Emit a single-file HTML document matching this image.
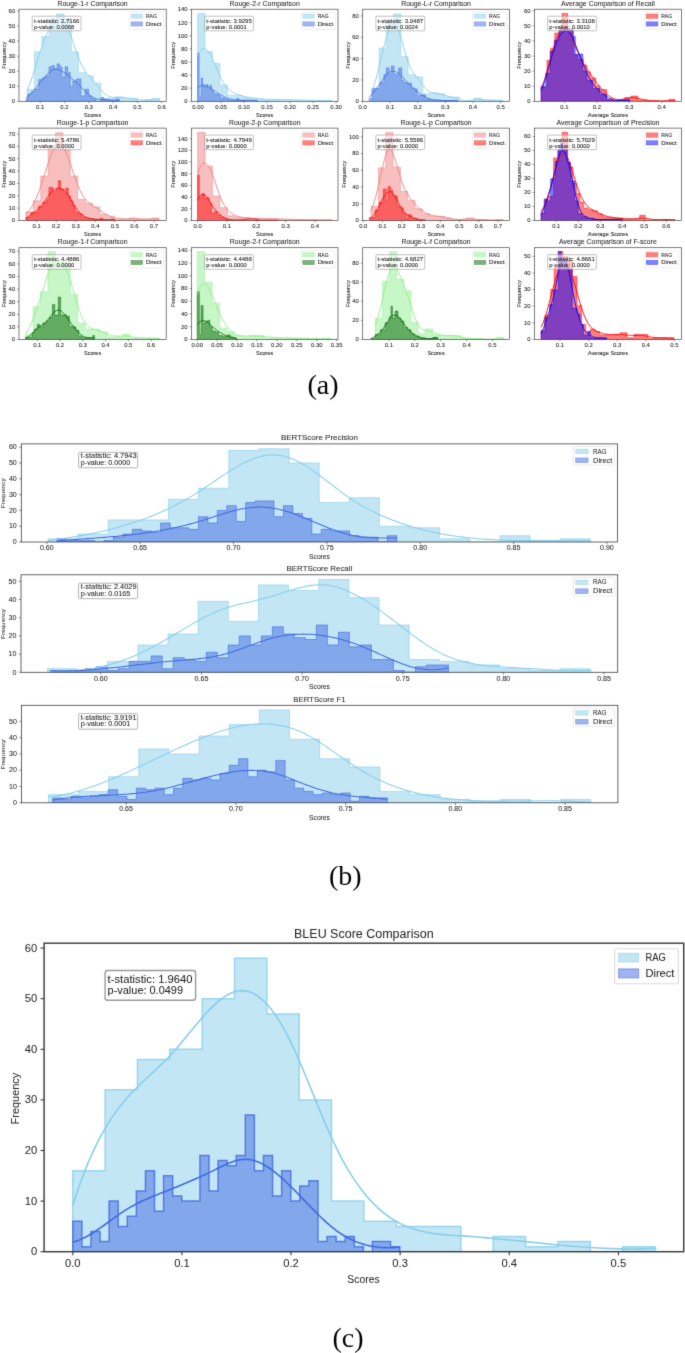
<!DOCTYPE html><html><head><meta charset="utf-8"><style>html,body{margin:0;padding:0;background:#fff}svg{display:block;will-change:transform}</style></head><body><svg width="685" height="1353" viewBox="0 0 685 1353"><defs><filter id="soft" x="0" y="0" width="685" height="1353" filterUnits="userSpaceOnUse" color-interpolation-filters="sRGB"><feConvolveMatrix order="3" kernelMatrix="0.01134 0.08382 0.01134 0.08382 0.61935 0.08382 0.01134 0.08382 0.01134" edgeMode="duplicate"/></filter></defs><rect width="685" height="1353" fill="#fff"/><g filter="url(#soft)"><rect width="685" height="1353" fill="#fff"/><g clip-path="url(#cc)">
<path d="M72.8,1251.7 L72.8,1170.74 L105.14,1170.74 L105.14,1089.78 L137.48,1089.78 L137.48,1059.42 L169.82,1059.42 L169.82,1049.3 L202.16,1049.3 L202.16,998.7 L234.5,998.7 L234.5,958.22 L266.84,958.22 L266.84,1013.88 L299.18,1013.88 L299.18,1099.9 L331.52,1099.9 L331.52,1201.1 L363.86,1201.1 L363.86,1221.34 L396.2,1221.34 L396.2,1226.4 L428.54,1226.4 L428.54,1226.4 L460.88,1226.4 L460.88,1251.7 L493.22,1251.7 L493.22,1236.52 L525.56,1236.52 L525.56,1246.64 L557.9,1246.64 L557.9,1241.58 L590.24,1241.58 L590.24,1251.7 L622.58,1251.7 L622.58,1246.64 L654.92,1246.64 L654.92,1251.7 Z" fill="rgba(135,206,235,0.5)" stroke="none"/>
<path d="M72.8,1251.7 L72.8,1170.74 L105.14,1170.74 L105.14,1089.78 L137.48,1089.78 L137.48,1059.42 L169.82,1059.42 L169.82,1049.3 L202.16,1049.3 L202.16,998.7 L234.5,998.7 L234.5,958.22 L266.84,958.22 L266.84,1013.88 L299.18,1013.88 L299.18,1099.9 L331.52,1099.9 L331.52,1201.1 L363.86,1201.1 L363.86,1221.34 L396.2,1221.34 L396.2,1226.4 L428.54,1226.4 L428.54,1226.4 L460.88,1226.4 L460.88,1251.7 L493.22,1251.7 L493.22,1236.52 L525.56,1236.52 L525.56,1246.64 L557.9,1246.64 L557.9,1241.58 L590.24,1241.58 L590.24,1251.7 L622.58,1251.7 L622.58,1246.64 L654.92,1246.64 L654.92,1251.7 Z" fill="none" stroke="rgba(135,206,235,0.8)" stroke-width="1.5" stroke-linejoin="miter"/>
<path d="M72.8,1251.7 L72.8,1221.34 L81.88,1221.34 L81.88,1246.64 L90.96,1246.64 L90.96,1231.46 L100.04,1231.46 L100.04,1241.58 L109.12,1241.58 L109.12,1201.1 L118.2,1201.1 L118.2,1226.4 L127.28,1226.4 L127.28,1216.28 L136.36,1216.28 L136.36,1190.98 L145.44,1190.98 L145.44,1170.74 L154.52,1170.74 L154.52,1211.22 L163.6,1211.22 L163.6,1175.8 L172.68,1175.8 L172.68,1196.04 L181.76,1196.04 L181.76,1201.1 L190.84,1201.1 L190.84,1201.1 L199.92,1201.1 L199.92,1155.56 L209,1155.56 L209,1190.98 L218.08,1190.98 L218.08,1160.62 L227.16,1160.62 L227.16,1165.68 L236.24,1165.68 L236.24,1155.56 L245.32,1155.56 L245.32,1115.08 L254.4,1115.08 L254.4,1170.74 L263.48,1170.74 L263.48,1155.56 L272.56,1155.56 L272.56,1196.04 L281.64,1196.04 L281.64,1170.74 L290.72,1170.74 L290.72,1201.1 L299.8,1201.1 L299.8,1185.92 L308.88,1185.92 L308.88,1180.86 L317.96,1180.86 L317.96,1241.58 L327.04,1241.58 L327.04,1236.52 L336.12,1236.52 L336.12,1241.58 L345.2,1241.58 L345.2,1236.52 L354.28,1236.52 L354.28,1246.64 L363.36,1246.64 L363.36,1251.7 L372.44,1251.7 L372.44,1241.58 L381.52,1241.58 L381.52,1241.58 L390.6,1241.58 L390.6,1246.64 L399.68,1246.64 L399.68,1251.7 Z" fill="rgba(65,105,225,0.5)" stroke="none"/>
<path d="M72.8,1251.7 L72.8,1221.34 L81.88,1221.34 L81.88,1246.64 L90.96,1246.64 L90.96,1231.46 L100.04,1231.46 L100.04,1241.58 L109.12,1241.58 L109.12,1201.1 L118.2,1201.1 L118.2,1226.4 L127.28,1226.4 L127.28,1216.28 L136.36,1216.28 L136.36,1190.98 L145.44,1190.98 L145.44,1170.74 L154.52,1170.74 L154.52,1211.22 L163.6,1211.22 L163.6,1175.8 L172.68,1175.8 L172.68,1196.04 L181.76,1196.04 L181.76,1201.1 L190.84,1201.1 L190.84,1201.1 L199.92,1201.1 L199.92,1155.56 L209,1155.56 L209,1190.98 L218.08,1190.98 L218.08,1160.62 L227.16,1160.62 L227.16,1165.68 L236.24,1165.68 L236.24,1155.56 L245.32,1155.56 L245.32,1115.08 L254.4,1115.08 L254.4,1170.74 L263.48,1170.74 L263.48,1155.56 L272.56,1155.56 L272.56,1196.04 L281.64,1196.04 L281.64,1170.74 L290.72,1170.74 L290.72,1201.1 L299.8,1201.1 L299.8,1185.92 L308.88,1185.92 L308.88,1180.86 L317.96,1180.86 L317.96,1241.58 L327.04,1241.58 L327.04,1236.52 L336.12,1236.52 L336.12,1241.58 L345.2,1241.58 L345.2,1236.52 L354.28,1236.52 L354.28,1246.64 L363.36,1246.64 L363.36,1251.7 L372.44,1251.7 L372.44,1241.58 L381.52,1241.58 L381.52,1241.58 L390.6,1241.58 L390.6,1246.64 L399.68,1246.64 L399.68,1251.7 Z" fill="none" stroke="rgba(65,105,225,0.8)" stroke-width="1.5" stroke-linejoin="miter"/>
<path d="M72.8,1205.43 L76.47,1194.07 L80.14,1183.46 L83.81,1173.57 L87.49,1164.36 L91.16,1155.78 L94.83,1147.81 L98.5,1140.4 L102.17,1133.51 L105.84,1127.12 L109.52,1121.18 L113.19,1115.66 L116.86,1110.52 L120.53,1105.72 L124.2,1101.22 L127.87,1096.99 L131.55,1092.99 L135.22,1089.18 L138.89,1085.53 L142.56,1082 L146.23,1078.54 L149.9,1075.14 L153.58,1071.73 L157.25,1068.3 L160.92,1064.8 L164.59,1061.2 L168.26,1057.46 L171.93,1053.53 L175.61,1049.42 L179.28,1045.15 L182.95,1040.77 L186.62,1036.32 L190.29,1031.85 L193.96,1027.4 L197.64,1023.01 L201.31,1018.72 L204.98,1014.57 L208.65,1010.62 L212.32,1006.9 L215.99,1003.45 L219.67,1000.32 L223.34,997.55 L227.01,995.18 L230.68,993.26 L234.35,991.83 L238.02,990.93 L241.7,990.6 L245.37,990.86 L249.04,991.72 L252.71,993.16 L256.38,995.19 L260.05,997.8 L263.73,1001 L267.4,1004.77 L271.07,1009.12 L274.74,1014.04 L278.41,1019.54 L282.08,1025.61 L285.76,1032.24 L289.43,1039.43 L293.1,1047.1 L296.77,1055.18 L300.44,1063.6 L304.11,1072.28 L307.79,1081.14 L311.46,1090.11 L315.13,1099.11 L318.8,1108.07 L322.47,1116.92 L326.14,1125.57 L329.82,1133.94 L333.49,1141.98 L337.16,1149.6 L340.83,1156.78 L344.5,1163.54 L348.17,1169.89 L351.85,1175.84 L355.52,1181.41 L359.19,1186.61 L362.86,1191.45 L366.53,1195.95 L370.2,1200.12 L373.88,1203.98 L377.55,1207.53 L381.22,1210.78 L384.89,1213.77 L388.56,1216.48 L392.23,1218.95 L395.91,1221.18 L399.58,1223.19 L403.25,1224.99 L406.92,1226.59 L410.59,1228 L414.26,1229.24 L417.93,1230.33 L421.61,1231.27 L425.28,1232.08 L428.95,1232.78 L432.62,1233.37 L436.29,1233.86 L439.96,1234.28 L443.64,1234.64 L447.31,1234.94 L450.98,1235.21 L454.65,1235.45 L458.32,1235.68 L461.99,1235.91 L465.67,1236.16 L469.34,1236.42 L473.01,1236.69 L476.68,1236.98 L480.35,1237.28 L484.02,1237.59 L487.7,1237.91 L491.37,1238.25 L495.04,1238.59 L498.71,1238.94 L502.38,1239.3 L506.05,1239.66 L509.73,1240.03 L513.4,1240.4 L517.07,1240.78 L520.74,1241.16 L524.41,1241.54 L528.08,1241.92 L531.76,1242.3 L535.43,1242.67 L539.1,1243.05 L542.77,1243.42 L546.44,1243.79 L550.11,1244.15 L553.79,1244.51 L557.46,1244.86 L561.13,1245.2 L564.8,1245.54 L568.47,1245.86 L572.14,1246.18 L575.82,1246.48 L579.49,1246.76 L583.16,1247.04 L586.83,1247.3 L590.5,1247.55 L594.17,1247.77 L597.85,1247.99 L601.52,1248.18 L605.19,1248.35 L608.86,1248.51 L612.53,1248.64 L616.2,1248.75 L619.88,1248.84 L623.55,1248.9 L627.22,1248.94 L630.89,1248.95 L634.56,1248.94 L638.23,1248.9 L641.91,1248.83 L645.58,1248.73 L649.25,1248.6 L652.92,1248.44 L656.59,1248.24" fill="none" stroke="rgb(135,206,235)" stroke-width="1.6" stroke-linejoin="round" stroke-linecap="butt"/>
<path d="M72.8,1242.17 L74.86,1241.59 L76.92,1240.91 L78.98,1240.13 L81.04,1239.27 L83.09,1238.31 L85.15,1237.28 L87.21,1236.18 L89.27,1235.01 L91.33,1233.78 L93.39,1232.5 L95.45,1231.16 L97.51,1229.79 L99.57,1228.38 L101.62,1226.94 L103.68,1225.48 L105.74,1224 L107.8,1222.51 L109.86,1221.02 L111.92,1219.53 L113.98,1218.04 L116.04,1216.57 L118.1,1215.12 L120.15,1213.69 L122.21,1212.3 L124.27,1210.94 L126.33,1209.63 L128.39,1208.36 L130.45,1207.15 L132.51,1205.99 L134.57,1204.88 L136.62,1203.8 L138.68,1202.77 L140.74,1201.77 L142.8,1200.8 L144.86,1199.87 L146.92,1198.96 L148.98,1198.07 L151.04,1197.2 L153.1,1196.35 L155.15,1195.51 L157.21,1194.68 L159.27,1193.85 L161.33,1193.03 L163.39,1192.22 L165.45,1191.39 L167.51,1190.57 L169.57,1189.75 L171.63,1188.92 L173.68,1188.09 L175.74,1187.25 L177.8,1186.41 L179.86,1185.56 L181.92,1184.71 L183.98,1183.85 L186.04,1182.99 L188.1,1182.11 L190.16,1181.23 L192.21,1180.34 L194.27,1179.45 L196.33,1178.54 L198.39,1177.62 L200.45,1176.69 L202.51,1175.76 L204.57,1174.81 L206.63,1173.84 L208.69,1172.87 L210.74,1171.88 L212.8,1170.88 L214.86,1169.87 L216.92,1168.84 L218.98,1167.81 L221.04,1166.79 L223.1,1165.79 L225.16,1164.82 L227.22,1163.9 L229.27,1163.02 L231.33,1162.21 L233.39,1161.48 L235.45,1160.83 L237.51,1160.29 L239.57,1159.85 L241.63,1159.53 L243.69,1159.34 L245.74,1159.29 L247.8,1159.39 L249.86,1159.64 L251.92,1160.03 L253.98,1160.54 L256.04,1161.19 L258.1,1161.96 L260.16,1162.85 L262.22,1163.85 L264.27,1164.96 L266.33,1166.17 L268.39,1167.47 L270.45,1168.87 L272.51,1170.36 L274.57,1171.92 L276.63,1173.56 L278.69,1175.27 L280.75,1177.05 L282.8,1178.89 L284.86,1180.78 L286.92,1182.72 L288.98,1184.71 L291.04,1186.73 L293.1,1188.79 L295.16,1190.88 L297.22,1192.99 L299.28,1195.12 L301.33,1197.26 L303.39,1199.41 L305.45,1201.56 L307.51,1203.71 L309.57,1205.85 L311.63,1207.98 L313.69,1210.09 L315.75,1212.17 L317.81,1214.23 L319.86,1216.25 L321.92,1218.23 L323.98,1220.17 L326.04,1222.05 L328.1,1223.88 L330.16,1225.66 L332.22,1227.36 L334.28,1228.99 L336.34,1230.55 L338.39,1232.03 L340.45,1233.43 L342.51,1234.75 L344.57,1236 L346.63,1237.18 L348.69,1238.28 L350.75,1239.31 L352.81,1240.28 L354.86,1241.17 L356.92,1242.01 L358.98,1242.78 L361.04,1243.48 L363.1,1244.13 L365.16,1244.71 L367.22,1245.24 L369.28,1245.71 L371.34,1246.13 L373.39,1246.5 L375.45,1246.81 L377.51,1247.08 L379.57,1247.29 L381.63,1247.47 L383.69,1247.59 L385.75,1247.67 L387.81,1247.72 L389.87,1247.72 L391.92,1247.68 L393.98,1247.61 L396.04,1247.5 L398.1,1247.35 L400.16,1247.18" fill="none" stroke="rgb(65,105,225)" stroke-width="1.6" stroke-linejoin="round" stroke-linecap="butt"/>
</g>
<clipPath id="cc"><rect x="44.1" y="943.2" width="639.6" height="308.5"/></clipPath>
<rect x="105.1" y="970.5" width="90.5" height="29.8" rx="2.5" fill="rgba(255,255,255,0.55)" stroke="#999" stroke-width="1.38"/>
<text x="107.6" y="982.6" font-family="Liberation Sans" font-size="10.18" text-anchor="start" textLength="84.89" lengthAdjust="spacingAndGlyphs" fill="#202020" stroke="#202020" stroke-width="0.03">t-statistic: 1.9640</text>
<text x="107.6" y="993.6" font-family="Liberation Sans" font-size="10.18" text-anchor="start" textLength="75.4" lengthAdjust="spacingAndGlyphs" fill="#202020" stroke="#202020" stroke-width="0.03">p-value: 0.0499</text>
<rect x="614.7" y="948.8" width="63.7" height="35" rx="2" fill="rgba(255,255,255,0.8)" stroke="#dcdcdc" stroke-width="1.1"/>
<rect x="618.6" y="953.3" width="20" height="8.7" fill="rgba(135,206,235,0.5)" stroke="rgba(135,206,235,0.5)" stroke-width="1.1"/>
<text x="645.4" y="961.4" font-family="Liberation Sans" font-size="10.28" text-anchor="start" textLength="20.33" lengthAdjust="spacingAndGlyphs" fill="#202020" stroke="#202020" stroke-width="0.03">RAG</text>
<rect x="618.6" y="968.9" width="20" height="9" fill="rgba(65,105,225,0.5)" stroke="rgba(65,105,225,0.5)" stroke-width="1.1"/>
<text x="645.4" y="977.2" font-family="Liberation Sans" font-size="10.28" text-anchor="start" textLength="29.04" lengthAdjust="spacingAndGlyphs" fill="#202020" stroke="#202020" stroke-width="0.03">Direct</text>
<rect x="44.1" y="943.2" width="639.6" height="308.5" fill="none" stroke="#3a3a3a" stroke-width="1.43"/>
<line x1="72.8" y1="1251.7" x2="72.8" y2="1255.3" stroke="#3a3a3a" stroke-width="1.1"/>
<text x="72.8" y="1267.4" font-family="Liberation Sans" font-size="10.39" text-anchor="middle" textLength="15.59" lengthAdjust="spacingAndGlyphs" fill="#262626" stroke="#262626" stroke-width="0.03">0.0</text>
<line x1="181.92" y1="1251.7" x2="181.92" y2="1255.3" stroke="#3a3a3a" stroke-width="1.1"/>
<text x="181.92" y="1267.4" font-family="Liberation Sans" font-size="10.39" text-anchor="middle" textLength="15.59" lengthAdjust="spacingAndGlyphs" fill="#262626" stroke="#262626" stroke-width="0.03">0.1</text>
<line x1="291.04" y1="1251.7" x2="291.04" y2="1255.3" stroke="#3a3a3a" stroke-width="1.1"/>
<text x="291.04" y="1267.4" font-family="Liberation Sans" font-size="10.39" text-anchor="middle" textLength="15.59" lengthAdjust="spacingAndGlyphs" fill="#262626" stroke="#262626" stroke-width="0.03">0.2</text>
<line x1="400.16" y1="1251.7" x2="400.16" y2="1255.3" stroke="#3a3a3a" stroke-width="1.1"/>
<text x="400.16" y="1267.4" font-family="Liberation Sans" font-size="10.39" text-anchor="middle" textLength="15.59" lengthAdjust="spacingAndGlyphs" fill="#262626" stroke="#262626" stroke-width="0.03">0.3</text>
<line x1="509.28" y1="1251.7" x2="509.28" y2="1255.3" stroke="#3a3a3a" stroke-width="1.1"/>
<text x="509.28" y="1267.4" font-family="Liberation Sans" font-size="10.39" text-anchor="middle" textLength="15.59" lengthAdjust="spacingAndGlyphs" fill="#262626" stroke="#262626" stroke-width="0.03">0.4</text>
<line x1="618.4" y1="1251.7" x2="618.4" y2="1255.3" stroke="#3a3a3a" stroke-width="1.1"/>
<text x="618.4" y="1267.4" font-family="Liberation Sans" font-size="10.39" text-anchor="middle" textLength="15.59" lengthAdjust="spacingAndGlyphs" fill="#262626" stroke="#262626" stroke-width="0.03">0.5</text>
<line x1="40.5" y1="1251.7" x2="44.1" y2="1251.7" stroke="#3a3a3a" stroke-width="1.1"/>
<text x="37.3" y="1255.23" font-family="Liberation Sans" font-size="10.39" text-anchor="end" textLength="6.24" lengthAdjust="spacingAndGlyphs" fill="#262626" stroke="#262626" stroke-width="0.03">0</text>
<line x1="40.5" y1="1201.1" x2="44.1" y2="1201.1" stroke="#3a3a3a" stroke-width="1.1"/>
<text x="37.3" y="1204.63" font-family="Liberation Sans" font-size="10.39" text-anchor="end" textLength="12.47" lengthAdjust="spacingAndGlyphs" fill="#262626" stroke="#262626" stroke-width="0.03">10</text>
<line x1="40.5" y1="1150.5" x2="44.1" y2="1150.5" stroke="#3a3a3a" stroke-width="1.1"/>
<text x="37.3" y="1154.03" font-family="Liberation Sans" font-size="10.39" text-anchor="end" textLength="12.47" lengthAdjust="spacingAndGlyphs" fill="#262626" stroke="#262626" stroke-width="0.03">20</text>
<line x1="40.5" y1="1099.9" x2="44.1" y2="1099.9" stroke="#3a3a3a" stroke-width="1.1"/>
<text x="37.3" y="1103.43" font-family="Liberation Sans" font-size="10.39" text-anchor="end" textLength="12.47" lengthAdjust="spacingAndGlyphs" fill="#262626" stroke="#262626" stroke-width="0.03">30</text>
<line x1="40.5" y1="1049.3" x2="44.1" y2="1049.3" stroke="#3a3a3a" stroke-width="1.1"/>
<text x="37.3" y="1052.83" font-family="Liberation Sans" font-size="10.39" text-anchor="end" textLength="12.47" lengthAdjust="spacingAndGlyphs" fill="#262626" stroke="#262626" stroke-width="0.03">40</text>
<line x1="40.5" y1="998.7" x2="44.1" y2="998.7" stroke="#3a3a3a" stroke-width="1.1"/>
<text x="37.3" y="1002.23" font-family="Liberation Sans" font-size="10.39" text-anchor="end" textLength="12.47" lengthAdjust="spacingAndGlyphs" fill="#262626" stroke="#262626" stroke-width="0.03">50</text>
<line x1="40.5" y1="948.1" x2="44.1" y2="948.1" stroke="#3a3a3a" stroke-width="1.1"/>
<text x="37.3" y="951.63" font-family="Liberation Sans" font-size="10.39" text-anchor="end" textLength="12.47" lengthAdjust="spacingAndGlyphs" fill="#262626" stroke="#262626" stroke-width="0.03">60</text>
<text x="363.8" y="938" font-family="Liberation Sans" font-size="12.3" text-anchor="middle" textLength="139.56" lengthAdjust="spacingAndGlyphs" fill="#262626" stroke="#262626" stroke-width="0.03">BLEU Score Comparison</text>
<text x="363.5" y="1282.5" font-family="Liberation Sans" font-size="10.28" text-anchor="middle" textLength="32.22" lengthAdjust="spacingAndGlyphs" fill="#262626" stroke="#262626" stroke-width="0.03">Scores</text>
<text transform="translate(18.9,1098.6) rotate(-90)" x="0" y="0" font-family="Liberation Sans" font-size="10.6" text-anchor="middle" textLength="51.66" lengthAdjust="spacingAndGlyphs" fill="#262626" stroke="#262626" stroke-width="0.03">Frequency</text>
<g clip-path="url(#b0)">
<path d="M48,542 L48,538.84 L78.13,538.84 L78.13,534.1 L108.26,534.1 L108.26,519.88 L138.39,519.88 L138.39,519.88 L168.52,519.88 L168.52,499.34 L198.65,499.34 L198.65,488.28 L228.78,488.28 L228.78,450.36 L258.91,450.36 L258.91,448.78 L289.04,448.78 L289.04,463 L319.17,463 L319.17,502.5 L349.3,502.5 L349.3,497.76 L379.43,497.76 L379.43,526.2 L409.56,526.2 L409.56,527.78 L439.69,527.78 L439.69,538.84 L469.82,538.84 L469.82,542 L499.95,542 L499.95,535.68 L530.08,535.68 L530.08,540.42 L560.21,540.42 L560.21,538.84 L590.34,538.84 L590.34,542 Z" fill="rgba(135,206,235,0.5)" stroke="none"/>
<path d="M48,542 L48,538.84 L78.13,538.84 L78.13,534.1 L108.26,534.1 L108.26,519.88 L138.39,519.88 L138.39,519.88 L168.52,519.88 L168.52,499.34 L198.65,499.34 L198.65,488.28 L228.78,488.28 L228.78,450.36 L258.91,450.36 L258.91,448.78 L289.04,448.78 L289.04,463 L319.17,463 L319.17,502.5 L349.3,502.5 L349.3,497.76 L379.43,497.76 L379.43,526.2 L409.56,526.2 L409.56,527.78 L439.69,527.78 L439.69,538.84 L469.82,538.84 L469.82,542 L499.95,542 L499.95,535.68 L530.08,535.68 L530.08,540.42 L560.21,540.42 L560.21,538.84 L590.34,538.84 L590.34,542 Z" fill="none" stroke="rgba(135,206,235,0.75)" stroke-width="0.8" stroke-linejoin="miter"/>
<path d="M56.8,542 L56.8,538.84 L66.24,538.84 L66.24,540.42 L75.69,540.42 L75.69,540.42 L85.13,540.42 L85.13,540.42 L94.58,540.42 L94.58,542 L104.02,542 L104.02,540.42 L113.46,540.42 L113.46,537.26 L122.91,537.26 L122.91,534.1 L132.35,534.1 L132.35,529.36 L141.8,529.36 L141.8,530.94 L151.24,530.94 L151.24,532.52 L160.68,532.52 L160.68,523.04 L170.13,523.04 L170.13,527.78 L179.57,527.78 L179.57,527.78 L189.02,527.78 L189.02,529.36 L198.46,529.36 L198.46,516.72 L207.9,516.72 L207.9,523.04 L217.35,523.04 L217.35,510.4 L226.79,510.4 L226.79,505.66 L236.24,505.66 L236.24,521.46 L245.68,521.46 L245.68,502.5 L255.12,502.5 L255.12,500.92 L264.57,500.92 L264.57,500.92 L274.01,500.92 L274.01,516.72 L283.46,516.72 L283.46,505.66 L292.9,505.66 L292.9,513.56 L302.34,513.56 L302.34,518.3 L311.79,518.3 L311.79,534.1 L321.23,534.1 L321.23,529.36 L330.68,529.36 L330.68,530.94 L340.12,530.94 L340.12,530.94 L349.56,530.94 L349.56,535.68 L359.01,535.68 L359.01,537.26 L368.45,537.26 L368.45,537.26 L377.9,537.26 L377.9,542 L387.34,542 L387.34,535.68 L396.78,535.68 L396.78,542 Z" fill="rgba(65,105,225,0.5)" stroke="none"/>
<path d="M56.8,542 L56.8,538.84 L66.24,538.84 L66.24,540.42 L75.69,540.42 L75.69,540.42 L85.13,540.42 L85.13,540.42 L94.58,540.42 L94.58,542 L104.02,542 L104.02,540.42 L113.46,540.42 L113.46,537.26 L122.91,537.26 L122.91,534.1 L132.35,534.1 L132.35,529.36 L141.8,529.36 L141.8,530.94 L151.24,530.94 L151.24,532.52 L160.68,532.52 L160.68,523.04 L170.13,523.04 L170.13,527.78 L179.57,527.78 L179.57,527.78 L189.02,527.78 L189.02,529.36 L198.46,529.36 L198.46,516.72 L207.9,516.72 L207.9,523.04 L217.35,523.04 L217.35,510.4 L226.79,510.4 L226.79,505.66 L236.24,505.66 L236.24,521.46 L245.68,521.46 L245.68,502.5 L255.12,502.5 L255.12,500.92 L264.57,500.92 L264.57,500.92 L274.01,500.92 L274.01,516.72 L283.46,516.72 L283.46,505.66 L292.9,505.66 L292.9,513.56 L302.34,513.56 L302.34,518.3 L311.79,518.3 L311.79,534.1 L321.23,534.1 L321.23,529.36 L330.68,529.36 L330.68,530.94 L340.12,530.94 L340.12,530.94 L349.56,530.94 L349.56,535.68 L359.01,535.68 L359.01,537.26 L368.45,537.26 L368.45,537.26 L377.9,537.26 L377.9,542 L387.34,542 L387.34,535.68 L396.78,535.68 L396.78,542 Z" fill="none" stroke="rgba(65,105,225,0.75)" stroke-width="0.8" stroke-linejoin="miter"/>
<path d="M47.92,540.76 L51.33,540.29 L54.75,539.81 L58.16,539.32 L61.57,538.81 L64.99,538.29 L68.4,537.75 L71.81,537.19 L75.23,536.62 L78.64,536.03 L82.05,535.41 L85.47,534.77 L88.88,534.11 L92.29,533.42 L95.71,532.71 L99.12,531.96 L102.54,531.19 L105.95,530.39 L109.36,529.55 L112.78,528.69 L116.19,527.78 L119.6,526.84 L123.02,525.87 L126.43,524.85 L129.84,523.8 L133.26,522.7 L136.67,521.56 L140.08,520.38 L143.5,519.15 L146.91,517.87 L150.32,516.55 L153.74,515.17 L157.15,513.75 L160.56,512.27 L163.98,510.74 L167.39,509.16 L170.8,507.52 L174.22,505.82 L177.63,504.06 L181.04,502.25 L184.46,500.37 L187.87,498.43 L191.28,496.42 L194.7,494.35 L198.11,492.21 L201.52,490.01 L204.94,487.75 L208.35,485.44 L211.77,483.12 L215.18,480.78 L218.59,478.45 L222.01,476.14 L225.42,473.87 L228.83,471.65 L232.25,469.5 L235.66,467.44 L239.07,465.48 L242.49,463.63 L245.9,461.92 L249.31,460.35 L252.73,458.94 L256.14,457.72 L259.55,456.69 L262.97,455.87 L266.38,455.28 L269.79,454.92 L273.21,454.83 L276.62,454.99 L280.03,455.4 L283.45,456.06 L286.86,456.96 L290.27,458.1 L293.69,459.47 L297.1,461.06 L300.51,462.84 L303.93,464.8 L307.34,466.91 L310.76,469.16 L314.17,471.52 L317.58,473.98 L321,476.51 L324.41,479.1 L327.82,481.72 L331.24,484.36 L334.65,486.99 L338.06,489.6 L341.48,492.16 L344.89,494.66 L348.3,497.07 L351.72,499.38 L355.13,501.58 L358.54,503.68 L361.96,505.68 L365.37,507.59 L368.78,509.41 L372.2,511.15 L375.61,512.82 L379.02,514.41 L382.44,515.94 L385.85,517.41 L389.26,518.82 L392.68,520.18 L396.09,521.47 L399.5,522.71 L402.92,523.89 L406.33,525.03 L409.74,526.1 L413.16,527.13 L416.57,528.11 L419.99,529.04 L423.4,529.92 L426.81,530.76 L430.23,531.55 L433.64,532.3 L437.05,533.01 L440.47,533.67 L443.88,534.3 L447.29,534.88 L450.71,535.44 L454.12,535.95 L457.53,536.43 L460.95,536.88 L464.36,537.29 L467.77,537.67 L471.19,538.03 L474.6,538.35 L478.01,538.65 L481.43,538.92 L484.84,539.17 L488.25,539.39 L491.67,539.59 L495.08,539.77 L498.49,539.92 L501.91,540.06 L505.32,540.19 L508.73,540.29 L512.15,540.38 L515.56,540.46 L518.97,540.52 L522.39,540.57 L525.8,540.61 L529.22,540.64 L532.63,540.66 L536.04,540.68 L539.46,540.69 L542.87,540.7 L546.28,540.7 L549.7,540.7 L553.11,540.7 L556.52,540.7 L559.94,540.71 L563.35,540.71 L566.76,540.72 L570.18,540.74 L573.59,540.76 L577,540.79 L580.42,540.83 L583.83,540.88 L587.24,540.94 L590.66,541.01" fill="none" stroke="rgb(135,206,235)" stroke-width="1.05" stroke-linejoin="round" stroke-linecap="butt"/>
<path d="M57.44,540.69 L59.58,540.54 L61.71,540.38 L63.85,540.23 L65.98,540.09 L68.12,539.94 L70.25,539.79 L72.38,539.65 L74.52,539.5 L76.65,539.36 L78.79,539.21 L80.92,539.07 L83.06,538.92 L85.19,538.77 L87.33,538.62 L89.46,538.47 L91.6,538.32 L93.73,538.17 L95.87,538.01 L98,537.85 L100.14,537.69 L102.27,537.53 L104.41,537.36 L106.54,537.18 L108.68,537.01 L110.81,536.82 L112.94,536.64 L115.08,536.44 L117.21,536.25 L119.35,536.04 L121.48,535.83 L123.62,535.62 L125.75,535.4 L127.89,535.17 L130.02,534.93 L132.16,534.68 L134.29,534.43 L136.43,534.17 L138.56,533.9 L140.7,533.62 L142.83,533.34 L144.97,533.04 L147.1,532.74 L149.23,532.42 L151.37,532.09 L153.5,531.76 L155.64,531.41 L157.77,531.05 L159.91,530.68 L162.04,530.3 L164.18,529.9 L166.31,529.5 L168.45,529.08 L170.58,528.65 L172.72,528.2 L174.85,527.74 L176.99,527.27 L179.12,526.78 L181.26,526.28 L183.39,525.76 L185.53,525.23 L187.66,524.69 L189.79,524.12 L191.93,523.54 L194.06,522.95 L196.2,522.34 L198.33,521.71 L200.47,521.06 L202.6,520.4 L204.74,519.73 L206.87,519.05 L209.01,518.36 L211.14,517.66 L213.28,516.97 L215.41,516.28 L217.55,515.59 L219.68,514.91 L221.82,514.23 L223.95,513.57 L226.08,512.93 L228.22,512.31 L230.35,511.7 L232.49,511.12 L234.62,510.57 L236.76,510.05 L238.89,509.56 L241.03,509.1 L243.16,508.68 L245.3,508.31 L247.43,507.98 L249.57,507.69 L251.7,507.45 L253.84,507.27 L255.97,507.14 L258.11,507.07 L260.24,507.06 L262.38,507.1 L264.51,507.21 L266.64,507.38 L268.78,507.6 L270.91,507.87 L273.05,508.2 L275.18,508.58 L277.32,509.01 L279.45,509.49 L281.59,510.02 L283.72,510.6 L285.86,511.22 L287.99,511.87 L290.13,512.57 L292.26,513.29 L294.4,514.05 L296.53,514.84 L298.67,515.65 L300.8,516.48 L302.93,517.33 L305.07,518.2 L307.2,519.08 L309.34,519.97 L311.47,520.86 L313.61,521.76 L315.74,522.66 L317.88,523.56 L320.01,524.46 L322.15,525.34 L324.28,526.22 L326.42,527.08 L328.55,527.92 L330.69,528.75 L332.82,529.55 L334.96,530.33 L337.09,531.07 L339.23,531.79 L341.36,532.47 L343.49,533.11 L345.63,533.71 L347.76,534.27 L349.9,534.78 L352.03,535.25 L354.17,535.66 L356.3,536.04 L358.44,536.37 L360.57,536.66 L362.71,536.91 L364.84,537.13 L366.98,537.32 L369.11,537.48 L371.25,537.61 L373.38,537.72 L375.52,537.8 L377.65,537.86 L379.78,537.9 L381.92,537.93 L384.05,537.95 L386.19,537.95 L388.32,537.95 L390.46,537.94 L392.59,537.92 L394.73,537.9 L396.86,537.89" fill="none" stroke="rgb(65,105,225)" stroke-width="1.05" stroke-linejoin="round" stroke-linecap="butt"/>
</g>
<clipPath id="b0"><rect x="21.3" y="443.9" width="596.2" height="98.1"/></clipPath>
<rect x="78.6" y="452.3" width="59" height="15.5" rx="1.5" fill="rgba(255,255,255,0.55)" stroke="#999" stroke-width="0.75"/>
<text x="80.8" y="458.3" font-family="Liberation Sans" font-size="6.68" text-anchor="start" textLength="55.71" lengthAdjust="spacingAndGlyphs" fill="#202020" stroke="#202020" stroke-width="0.05">t-statistic: 4.7943</text>
<text x="80.8" y="464.7" font-family="Liberation Sans" font-size="6.68" text-anchor="start" textLength="49.48" lengthAdjust="spacingAndGlyphs" fill="#202020" stroke="#202020" stroke-width="0.05">p-value: 0.0000</text>
<rect x="573.2" y="446.6" width="41.4" height="18.6" rx="1.3" fill="rgba(255,255,255,0.8)" stroke="#dcdcdc" stroke-width="0.6"/>
<rect x="575.6" y="449.1" width="12.5" height="4.7" fill="rgba(135,206,235,0.5)" stroke="rgba(135,206,235,0.5)" stroke-width="0.6"/>
<text x="593.1" y="453.5" font-family="Liberation Sans" font-size="6.78" text-anchor="start" textLength="13.41" lengthAdjust="spacingAndGlyphs" fill="#202020" stroke="#202020" stroke-width="0.05">RAG</text>
<rect x="575.6" y="457.9" width="12.5" height="4.8" fill="rgba(65,105,225,0.5)" stroke="rgba(65,105,225,0.5)" stroke-width="0.6"/>
<text x="593.1" y="462.5" font-family="Liberation Sans" font-size="6.78" text-anchor="start" textLength="19.16" lengthAdjust="spacingAndGlyphs" fill="#202020" stroke="#202020" stroke-width="0.05">Direct</text>
<rect x="21.3" y="443.9" width="596.2" height="98.1" fill="none" stroke="#3a3a3a" stroke-width="0.78"/>
<line x1="46.8" y1="542" x2="46.8" y2="544.2" stroke="#3a3a3a" stroke-width="0.6"/>
<text x="46.8" y="550.4" font-family="Liberation Sans" font-size="6.57" text-anchor="middle" textLength="13.8" lengthAdjust="spacingAndGlyphs" fill="#262626" stroke="#262626" stroke-width="0.05">0.60</text>
<line x1="140.15" y1="542" x2="140.15" y2="544.2" stroke="#3a3a3a" stroke-width="0.6"/>
<text x="140.15" y="550.4" font-family="Liberation Sans" font-size="6.57" text-anchor="middle" textLength="13.8" lengthAdjust="spacingAndGlyphs" fill="#262626" stroke="#262626" stroke-width="0.05">0.65</text>
<line x1="233.5" y1="542" x2="233.5" y2="544.2" stroke="#3a3a3a" stroke-width="0.6"/>
<text x="233.5" y="550.4" font-family="Liberation Sans" font-size="6.57" text-anchor="middle" textLength="13.8" lengthAdjust="spacingAndGlyphs" fill="#262626" stroke="#262626" stroke-width="0.05">0.70</text>
<line x1="326.85" y1="542" x2="326.85" y2="544.2" stroke="#3a3a3a" stroke-width="0.6"/>
<text x="326.85" y="550.4" font-family="Liberation Sans" font-size="6.57" text-anchor="middle" textLength="13.8" lengthAdjust="spacingAndGlyphs" fill="#262626" stroke="#262626" stroke-width="0.05">0.75</text>
<line x1="420.2" y1="542" x2="420.2" y2="544.2" stroke="#3a3a3a" stroke-width="0.6"/>
<text x="420.2" y="550.4" font-family="Liberation Sans" font-size="6.57" text-anchor="middle" textLength="13.8" lengthAdjust="spacingAndGlyphs" fill="#262626" stroke="#262626" stroke-width="0.05">0.80</text>
<line x1="513.55" y1="542" x2="513.55" y2="544.2" stroke="#3a3a3a" stroke-width="0.6"/>
<text x="513.55" y="550.4" font-family="Liberation Sans" font-size="6.57" text-anchor="middle" textLength="13.8" lengthAdjust="spacingAndGlyphs" fill="#262626" stroke="#262626" stroke-width="0.05">0.85</text>
<line x1="606.9" y1="542" x2="606.9" y2="544.2" stroke="#3a3a3a" stroke-width="0.6"/>
<text x="606.9" y="550.4" font-family="Liberation Sans" font-size="6.57" text-anchor="middle" textLength="13.8" lengthAdjust="spacingAndGlyphs" fill="#262626" stroke="#262626" stroke-width="0.05">0.90</text>
<line x1="19.1" y1="542" x2="21.3" y2="542" stroke="#3a3a3a" stroke-width="0.6"/>
<text x="16.8" y="544.23" font-family="Liberation Sans" font-size="6.57" text-anchor="end" textLength="3.94" lengthAdjust="spacingAndGlyphs" fill="#262626" stroke="#262626" stroke-width="0.05">0</text>
<line x1="19.1" y1="526.2" x2="21.3" y2="526.2" stroke="#3a3a3a" stroke-width="0.6"/>
<text x="16.8" y="528.43" font-family="Liberation Sans" font-size="6.57" text-anchor="end" textLength="7.89" lengthAdjust="spacingAndGlyphs" fill="#262626" stroke="#262626" stroke-width="0.05">10</text>
<line x1="19.1" y1="510.4" x2="21.3" y2="510.4" stroke="#3a3a3a" stroke-width="0.6"/>
<text x="16.8" y="512.63" font-family="Liberation Sans" font-size="6.57" text-anchor="end" textLength="7.89" lengthAdjust="spacingAndGlyphs" fill="#262626" stroke="#262626" stroke-width="0.05">20</text>
<line x1="19.1" y1="494.6" x2="21.3" y2="494.6" stroke="#3a3a3a" stroke-width="0.6"/>
<text x="16.8" y="496.83" font-family="Liberation Sans" font-size="6.57" text-anchor="end" textLength="7.89" lengthAdjust="spacingAndGlyphs" fill="#262626" stroke="#262626" stroke-width="0.05">30</text>
<line x1="19.1" y1="478.8" x2="21.3" y2="478.8" stroke="#3a3a3a" stroke-width="0.6"/>
<text x="16.8" y="481.03" font-family="Liberation Sans" font-size="6.57" text-anchor="end" textLength="7.89" lengthAdjust="spacingAndGlyphs" fill="#262626" stroke="#262626" stroke-width="0.05">40</text>
<line x1="19.1" y1="463" x2="21.3" y2="463" stroke="#3a3a3a" stroke-width="0.6"/>
<text x="16.8" y="465.23" font-family="Liberation Sans" font-size="6.57" text-anchor="end" textLength="7.89" lengthAdjust="spacingAndGlyphs" fill="#262626" stroke="#262626" stroke-width="0.05">50</text>
<line x1="19.1" y1="447.2" x2="21.3" y2="447.2" stroke="#3a3a3a" stroke-width="0.6"/>
<text x="16.8" y="449.43" font-family="Liberation Sans" font-size="6.57" text-anchor="end" textLength="7.89" lengthAdjust="spacingAndGlyphs" fill="#262626" stroke="#262626" stroke-width="0.05">60</text>
<text x="319.4" y="440.3" font-family="Liberation Sans" font-size="8.06" text-anchor="middle" textLength="77" lengthAdjust="spacingAndGlyphs" fill="#262626" stroke="#262626" stroke-width="0.05">BERTScore Precision</text>
<text x="319.5" y="558.8" font-family="Liberation Sans" font-size="6.68" text-anchor="middle" textLength="20.93" lengthAdjust="spacingAndGlyphs" fill="#262626" stroke="#262626" stroke-width="0.05">Scores</text>
<text transform="translate(4.7,493.35) rotate(-90)" x="0" y="0" font-family="Liberation Sans" font-size="6.15" text-anchor="middle" textLength="29.96" lengthAdjust="spacingAndGlyphs" fill="#262626" stroke="#262626" stroke-width="0.05">Frequency</text>
<g clip-path="url(#b1)">
<path d="M47.4,672.3 L47.4,668.66 L77.55,668.66 L77.55,670.48 L107.7,670.48 L107.7,661.38 L137.85,661.38 L137.85,645 L168,645 L168,634.08 L198.15,634.08 L198.15,601.32 L228.3,601.32 L228.3,621.34 L258.45,621.34 L258.45,584.94 L288.6,584.94 L288.6,590.4 L318.75,590.4 L318.75,579.48 L348.9,579.48 L348.9,597.68 L379.05,597.68 L379.05,624.98 L409.2,624.98 L409.2,659.56 L439.35,659.56 L439.35,661.38 L469.5,661.38 L469.5,665.02 L499.65,665.02 L499.65,668.66 L529.8,668.66 L529.8,670.48 L559.95,670.48 L559.95,668.66 L590.1,668.66 L590.1,672.3 Z" fill="rgba(135,206,235,0.5)" stroke="none"/>
<path d="M47.4,672.3 L47.4,668.66 L77.55,668.66 L77.55,670.48 L107.7,670.48 L107.7,661.38 L137.85,661.38 L137.85,645 L168,645 L168,634.08 L198.15,634.08 L198.15,601.32 L228.3,601.32 L228.3,621.34 L258.45,621.34 L258.45,584.94 L288.6,584.94 L288.6,590.4 L318.75,590.4 L318.75,579.48 L348.9,579.48 L348.9,597.68 L379.05,597.68 L379.05,624.98 L409.2,624.98 L409.2,659.56 L439.35,659.56 L439.35,661.38 L469.5,661.38 L469.5,665.02 L499.65,665.02 L499.65,668.66 L529.8,668.66 L529.8,670.48 L559.95,670.48 L559.95,668.66 L590.1,668.66 L590.1,672.3 Z" fill="none" stroke="rgba(135,206,235,0.75)" stroke-width="0.8" stroke-linejoin="miter"/>
<path d="M52.1,672.3 L52.1,670.48 L63.11,670.48 L63.11,670.48 L74.12,670.48 L74.12,670.48 L85.13,670.48 L85.13,668.66 L96.14,668.66 L96.14,666.84 L107.15,666.84 L107.15,670.48 L118.16,670.48 L118.16,668.66 L129.17,668.66 L129.17,661.38 L140.18,661.38 L140.18,661.38 L151.19,661.38 L151.19,655.92 L162.2,655.92 L162.2,668.66 L173.21,668.66 L173.21,657.74 L184.22,657.74 L184.22,659.56 L195.23,659.56 L195.23,661.38 L206.24,661.38 L206.24,652.28 L217.25,652.28 L217.25,657.74 L228.26,657.74 L228.26,645 L239.27,645 L239.27,635.9 L250.28,635.9 L250.28,645 L261.29,645 L261.29,635.9 L272.3,635.9 L272.3,626.8 L283.31,626.8 L283.31,634.08 L294.32,634.08 L294.32,637.72 L305.33,637.72 L305.33,639.54 L316.34,639.54 L316.34,624.98 L327.35,624.98 L327.35,645 L338.36,645 L338.36,632.26 L349.37,632.26 L349.37,646.82 L360.38,646.82 L360.38,645 L371.39,645 L371.39,659.56 L382.4,659.56 L382.4,659.56 L393.41,659.56 L393.41,670.48 L404.42,670.48 L404.42,672.3 L415.43,672.3 L415.43,666.84 L426.44,666.84 L426.44,665.02 L437.45,665.02 L437.45,665.02 L448.46,665.02 L448.46,672.3 Z" fill="rgba(65,105,225,0.5)" stroke="none"/>
<path d="M52.1,672.3 L52.1,670.48 L63.11,670.48 L63.11,670.48 L74.12,670.48 L74.12,670.48 L85.13,670.48 L85.13,668.66 L96.14,668.66 L96.14,666.84 L107.15,666.84 L107.15,670.48 L118.16,670.48 L118.16,668.66 L129.17,668.66 L129.17,661.38 L140.18,661.38 L140.18,661.38 L151.19,661.38 L151.19,655.92 L162.2,655.92 L162.2,668.66 L173.21,668.66 L173.21,657.74 L184.22,657.74 L184.22,659.56 L195.23,659.56 L195.23,661.38 L206.24,661.38 L206.24,652.28 L217.25,652.28 L217.25,657.74 L228.26,657.74 L228.26,645 L239.27,645 L239.27,635.9 L250.28,635.9 L250.28,645 L261.29,645 L261.29,635.9 L272.3,635.9 L272.3,626.8 L283.31,626.8 L283.31,634.08 L294.32,634.08 L294.32,637.72 L305.33,637.72 L305.33,639.54 L316.34,639.54 L316.34,624.98 L327.35,624.98 L327.35,645 L338.36,645 L338.36,632.26 L349.37,632.26 L349.37,646.82 L360.38,646.82 L360.38,645 L371.39,645 L371.39,659.56 L382.4,659.56 L382.4,659.56 L393.41,659.56 L393.41,670.48 L404.42,670.48 L404.42,672.3 L415.43,672.3 L415.43,666.84 L426.44,666.84 L426.44,665.02 L437.45,665.02 L437.45,665.02 L448.46,665.02 L448.46,672.3 Z" fill="none" stroke="rgba(65,105,225,0.75)" stroke-width="0.8" stroke-linejoin="miter"/>
<path d="M49.67,670.61 L53.08,670.82 L56.49,670.96 L59.9,671.03 L63.31,671.05 L66.72,670.99 L70.13,670.87 L73.54,670.68 L76.95,670.43 L80.35,670.11 L83.76,669.72 L87.17,669.26 L90.58,668.74 L93.99,668.15 L97.4,667.49 L100.81,666.76 L104.22,665.97 L107.63,665.1 L111.04,664.17 L114.45,663.16 L117.86,662.09 L121.27,660.95 L124.68,659.74 L128.09,658.46 L131.5,657.1 L134.91,655.68 L138.32,654.18 L141.72,652.62 L145.13,650.98 L148.54,649.27 L151.95,647.49 L155.36,645.65 L158.77,643.75 L162.18,641.81 L165.59,639.82 L169,637.81 L172.41,635.78 L175.82,633.74 L179.23,631.69 L182.64,629.66 L186.05,627.63 L189.46,625.64 L192.87,623.67 L196.28,621.75 L199.69,619.87 L203.09,618.06 L206.5,616.31 L209.91,614.65 L213.32,613.06 L216.73,611.58 L220.14,610.19 L223.55,608.92 L226.96,607.77 L230.37,606.71 L233.78,605.75 L237.19,604.86 L240.6,604.02 L244.01,603.23 L247.42,602.45 L250.83,601.69 L254.24,600.91 L257.65,600.11 L261.06,599.27 L264.46,598.38 L267.87,597.44 L271.28,596.44 L274.69,595.41 L278.1,594.33 L281.51,593.24 L284.92,592.15 L288.33,591.07 L291.74,590.03 L295.15,589.03 L298.56,588.09 L301.97,587.24 L305.38,586.49 L308.79,585.86 L312.2,585.37 L315.61,585.03 L319.02,584.87 L322.42,584.9 L325.83,585.14 L329.24,585.58 L332.65,586.23 L336.06,587.06 L339.47,588.06 L342.88,589.24 L346.29,590.57 L349.7,592.06 L353.11,593.68 L356.52,595.44 L359.93,597.32 L363.34,599.31 L366.75,601.41 L370.16,603.6 L373.57,605.88 L376.98,608.23 L380.39,610.66 L383.79,613.14 L387.2,615.66 L390.61,618.23 L394.02,620.83 L397.43,623.45 L400.84,626.07 L404.25,628.69 L407.66,631.29 L411.07,633.86 L414.48,636.39 L417.89,638.86 L421.3,641.26 L424.71,643.59 L428.12,645.82 L431.53,647.96 L434.94,649.97 L438.35,651.86 L441.76,653.61 L445.16,655.21 L448.57,656.68 L451.98,658.01 L455.39,659.21 L458.8,660.3 L462.21,661.28 L465.62,662.16 L469.03,662.94 L472.44,663.62 L475.85,664.23 L479.26,664.77 L482.67,665.23 L486.08,665.64 L489.49,665.99 L492.9,666.3 L496.31,666.57 L499.72,666.81 L503.13,667.02 L506.53,667.22 L509.94,667.41 L513.35,667.59 L516.76,667.78 L520.17,667.98 L523.58,668.19 L526.99,668.4 L530.4,668.62 L533.81,668.84 L537.22,669.05 L540.63,669.26 L544.04,669.47 L547.45,669.67 L550.86,669.85 L554.27,670.02 L557.68,670.18 L561.09,670.32 L564.5,670.43 L567.9,670.53 L571.31,670.59 L574.72,670.63 L578.13,670.64 L581.54,670.61 L584.95,670.55 L588.36,670.45 L591.77,670.31" fill="none" stroke="rgb(135,206,235)" stroke-width="1.05" stroke-linejoin="round" stroke-linecap="butt"/>
<path d="M49.67,670.7 L52.18,670.8 L54.69,670.88 L57.19,670.93 L59.7,670.97 L62.21,670.98 L64.72,670.97 L67.23,670.94 L69.73,670.89 L72.24,670.82 L74.75,670.74 L77.26,670.63 L79.77,670.52 L82.27,670.38 L84.78,670.23 L87.29,670.07 L89.8,669.89 L92.31,669.7 L94.81,669.5 L97.32,669.28 L99.83,669.06 L102.34,668.83 L104.85,668.58 L107.35,668.33 L109.86,668.07 L112.37,667.8 L114.88,667.53 L117.39,667.25 L119.89,666.96 L122.4,666.67 L124.91,666.38 L127.42,666.09 L129.93,665.79 L132.43,665.49 L134.94,665.19 L137.45,664.89 L139.96,664.59 L142.47,664.29 L144.97,663.99 L147.48,663.7 L149.99,663.41 L152.5,663.12 L155.01,662.84 L157.51,662.56 L160.02,662.29 L162.53,662.03 L165.04,661.77 L167.55,661.53 L170.05,661.29 L172.56,661.06 L175.07,660.84 L177.58,660.64 L180.09,660.43 L182.59,660.23 L185.1,660.03 L187.61,659.82 L190.12,659.61 L192.63,659.39 L195.14,659.15 L197.64,658.89 L200.15,658.61 L202.66,658.31 L205.17,657.98 L207.68,657.62 L210.18,657.23 L212.69,656.79 L215.2,656.32 L217.71,655.8 L220.22,655.24 L222.72,654.62 L225.23,653.95 L227.74,653.23 L230.25,652.46 L232.76,651.66 L235.26,650.82 L237.77,649.95 L240.28,649.06 L242.79,648.15 L245.3,647.23 L247.8,646.3 L250.31,645.38 L252.82,644.46 L255.33,643.55 L257.84,642.66 L260.34,641.79 L262.85,640.95 L265.36,640.14 L267.87,639.37 L270.38,638.65 L272.88,637.98 L275.39,637.36 L277.9,636.8 L280.41,636.29 L282.92,635.84 L285.42,635.45 L287.93,635.1 L290.44,634.81 L292.95,634.57 L295.46,634.39 L297.96,634.25 L300.47,634.17 L302.98,634.14 L305.49,634.15 L308,634.22 L310.5,634.33 L313.01,634.49 L315.52,634.7 L318.03,634.96 L320.54,635.26 L323.04,635.61 L325.55,636 L328.06,636.43 L330.57,636.91 L333.08,637.44 L335.58,638 L338.09,638.61 L340.6,639.26 L343.11,639.95 L345.62,640.69 L348.12,641.46 L350.63,642.27 L353.14,643.12 L355.65,644.01 L358.16,644.93 L360.66,645.89 L363.17,646.89 L365.68,647.93 L368.19,648.99 L370.7,650.09 L373.2,651.21 L375.71,652.34 L378.22,653.49 L380.73,654.64 L383.24,655.79 L385.74,656.93 L388.25,658.06 L390.76,659.17 L393.27,660.25 L395.78,661.31 L398.28,662.33 L400.79,663.3 L403.3,664.23 L405.81,665.1 L408.32,665.91 L410.82,666.66 L413.33,667.34 L415.84,667.93 L418.35,668.45 L420.86,668.88 L423.36,669.22 L425.87,669.48 L428.38,669.64 L430.89,669.72 L433.4,669.7 L435.9,669.59 L438.41,669.38 L440.92,669.07 L443.43,668.67 L445.94,668.16 L448.45,667.55" fill="none" stroke="rgb(65,105,225)" stroke-width="1.05" stroke-linejoin="round" stroke-linecap="butt"/>
</g>
<clipPath id="b1"><rect x="21" y="574.8" width="596.7" height="97.5"/></clipPath>
<rect x="78.6" y="583.2" width="59" height="15.5" rx="1.5" fill="rgba(255,255,255,0.55)" stroke="#999" stroke-width="0.75"/>
<text x="80.8" y="589.2" font-family="Liberation Sans" font-size="6.68" text-anchor="start" textLength="55.71" lengthAdjust="spacingAndGlyphs" fill="#202020" stroke="#202020" stroke-width="0.05">t-statistic: 2.4029</text>
<text x="80.8" y="595.6" font-family="Liberation Sans" font-size="6.68" text-anchor="start" textLength="49.48" lengthAdjust="spacingAndGlyphs" fill="#202020" stroke="#202020" stroke-width="0.05">p-value: 0.0165</text>
<rect x="573.2" y="577.5" width="41.4" height="18.6" rx="1.3" fill="rgba(255,255,255,0.8)" stroke="#dcdcdc" stroke-width="0.6"/>
<rect x="575.6" y="580" width="12.5" height="4.7" fill="rgba(135,206,235,0.5)" stroke="rgba(135,206,235,0.5)" stroke-width="0.6"/>
<text x="593.1" y="584.4" font-family="Liberation Sans" font-size="6.78" text-anchor="start" textLength="13.41" lengthAdjust="spacingAndGlyphs" fill="#202020" stroke="#202020" stroke-width="0.05">RAG</text>
<rect x="575.6" y="588.8" width="12.5" height="4.8" fill="rgba(65,105,225,0.5)" stroke="rgba(65,105,225,0.5)" stroke-width="0.6"/>
<text x="593.1" y="593.4" font-family="Liberation Sans" font-size="6.78" text-anchor="start" textLength="19.16" lengthAdjust="spacingAndGlyphs" fill="#202020" stroke="#202020" stroke-width="0.05">Direct</text>
<rect x="21" y="574.8" width="596.7" height="97.5" fill="none" stroke="#3a3a3a" stroke-width="0.78"/>
<line x1="100.8" y1="672.3" x2="100.8" y2="674.5" stroke="#3a3a3a" stroke-width="0.6"/>
<text x="100.8" y="680.7" font-family="Liberation Sans" font-size="6.57" text-anchor="middle" textLength="13.8" lengthAdjust="spacingAndGlyphs" fill="#262626" stroke="#262626" stroke-width="0.05">0.60</text>
<line x1="201.45" y1="672.3" x2="201.45" y2="674.5" stroke="#3a3a3a" stroke-width="0.6"/>
<text x="201.45" y="680.7" font-family="Liberation Sans" font-size="6.57" text-anchor="middle" textLength="13.8" lengthAdjust="spacingAndGlyphs" fill="#262626" stroke="#262626" stroke-width="0.05">0.65</text>
<line x1="302.1" y1="672.3" x2="302.1" y2="674.5" stroke="#3a3a3a" stroke-width="0.6"/>
<text x="302.1" y="680.7" font-family="Liberation Sans" font-size="6.57" text-anchor="middle" textLength="13.8" lengthAdjust="spacingAndGlyphs" fill="#262626" stroke="#262626" stroke-width="0.05">0.70</text>
<line x1="402.75" y1="672.3" x2="402.75" y2="674.5" stroke="#3a3a3a" stroke-width="0.6"/>
<text x="402.75" y="680.7" font-family="Liberation Sans" font-size="6.57" text-anchor="middle" textLength="13.8" lengthAdjust="spacingAndGlyphs" fill="#262626" stroke="#262626" stroke-width="0.05">0.75</text>
<line x1="503.4" y1="672.3" x2="503.4" y2="674.5" stroke="#3a3a3a" stroke-width="0.6"/>
<text x="503.4" y="680.7" font-family="Liberation Sans" font-size="6.57" text-anchor="middle" textLength="13.8" lengthAdjust="spacingAndGlyphs" fill="#262626" stroke="#262626" stroke-width="0.05">0.80</text>
<line x1="604.05" y1="672.3" x2="604.05" y2="674.5" stroke="#3a3a3a" stroke-width="0.6"/>
<text x="604.05" y="680.7" font-family="Liberation Sans" font-size="6.57" text-anchor="middle" textLength="13.8" lengthAdjust="spacingAndGlyphs" fill="#262626" stroke="#262626" stroke-width="0.05">0.85</text>
<line x1="18.8" y1="672.3" x2="21" y2="672.3" stroke="#3a3a3a" stroke-width="0.6"/>
<text x="16.5" y="674.53" font-family="Liberation Sans" font-size="6.57" text-anchor="end" textLength="3.94" lengthAdjust="spacingAndGlyphs" fill="#262626" stroke="#262626" stroke-width="0.05">0</text>
<line x1="18.8" y1="654.1" x2="21" y2="654.1" stroke="#3a3a3a" stroke-width="0.6"/>
<text x="16.5" y="656.33" font-family="Liberation Sans" font-size="6.57" text-anchor="end" textLength="7.89" lengthAdjust="spacingAndGlyphs" fill="#262626" stroke="#262626" stroke-width="0.05">10</text>
<line x1="18.8" y1="635.9" x2="21" y2="635.9" stroke="#3a3a3a" stroke-width="0.6"/>
<text x="16.5" y="638.13" font-family="Liberation Sans" font-size="6.57" text-anchor="end" textLength="7.89" lengthAdjust="spacingAndGlyphs" fill="#262626" stroke="#262626" stroke-width="0.05">20</text>
<line x1="18.8" y1="617.7" x2="21" y2="617.7" stroke="#3a3a3a" stroke-width="0.6"/>
<text x="16.5" y="619.93" font-family="Liberation Sans" font-size="6.57" text-anchor="end" textLength="7.89" lengthAdjust="spacingAndGlyphs" fill="#262626" stroke="#262626" stroke-width="0.05">30</text>
<line x1="18.8" y1="599.5" x2="21" y2="599.5" stroke="#3a3a3a" stroke-width="0.6"/>
<text x="16.5" y="601.73" font-family="Liberation Sans" font-size="6.57" text-anchor="end" textLength="7.89" lengthAdjust="spacingAndGlyphs" fill="#262626" stroke="#262626" stroke-width="0.05">40</text>
<line x1="18.8" y1="581.3" x2="21" y2="581.3" stroke="#3a3a3a" stroke-width="0.6"/>
<text x="16.5" y="583.53" font-family="Liberation Sans" font-size="6.57" text-anchor="end" textLength="7.89" lengthAdjust="spacingAndGlyphs" fill="#262626" stroke="#262626" stroke-width="0.05">50</text>
<text x="319.4" y="571.2" font-family="Liberation Sans" font-size="8.06" text-anchor="middle" textLength="65.76" lengthAdjust="spacingAndGlyphs" fill="#262626" stroke="#262626" stroke-width="0.05">BERTScore Recall</text>
<text x="319.5" y="689.1" font-family="Liberation Sans" font-size="6.68" text-anchor="middle" textLength="20.93" lengthAdjust="spacingAndGlyphs" fill="#262626" stroke="#262626" stroke-width="0.05">Scores</text>
<text transform="translate(4.7,623.95) rotate(-90)" x="0" y="0" font-family="Liberation Sans" font-size="6.15" text-anchor="middle" textLength="29.96" lengthAdjust="spacingAndGlyphs" fill="#262626" stroke="#262626" stroke-width="0.05">Frequency</text>
<g clip-path="url(#b2)">
<path d="M48.4,802.8 L48.4,794.65 L78.54,794.65 L78.54,791.39 L108.68,791.39 L108.68,776.72 L138.82,776.72 L138.82,749.01 L168.96,749.01 L168.96,753.9 L199.1,753.9 L199.1,735.97 L229.24,735.97 L229.24,724.56 L259.38,724.56 L259.38,709.89 L289.52,709.89 L289.52,739.23 L319.66,739.23 L319.66,758.79 L349.8,758.79 L349.8,766.94 L379.94,766.94 L379.94,791.39 L410.08,791.39 L410.08,794.65 L440.22,794.65 L440.22,799.54 L470.36,799.54 L470.36,801.17 L500.5,801.17 L500.5,799.54 L530.64,799.54 L530.64,802.8 L560.78,802.8 L560.78,799.54 L590.92,799.54 L590.92,802.8 Z" fill="rgba(135,206,235,0.5)" stroke="none"/>
<path d="M48.4,802.8 L48.4,794.65 L78.54,794.65 L78.54,791.39 L108.68,791.39 L108.68,776.72 L138.82,776.72 L138.82,749.01 L168.96,749.01 L168.96,753.9 L199.1,753.9 L199.1,735.97 L229.24,735.97 L229.24,724.56 L259.38,724.56 L259.38,709.89 L289.52,709.89 L289.52,739.23 L319.66,739.23 L319.66,758.79 L349.8,758.79 L349.8,766.94 L379.94,766.94 L379.94,791.39 L410.08,791.39 L410.08,794.65 L440.22,794.65 L440.22,799.54 L470.36,799.54 L470.36,801.17 L500.5,801.17 L500.5,799.54 L530.64,799.54 L530.64,802.8 L560.78,802.8 L560.78,799.54 L590.92,799.54 L590.92,802.8 Z" fill="none" stroke="rgba(135,206,235,0.75)" stroke-width="0.8" stroke-linejoin="miter"/>
<path d="M52.6,802.8 L52.6,797.91 L61.9,797.91 L61.9,799.54 L71.2,799.54 L71.2,796.28 L80.5,796.28 L80.5,797.91 L89.8,797.91 L89.8,796.28 L99.1,796.28 L99.1,794.65 L108.4,794.65 L108.4,789.76 L117.7,789.76 L117.7,796.28 L127,796.28 L127,799.54 L136.3,799.54 L136.3,788.13 L145.6,788.13 L145.6,789.76 L154.9,789.76 L154.9,788.13 L164.2,788.13 L164.2,794.65 L173.5,794.65 L173.5,788.13 L182.8,788.13 L182.8,778.35 L192.1,778.35 L192.1,779.98 L201.4,779.98 L201.4,778.35 L210.7,778.35 L210.7,779.98 L220,779.98 L220,773.46 L229.3,773.46 L229.3,765.31 L238.6,765.31 L238.6,758.79 L247.9,758.79 L247.9,776.72 L257.2,776.72 L257.2,770.2 L266.5,770.2 L266.5,771.83 L275.8,771.83 L275.8,760.42 L285.1,760.42 L285.1,779.98 L294.4,779.98 L294.4,788.13 L303.7,788.13 L303.7,791.39 L313,791.39 L313,794.65 L322.3,794.65 L322.3,793.02 L331.6,793.02 L331.6,794.65 L340.9,794.65 L340.9,793.02 L350.2,793.02 L350.2,801.17 L359.5,801.17 L359.5,796.28 L368.8,796.28 L368.8,797.91 L378.1,797.91 L378.1,797.91 L387.4,797.91 L387.4,802.8 Z" fill="rgba(65,105,225,0.5)" stroke="none"/>
<path d="M52.6,802.8 L52.6,797.91 L61.9,797.91 L61.9,799.54 L71.2,799.54 L71.2,796.28 L80.5,796.28 L80.5,797.91 L89.8,797.91 L89.8,796.28 L99.1,796.28 L99.1,794.65 L108.4,794.65 L108.4,789.76 L117.7,789.76 L117.7,796.28 L127,796.28 L127,799.54 L136.3,799.54 L136.3,788.13 L145.6,788.13 L145.6,789.76 L154.9,789.76 L154.9,788.13 L164.2,788.13 L164.2,794.65 L173.5,794.65 L173.5,788.13 L182.8,788.13 L182.8,778.35 L192.1,778.35 L192.1,779.98 L201.4,779.98 L201.4,778.35 L210.7,778.35 L210.7,779.98 L220,779.98 L220,773.46 L229.3,773.46 L229.3,765.31 L238.6,765.31 L238.6,758.79 L247.9,758.79 L247.9,776.72 L257.2,776.72 L257.2,770.2 L266.5,770.2 L266.5,771.83 L275.8,771.83 L275.8,760.42 L285.1,760.42 L285.1,779.98 L294.4,779.98 L294.4,788.13 L303.7,788.13 L303.7,791.39 L313,791.39 L313,794.65 L322.3,794.65 L322.3,793.02 L331.6,793.02 L331.6,794.65 L340.9,794.65 L340.9,793.02 L350.2,793.02 L350.2,801.17 L359.5,801.17 L359.5,796.28 L368.8,796.28 L368.8,797.91 L378.1,797.91 L378.1,797.91 L387.4,797.91 L387.4,802.8 Z" fill="none" stroke="rgba(65,105,225,0.75)" stroke-width="0.8" stroke-linejoin="miter"/>
<path d="M48.4,796.91 L51.81,796.54 L55.22,796.08 L58.63,795.55 L62.04,794.94 L65.45,794.25 L68.86,793.49 L72.28,792.67 L75.69,791.78 L79.1,790.82 L82.51,789.81 L85.92,788.74 L89.33,787.61 L92.74,786.44 L96.15,785.21 L99.57,783.94 L102.98,782.62 L106.39,781.27 L109.8,779.87 L113.21,778.44 L116.62,776.98 L120.03,775.49 L123.44,773.97 L126.86,772.43 L130.27,770.87 L133.68,769.28 L137.09,767.69 L140.5,766.08 L143.91,764.46 L147.32,762.83 L150.73,761.19 L154.14,759.56 L157.56,757.93 L160.97,756.3 L164.38,754.67 L167.79,753.06 L171.2,751.46 L174.61,749.87 L178.02,748.3 L181.43,746.75 L184.85,745.22 L188.26,743.72 L191.67,742.25 L195.08,740.81 L198.49,739.4 L201.9,738.03 L205.31,736.7 L208.72,735.41 L212.14,734.17 L215.55,732.98 L218.96,731.84 L222.37,730.76 L225.78,729.74 L229.19,728.78 L232.6,727.9 L236.01,727.09 L239.43,726.36 L242.84,725.72 L246.25,725.16 L249.66,724.7 L253.07,724.33 L256.48,724.07 L259.89,723.91 L263.3,723.86 L266.72,723.93 L270.13,724.11 L273.54,724.42 L276.95,724.86 L280.36,725.43 L283.77,726.13 L287.18,726.98 L290.59,727.97 L294.01,729.11 L297.42,730.41 L300.83,731.86 L304.24,733.48 L307.65,735.23 L311.06,737.11 L314.47,739.11 L317.88,741.21 L321.29,743.39 L324.71,745.65 L328.12,747.96 L331.53,750.31 L334.94,752.69 L338.35,755.08 L341.76,757.47 L345.17,759.85 L348.58,762.19 L352,764.49 L355.41,766.73 L358.82,768.9 L362.23,770.97 L365.64,772.96 L369.05,774.85 L372.46,776.66 L375.87,778.38 L379.29,780.02 L382.7,781.57 L386.11,783.05 L389.52,784.45 L392.93,785.77 L396.34,787.02 L399.75,788.2 L403.16,789.31 L406.58,790.36 L409.99,791.34 L413.4,792.26 L416.81,793.12 L420.22,793.92 L423.63,794.67 L427.04,795.37 L430.45,796.01 L433.87,796.61 L437.28,797.16 L440.69,797.67 L444.1,798.13 L447.51,798.55 L450.92,798.93 L454.33,799.27 L457.74,799.58 L461.16,799.85 L464.57,800.09 L467.98,800.3 L471.39,800.49 L474.8,800.64 L478.21,800.77 L481.62,800.87 L485.03,800.96 L488.44,801.02 L491.86,801.07 L495.27,801.1 L498.68,801.11 L502.09,801.11 L505.5,801.1 L508.91,801.09 L512.32,801.06 L515.73,801.03 L519.15,800.99 L522.56,800.95 L525.97,800.92 L529.38,800.88 L532.79,800.84 L536.2,800.82 L539.61,800.79 L543.02,800.78 L546.44,800.78 L549.85,800.79 L553.26,800.81 L556.67,800.85 L560.08,800.9 L563.49,800.98 L566.9,801.07 L570.31,801.19 L573.73,801.33 L577.14,801.5 L580.55,801.7 L583.96,801.93 L587.37,802.19 L590.78,802.47" fill="none" stroke="rgb(135,206,235)" stroke-width="1.05" stroke-linejoin="round" stroke-linecap="butt"/>
<path d="M52.57,800.22 L54.67,799.84 L56.78,799.48 L58.88,799.15 L60.99,798.84 L63.09,798.55 L65.2,798.27 L67.3,798.02 L69.41,797.78 L71.51,797.55 L73.62,797.35 L75.73,797.15 L77.83,796.97 L79.94,796.8 L82.04,796.64 L84.15,796.5 L86.25,796.36 L88.36,796.23 L90.46,796.1 L92.57,795.99 L94.67,795.87 L96.78,795.77 L98.88,795.66 L100.99,795.56 L103.09,795.46 L105.2,795.36 L107.3,795.26 L109.41,795.16 L111.51,795.05 L113.62,794.94 L115.73,794.83 L117.83,794.71 L119.94,794.58 L122.04,794.45 L124.15,794.31 L126.25,794.16 L128.36,794 L130.46,793.82 L132.57,793.64 L134.67,793.44 L136.78,793.23 L138.88,793 L140.99,792.75 L143.09,792.49 L145.2,792.21 L147.3,791.91 L149.41,791.59 L151.52,791.25 L153.62,790.89 L155.73,790.5 L157.83,790.09 L159.94,789.66 L162.04,789.21 L164.15,788.74 L166.25,788.25 L168.36,787.75 L170.46,787.23 L172.57,786.7 L174.67,786.16 L176.78,785.6 L178.88,785.04 L180.99,784.47 L183.09,783.89 L185.2,783.31 L187.3,782.72 L189.41,782.13 L191.52,781.54 L193.62,780.95 L195.73,780.37 L197.83,779.78 L199.94,779.2 L202.04,778.63 L204.15,778.06 L206.25,777.51 L208.36,776.96 L210.46,776.43 L212.57,775.91 L214.67,775.4 L216.78,774.91 L218.88,774.44 L220.99,773.98 L223.09,773.55 L225.2,773.13 L227.3,772.74 L229.41,772.38 L231.52,772.04 L233.62,771.73 L235.73,771.44 L237.83,771.19 L239.94,770.97 L242.04,770.78 L244.15,770.62 L246.25,770.51 L248.36,770.43 L250.46,770.39 L252.57,770.39 L254.67,770.44 L256.78,770.53 L258.88,770.66 L260.99,770.85 L263.09,771.08 L265.2,771.36 L267.3,771.7 L269.41,772.09 L271.52,772.53 L273.62,773.04 L275.73,773.59 L277.83,774.21 L279.94,774.86 L282.04,775.56 L284.15,776.3 L286.25,777.07 L288.36,777.86 L290.46,778.67 L292.57,779.5 L294.67,780.34 L296.78,781.18 L298.88,782.01 L300.99,782.85 L303.09,783.66 L305.2,784.47 L307.3,785.25 L309.41,786.02 L311.52,786.77 L313.62,787.49 L315.73,788.2 L317.83,788.88 L319.94,789.54 L322.04,790.17 L324.15,790.78 L326.25,791.36 L328.36,791.91 L330.46,792.43 L332.57,792.93 L334.67,793.39 L336.78,793.83 L338.88,794.23 L340.99,794.6 L343.09,794.94 L345.2,795.25 L347.3,795.55 L349.41,795.81 L351.52,796.06 L353.62,796.3 L355.73,796.51 L357.83,796.72 L359.94,796.91 L362.04,797.09 L364.15,797.27 L366.25,797.44 L368.36,797.6 L370.46,797.77 L372.57,797.93 L374.67,798.11 L376.78,798.28 L378.88,798.46 L380.99,798.66 L383.09,798.86 L385.2,799.08 L387.3,799.31" fill="none" stroke="rgb(65,105,225)" stroke-width="1.05" stroke-linejoin="round" stroke-linecap="butt"/>
</g>
<clipPath id="b2"><rect x="21.5" y="705.3" width="596.4" height="97.5"/></clipPath>
<rect x="78.6" y="713.7" width="59" height="15.5" rx="1.5" fill="rgba(255,255,255,0.55)" stroke="#999" stroke-width="0.75"/>
<text x="80.8" y="719.7" font-family="Liberation Sans" font-size="6.68" text-anchor="start" textLength="55.71" lengthAdjust="spacingAndGlyphs" fill="#202020" stroke="#202020" stroke-width="0.05">t-statistic: 3.9191</text>
<text x="80.8" y="726.1" font-family="Liberation Sans" font-size="6.68" text-anchor="start" textLength="49.48" lengthAdjust="spacingAndGlyphs" fill="#202020" stroke="#202020" stroke-width="0.05">p-value: 0.0001</text>
<rect x="573.2" y="708" width="41.4" height="18.6" rx="1.3" fill="rgba(255,255,255,0.8)" stroke="#dcdcdc" stroke-width="0.6"/>
<rect x="575.6" y="710.5" width="12.5" height="4.7" fill="rgba(135,206,235,0.5)" stroke="rgba(135,206,235,0.5)" stroke-width="0.6"/>
<text x="593.1" y="714.9" font-family="Liberation Sans" font-size="6.78" text-anchor="start" textLength="13.41" lengthAdjust="spacingAndGlyphs" fill="#202020" stroke="#202020" stroke-width="0.05">RAG</text>
<rect x="575.6" y="719.3" width="12.5" height="4.8" fill="rgba(65,105,225,0.5)" stroke="rgba(65,105,225,0.5)" stroke-width="0.6"/>
<text x="593.1" y="723.9" font-family="Liberation Sans" font-size="6.78" text-anchor="start" textLength="19.16" lengthAdjust="spacingAndGlyphs" fill="#202020" stroke="#202020" stroke-width="0.05">Direct</text>
<rect x="21.5" y="705.3" width="596.4" height="97.5" fill="none" stroke="#3a3a3a" stroke-width="0.78"/>
<line x1="126.1" y1="802.8" x2="126.1" y2="805" stroke="#3a3a3a" stroke-width="0.6"/>
<text x="126.1" y="811.2" font-family="Liberation Sans" font-size="6.57" text-anchor="middle" textLength="13.8" lengthAdjust="spacingAndGlyphs" fill="#262626" stroke="#262626" stroke-width="0.05">0.65</text>
<line x1="235.85" y1="802.8" x2="235.85" y2="805" stroke="#3a3a3a" stroke-width="0.6"/>
<text x="235.85" y="811.2" font-family="Liberation Sans" font-size="6.57" text-anchor="middle" textLength="13.8" lengthAdjust="spacingAndGlyphs" fill="#262626" stroke="#262626" stroke-width="0.05">0.70</text>
<line x1="345.6" y1="802.8" x2="345.6" y2="805" stroke="#3a3a3a" stroke-width="0.6"/>
<text x="345.6" y="811.2" font-family="Liberation Sans" font-size="6.57" text-anchor="middle" textLength="13.8" lengthAdjust="spacingAndGlyphs" fill="#262626" stroke="#262626" stroke-width="0.05">0.75</text>
<line x1="455.35" y1="802.8" x2="455.35" y2="805" stroke="#3a3a3a" stroke-width="0.6"/>
<text x="455.35" y="811.2" font-family="Liberation Sans" font-size="6.57" text-anchor="middle" textLength="13.8" lengthAdjust="spacingAndGlyphs" fill="#262626" stroke="#262626" stroke-width="0.05">0.80</text>
<line x1="565.1" y1="802.8" x2="565.1" y2="805" stroke="#3a3a3a" stroke-width="0.6"/>
<text x="565.1" y="811.2" font-family="Liberation Sans" font-size="6.57" text-anchor="middle" textLength="13.8" lengthAdjust="spacingAndGlyphs" fill="#262626" stroke="#262626" stroke-width="0.05">0.85</text>
<line x1="19.3" y1="802.8" x2="21.5" y2="802.8" stroke="#3a3a3a" stroke-width="0.6"/>
<text x="17" y="805.03" font-family="Liberation Sans" font-size="6.57" text-anchor="end" textLength="3.94" lengthAdjust="spacingAndGlyphs" fill="#262626" stroke="#262626" stroke-width="0.05">0</text>
<line x1="19.3" y1="786.5" x2="21.5" y2="786.5" stroke="#3a3a3a" stroke-width="0.6"/>
<text x="17" y="788.73" font-family="Liberation Sans" font-size="6.57" text-anchor="end" textLength="7.89" lengthAdjust="spacingAndGlyphs" fill="#262626" stroke="#262626" stroke-width="0.05">10</text>
<line x1="19.3" y1="770.2" x2="21.5" y2="770.2" stroke="#3a3a3a" stroke-width="0.6"/>
<text x="17" y="772.43" font-family="Liberation Sans" font-size="6.57" text-anchor="end" textLength="7.89" lengthAdjust="spacingAndGlyphs" fill="#262626" stroke="#262626" stroke-width="0.05">20</text>
<line x1="19.3" y1="753.9" x2="21.5" y2="753.9" stroke="#3a3a3a" stroke-width="0.6"/>
<text x="17" y="756.13" font-family="Liberation Sans" font-size="6.57" text-anchor="end" textLength="7.89" lengthAdjust="spacingAndGlyphs" fill="#262626" stroke="#262626" stroke-width="0.05">30</text>
<line x1="19.3" y1="737.6" x2="21.5" y2="737.6" stroke="#3a3a3a" stroke-width="0.6"/>
<text x="17" y="739.83" font-family="Liberation Sans" font-size="6.57" text-anchor="end" textLength="7.89" lengthAdjust="spacingAndGlyphs" fill="#262626" stroke="#262626" stroke-width="0.05">40</text>
<line x1="19.3" y1="721.3" x2="21.5" y2="721.3" stroke="#3a3a3a" stroke-width="0.6"/>
<text x="17" y="723.53" font-family="Liberation Sans" font-size="6.57" text-anchor="end" textLength="7.89" lengthAdjust="spacingAndGlyphs" fill="#262626" stroke="#262626" stroke-width="0.05">50</text>
<text x="319.4" y="701.7" font-family="Liberation Sans" font-size="8.06" text-anchor="middle" textLength="52.3" lengthAdjust="spacingAndGlyphs" fill="#262626" stroke="#262626" stroke-width="0.05">BERTScore F1</text>
<text x="319.5" y="819.6" font-family="Liberation Sans" font-size="6.68" text-anchor="middle" textLength="20.93" lengthAdjust="spacingAndGlyphs" fill="#262626" stroke="#262626" stroke-width="0.05">Scores</text>
<text transform="translate(4.7,754.45) rotate(-90)" x="0" y="0" font-family="Liberation Sans" font-size="6.15" text-anchor="middle" textLength="29.96" lengthAdjust="spacingAndGlyphs" fill="#262626" stroke="#262626" stroke-width="0.05">Frequency</text>
<g clip-path="url(#a00)">
<path d="M27.1,101.3 L27.1,89.26 L34.47,89.26 L34.47,51.63 L41.84,51.63 L41.84,36.59 L49.21,36.59 L49.21,18.53 L56.58,18.53 L56.58,14.01 L63.95,14.01 L63.95,18.53 L71.32,18.53 L71.32,51.63 L78.69,51.63 L78.69,72.7 L86.06,72.7 L86.06,75.72 L93.43,75.72 L93.43,83.24 L100.8,83.24 L100.8,98.29 L108.17,98.29 L108.17,98.29 L115.54,98.29 L115.54,96.78 L122.91,96.78 L122.91,98.29 L130.28,98.29 L130.28,98.29 L137.65,98.29 L137.65,101.3 L145.02,101.3 L145.02,99.8 L152.39,99.8 L152.39,98.29 L159.76,98.29 L159.76,101.3 Z" fill="rgba(135,206,235,0.5)" stroke="none"/>
<path d="M27.1,101.3 L27.1,89.26 L34.47,89.26 L34.47,51.63 L41.84,51.63 L41.84,36.59 L49.21,36.59 L49.21,18.53 L56.58,18.53 L56.58,14.01 L63.95,14.01 L63.95,18.53 L71.32,18.53 L71.32,51.63 L78.69,51.63 L78.69,72.7 L86.06,72.7 L86.06,75.72 L93.43,75.72 L93.43,83.24 L100.8,83.24 L100.8,98.29 L108.17,98.29 L108.17,98.29 L115.54,98.29 L115.54,96.78 L122.91,96.78 L122.91,98.29 L130.28,98.29 L130.28,98.29 L137.65,98.29 L137.65,101.3 L145.02,101.3 L145.02,99.8 L152.39,99.8 L152.39,98.29 L159.76,98.29 L159.76,101.3 Z" fill="none" stroke="rgba(135,206,235,0.75)" stroke-width="0.6" stroke-linejoin="miter"/>
<path d="M26.01,101.3 L26.01,98.96 L27.84,98.96 L27.84,94.21 L31.49,94.21 L31.49,91.66 L34.77,91.66 L34.77,89.1 L38.79,89.1 L38.79,79.6 L42.44,79.6 L42.44,77.78 L46.09,77.78 L46.09,75.95 L49.01,75.95 L49.01,66.82 L51.93,66.82 L51.93,65.72 L54.48,65.72 L54.48,69.01 L57.04,69.01 L57.04,63.89 L59.59,63.89 L60,66.77 L62.04,66.77 L62.04,76.98 L65.11,76.98 L65.11,66.77 L67.66,66.77 L67.66,72.39 L70.22,72.39 L70.22,86.18 L72.77,86.18 L72.77,81.07 L76.35,81.07 L76.35,79.03 L80.95,79.03 L80.95,95.88 L85.04,95.88 L85.04,89.24 L88.61,89.24 L88.61,95.88 L91.17,95.88 L91.17,98.44 L93.72,98.44 L93.72,99.46 L95.77,99.46 L95.77,101.3 L100.87,101.3 L100.87,97.42 L103.94,97.42 L103.94,99.46 L108.03,99.46 L108.03,100.48 L116.2,100.48 L116.2,98.95 L119.27,98.95 L119.27,101.3 Z" fill="rgba(65,105,225,0.5)" stroke="none"/>
<path d="M26.01,101.3 L26.01,98.96 L27.84,98.96 L27.84,94.21 L31.49,94.21 L31.49,91.66 L34.77,91.66 L34.77,89.1 L38.79,89.1 L38.79,79.6 L42.44,79.6 L42.44,77.78 L46.09,77.78 L46.09,75.95 L49.01,75.95 L49.01,66.82 L51.93,66.82 L51.93,65.72 L54.48,65.72 L54.48,69.01 L57.04,69.01 L57.04,63.89 L59.59,63.89 L60,66.77 L62.04,66.77 L62.04,76.98 L65.11,76.98 L65.11,66.77 L67.66,66.77 L67.66,72.39 L70.22,72.39 L70.22,86.18 L72.77,86.18 L72.77,81.07 L76.35,81.07 L76.35,79.03 L80.95,79.03 L80.95,95.88 L85.04,95.88 L85.04,89.24 L88.61,89.24 L88.61,95.88 L91.17,95.88 L91.17,98.44 L93.72,98.44 L93.72,99.46 L95.77,99.46 L95.77,101.3 L100.87,101.3 L100.87,97.42 L103.94,97.42 L103.94,99.46 L108.03,99.46 L108.03,100.48 L116.2,100.48 L116.2,98.95 L119.27,98.95 L119.27,101.3 Z" fill="none" stroke="rgba(65,105,225,0.75)" stroke-width="0.6" stroke-linejoin="miter"/>
<path d="M27.1,90.33 L28.21,87.92 L29.33,85.23 L30.44,82.26 L31.56,79.05 L32.67,75.64 L33.79,72.08 L34.9,68.44 L36.02,64.75 L37.13,61.08 L38.25,57.48 L39.36,53.98 L40.48,50.6 L41.59,47.37 L42.71,44.3 L43.82,41.38 L44.94,38.61 L46.05,35.99 L47.17,33.51 L48.28,31.19 L49.4,29.03 L50.51,27.03 L51.63,25.21 L52.74,23.59 L53.85,22.17 L54.97,20.98 L56.08,20.03 L57.2,19.34 L58.31,18.91 L59.43,18.78 L60.54,18.95 L61.66,19.43 L62.77,20.25 L63.89,21.41 L65,22.91 L66.12,24.76 L67.23,26.94 L68.35,29.43 L69.46,32.19 L70.58,35.18 L71.69,38.34 L72.81,41.62 L73.92,44.95 L75.04,48.27 L76.15,51.52 L77.27,54.64 L78.38,57.6 L79.5,60.37 L80.61,62.91 L81.72,65.24 L82.84,67.33 L83.95,69.22 L85.07,70.92 L86.18,72.45 L87.3,73.86 L88.41,75.17 L89.53,76.42 L90.64,77.65 L91.76,78.88 L92.87,80.12 L93.99,81.4 L95.1,82.72 L96.22,84.08 L97.33,85.47 L98.45,86.87 L99.56,88.25 L100.68,89.61 L101.79,90.9 L102.91,92.1 L104.02,93.2 L105.14,94.17 L106.25,95 L107.36,95.7 L108.48,96.26 L109.59,96.7 L110.71,97.02 L111.82,97.25 L112.94,97.4 L114.05,97.5 L115.17,97.55 L116.28,97.57 L117.4,97.59 L118.51,97.6 L119.63,97.62 L120.74,97.65 L121.86,97.7 L122.97,97.76 L124.09,97.84 L125.2,97.93 L126.32,98.03 L127.43,98.14 L128.55,98.27 L129.66,98.4 L130.78,98.55 L131.89,98.7 L133.01,98.87 L134.12,99.04 L135.23,99.21 L136.35,99.38 L137.46,99.55 L138.58,99.69 L139.69,99.82 L140.81,99.92 L141.92,99.99 L143.04,100.02 L144.15,100.03 L145.27,100 L146.38,99.95 L147.5,99.88 L148.61,99.8 L149.73,99.72 L150.84,99.65 L151.96,99.6 L153.07,99.57 L154.19,99.56 L155.3,99.59 L156.42,99.65 L157.53,99.75 L158.65,99.86 L159.76,100" fill="none" stroke="rgb(135,206,235)" stroke-width="0.9" stroke-linejoin="round" stroke-linecap="butt"/>
<path d="M26.01,97.88 L26.8,97.29 L27.58,96.65 L28.37,95.98 L29.15,95.27 L29.93,94.52 L30.72,93.75 L31.5,92.95 L32.28,92.12 L33.07,91.27 L33.85,90.4 L34.63,89.49 L35.42,88.57 L36.2,87.63 L36.99,86.66 L37.77,85.69 L38.55,84.7 L39.34,83.71 L40.12,82.72 L40.9,81.73 L41.69,80.75 L42.47,79.78 L43.25,78.82 L44.04,77.87 L44.82,76.94 L45.61,76.02 L46.39,75.13 L47.17,74.26 L47.96,73.44 L48.74,72.65 L49.52,71.92 L50.31,71.26 L51.09,70.68 L51.87,70.18 L52.66,69.77 L53.44,69.47 L54.23,69.26 L55.01,69.15 L55.79,69.14 L56.58,69.21 L57.36,69.35 L58.14,69.57 L58.93,69.83 L59.71,70.15 L60.49,70.5 L61.28,70.88 L62.06,71.29 L62.85,71.72 L63.63,72.18 L64.41,72.67 L65.2,73.19 L65.98,73.74 L66.76,74.32 L67.55,74.94 L68.33,75.58 L69.12,76.24 L69.9,76.92 L70.68,77.6 L71.47,78.27 L72.25,78.95 L73.03,79.61 L73.82,80.27 L74.6,80.93 L75.38,81.6 L76.17,82.28 L76.95,82.98 L77.74,83.71 L78.52,84.46 L79.3,85.25 L80.09,86.05 L80.87,86.87 L81.65,87.69 L82.44,88.51 L83.22,89.31 L84,90.09 L84.79,90.84 L85.57,91.56 L86.36,92.26 L87.14,92.93 L87.92,93.58 L88.71,94.2 L89.49,94.81 L90.27,95.4 L91.06,95.97 L91.84,96.51 L92.62,97.02 L93.41,97.49 L94.19,97.91 L94.98,98.28 L95.76,98.6 L96.54,98.87 L97.33,99.08 L98.11,99.24 L98.89,99.35 L99.68,99.43 L100.46,99.48 L101.24,99.51 L102.03,99.53 L102.81,99.54 L103.6,99.56 L104.38,99.58 L105.16,99.61 L105.95,99.64 L106.73,99.69 L107.51,99.74 L108.3,99.8 L109.08,99.86 L109.86,99.92 L110.65,99.98 L111.43,100.03 L112.22,100.08 L113,100.12 L113.78,100.16 L114.57,100.2 L115.35,100.24 L116.13,100.29 L116.92,100.34 L117.7,100.4 L118.48,100.46 L119.27,100.53" fill="none" stroke="rgb(65,105,225)" stroke-width="0.9" stroke-linejoin="round" stroke-linecap="butt"/>
</g>
<clipPath id="a00"><rect x="19" y="9.2" width="147.2" height="92.1"/></clipPath>
<rect x="32.2" y="16.2" width="48.8" height="14.6" rx="1" fill="rgba(255,255,255,0.55)" stroke="#999" stroke-width="0.62"/>
<text x="33.9" y="22.7" font-family="Liberation Sans" font-size="5.46" text-anchor="start" textLength="45.54" lengthAdjust="spacingAndGlyphs" fill="#202020" stroke="#202020" stroke-width="0.07">t-statistic: 2.7166</text>
<text x="33.9" y="28.6" font-family="Liberation Sans" font-size="5.46" text-anchor="start" textLength="40.45" lengthAdjust="spacingAndGlyphs" fill="#202020" stroke="#202020" stroke-width="0.07">p-value: 0.0068</text>
<rect x="129.3" y="12.3" width="34.1" height="17.1" rx="0.8" fill="rgba(255,255,255,0.8)" stroke="#dcdcdc" stroke-width="0.5"/>
<rect x="131" y="14" width="11.6" height="4.4" fill="rgba(135,206,235,0.5)" stroke="rgba(135,206,235,0.5)" stroke-width="0.5"/>
<text x="145.9" y="18" font-family="Liberation Sans" font-size="5.51" text-anchor="start" textLength="10.9" lengthAdjust="spacingAndGlyphs" fill="#202020" stroke="#202020" stroke-width="0.07">RAG</text>
<rect x="131" y="21.8" width="11.6" height="4.3" fill="rgba(65,105,225,0.5)" stroke="rgba(65,105,225,0.5)" stroke-width="0.5"/>
<text x="145.9" y="25.7" font-family="Liberation Sans" font-size="5.51" text-anchor="start" textLength="15.57" lengthAdjust="spacingAndGlyphs" fill="#202020" stroke="#202020" stroke-width="0.07">Direct</text>
<rect x="19" y="9.2" width="147.2" height="92.1" fill="none" stroke="#3a3a3a" stroke-width="0.65"/>
<line x1="40.2" y1="101.3" x2="40.2" y2="103.2" stroke="#3a3a3a" stroke-width="0.5"/>
<text x="40.2" y="109.2" font-family="Liberation Sans" font-size="5.51" text-anchor="middle" textLength="8.27" lengthAdjust="spacingAndGlyphs" fill="#262626" stroke="#262626" stroke-width="0.07">0.1</text>
<line x1="64.5" y1="101.3" x2="64.5" y2="103.2" stroke="#3a3a3a" stroke-width="0.5"/>
<text x="64.5" y="109.2" font-family="Liberation Sans" font-size="5.51" text-anchor="middle" textLength="8.27" lengthAdjust="spacingAndGlyphs" fill="#262626" stroke="#262626" stroke-width="0.07">0.2</text>
<line x1="88.8" y1="101.3" x2="88.8" y2="103.2" stroke="#3a3a3a" stroke-width="0.5"/>
<text x="88.8" y="109.2" font-family="Liberation Sans" font-size="5.51" text-anchor="middle" textLength="8.27" lengthAdjust="spacingAndGlyphs" fill="#262626" stroke="#262626" stroke-width="0.07">0.3</text>
<line x1="113.1" y1="101.3" x2="113.1" y2="103.2" stroke="#3a3a3a" stroke-width="0.5"/>
<text x="113.1" y="109.2" font-family="Liberation Sans" font-size="5.51" text-anchor="middle" textLength="8.27" lengthAdjust="spacingAndGlyphs" fill="#262626" stroke="#262626" stroke-width="0.07">0.4</text>
<line x1="137.4" y1="101.3" x2="137.4" y2="103.2" stroke="#3a3a3a" stroke-width="0.5"/>
<text x="137.4" y="109.2" font-family="Liberation Sans" font-size="5.51" text-anchor="middle" textLength="8.27" lengthAdjust="spacingAndGlyphs" fill="#262626" stroke="#262626" stroke-width="0.07">0.5</text>
<line x1="161.7" y1="101.3" x2="161.7" y2="103.2" stroke="#3a3a3a" stroke-width="0.5"/>
<text x="161.7" y="109.2" font-family="Liberation Sans" font-size="5.51" text-anchor="middle" textLength="8.27" lengthAdjust="spacingAndGlyphs" fill="#262626" stroke="#262626" stroke-width="0.07">0.6</text>
<line x1="17.1" y1="101.3" x2="19" y2="101.3" stroke="#3a3a3a" stroke-width="0.5"/>
<text x="15.2" y="103.17" font-family="Liberation Sans" font-size="5.51" text-anchor="end" textLength="3.31" lengthAdjust="spacingAndGlyphs" fill="#262626" stroke="#262626" stroke-width="0.07">0</text>
<line x1="17.1" y1="86.25" x2="19" y2="86.25" stroke="#3a3a3a" stroke-width="0.5"/>
<text x="15.2" y="88.12" font-family="Liberation Sans" font-size="5.51" text-anchor="end" textLength="6.62" lengthAdjust="spacingAndGlyphs" fill="#262626" stroke="#262626" stroke-width="0.07">10</text>
<line x1="17.1" y1="71.2" x2="19" y2="71.2" stroke="#3a3a3a" stroke-width="0.5"/>
<text x="15.2" y="73.07" font-family="Liberation Sans" font-size="5.51" text-anchor="end" textLength="6.62" lengthAdjust="spacingAndGlyphs" fill="#262626" stroke="#262626" stroke-width="0.07">20</text>
<line x1="17.1" y1="56.15" x2="19" y2="56.15" stroke="#3a3a3a" stroke-width="0.5"/>
<text x="15.2" y="58.02" font-family="Liberation Sans" font-size="5.51" text-anchor="end" textLength="6.62" lengthAdjust="spacingAndGlyphs" fill="#262626" stroke="#262626" stroke-width="0.07">30</text>
<line x1="17.1" y1="41.1" x2="19" y2="41.1" stroke="#3a3a3a" stroke-width="0.5"/>
<text x="15.2" y="42.97" font-family="Liberation Sans" font-size="5.51" text-anchor="end" textLength="6.62" lengthAdjust="spacingAndGlyphs" fill="#262626" stroke="#262626" stroke-width="0.07">40</text>
<line x1="17.1" y1="26.05" x2="19" y2="26.05" stroke="#3a3a3a" stroke-width="0.5"/>
<text x="15.2" y="27.92" font-family="Liberation Sans" font-size="5.51" text-anchor="end" textLength="6.62" lengthAdjust="spacingAndGlyphs" fill="#262626" stroke="#262626" stroke-width="0.07">50</text>
<line x1="17.1" y1="11" x2="19" y2="11" stroke="#3a3a3a" stroke-width="0.5"/>
<text x="15.2" y="12.87" font-family="Liberation Sans" font-size="5.51" text-anchor="end" textLength="6.62" lengthAdjust="spacingAndGlyphs" fill="#262626" stroke="#262626" stroke-width="0.07">60</text>
<text x="92.6" y="5.9" font-family="Liberation Sans" font-size="6.62" text-anchor="middle" textLength="70.12" lengthAdjust="spacingAndGlyphs" fill="#262626" stroke="#262626" stroke-width="0.05">Rouge-1-r Comparison</text>
<text x="92.6" y="116.5" font-family="Liberation Sans" font-size="5.51" text-anchor="middle" textLength="17.27" lengthAdjust="spacingAndGlyphs" fill="#262626" stroke="#262626" stroke-width="0.07">Scores</text>
<text transform="translate(5.9,55.25) rotate(-90)" x="0" y="0" font-family="Liberation Sans" font-size="5.51" text-anchor="middle" textLength="26.86" lengthAdjust="spacingAndGlyphs" fill="#262626" stroke="#262626" stroke-width="0.07">Frequency</text>
<g clip-path="url(#a01)">
<path d="M197.6,101.3 L197.6,13.53 L205.06,13.53 L205.06,51.52 L212.51,51.52 L212.51,63.31 L219.97,63.31 L219.97,84.92 L227.42,84.92 L227.42,95.41 L234.88,95.41 L234.88,95.41 L242.34,95.41 L242.34,97.37 L249.79,97.37 L249.79,98.68 L257.25,98.68 L257.25,99.33 L264.7,99.33 L264.7,99.99 L272.16,99.99 L272.16,99.99 L279.62,99.99 L279.62,100.64 L287.07,100.64 L287.07,100.64 L294.53,100.64 L294.53,100.64 L301.98,100.64 L301.98,101.3 L309.44,101.3 L309.44,101.3 L316.9,101.3 L316.9,100.64 L324.35,100.64 L324.35,100.64 L331.81,100.64 L331.81,101.3 Z" fill="rgba(135,206,235,0.5)" stroke="none"/>
<path d="M197.6,101.3 L197.6,13.53 L205.06,13.53 L205.06,51.52 L212.51,51.52 L212.51,63.31 L219.97,63.31 L219.97,84.92 L227.42,84.92 L227.42,95.41 L234.88,95.41 L234.88,95.41 L242.34,95.41 L242.34,97.37 L249.79,97.37 L249.79,98.68 L257.25,98.68 L257.25,99.33 L264.7,99.33 L264.7,99.99 L272.16,99.99 L272.16,99.99 L279.62,99.99 L279.62,100.64 L287.07,100.64 L287.07,100.64 L294.53,100.64 L294.53,100.64 L301.98,100.64 L301.98,101.3 L309.44,101.3 L309.44,101.3 L316.9,101.3 L316.9,100.64 L324.35,100.64 L324.35,100.64 L331.81,100.64 L331.81,101.3 Z" fill="none" stroke="rgba(135,206,235,0.75)" stroke-width="0.6" stroke-linejoin="miter"/>
<path d="M197.59,101.3 L197.59,53.08 L199.11,53.08 L199.11,96.86 L201.09,96.86 L201.09,77.95 L202.61,77.95 L202.61,84.6 L204.6,84.6 L204.6,87.52 L206.35,87.52 L206.35,84.6 L208.1,84.6 L208.1,88.69 L209.85,88.69 L209.85,85.19 L211.61,85.19 L211.61,89.86 L213.36,89.86 L213.36,93.36 L215.11,93.36 L215.11,94.53 L216.86,94.53 L216.86,93.94 L218.61,93.94 L218.61,95.7 L220.36,95.7 L220.36,98.03 L225.04,98.03 L225.04,99.2 L228.54,99.2 L228.54,100.37 L236.72,100.37 L236.72,98.61 L239.05,98.61 L239.05,100.37 L246.06,100.37 L246.06,100.83 L257.74,100.83 L257.74,101.3 Z" fill="rgba(65,105,225,0.5)" stroke="none"/>
<path d="M197.59,101.3 L197.59,53.08 L199.11,53.08 L199.11,96.86 L201.09,96.86 L201.09,77.95 L202.61,77.95 L202.61,84.6 L204.6,84.6 L204.6,87.52 L206.35,87.52 L206.35,84.6 L208.1,84.6 L208.1,88.69 L209.85,88.69 L209.85,85.19 L211.61,85.19 L211.61,89.86 L213.36,89.86 L213.36,93.36 L215.11,93.36 L215.11,94.53 L216.86,94.53 L216.86,93.94 L218.61,93.94 L218.61,95.7 L220.36,95.7 L220.36,98.03 L225.04,98.03 L225.04,99.2 L228.54,99.2 L228.54,100.37 L236.72,100.37 L236.72,98.61 L239.05,98.61 L239.05,100.37 L246.06,100.37 L246.06,100.83 L257.74,100.83 L257.74,101.3 Z" fill="none" stroke="rgba(65,105,225,0.75)" stroke-width="0.6" stroke-linejoin="miter"/>
<path d="M197.7,55.94 L198.54,54.09 L199.39,52.53 L200.23,51.25 L201.07,50.24 L201.92,49.49 L202.76,49 L203.6,48.75 L204.45,48.74 L205.29,48.95 L206.13,49.37 L206.98,50 L207.82,50.82 L208.66,51.83 L209.51,53.01 L210.35,54.36 L211.19,55.87 L212.04,57.52 L212.88,59.31 L213.72,61.23 L214.57,63.24 L215.41,65.32 L216.25,67.44 L217.1,69.56 L217.94,71.66 L218.78,73.71 L219.63,75.67 L220.47,77.51 L221.32,79.23 L222.16,80.82 L223,82.28 L223.85,83.63 L224.69,84.87 L225.53,86.01 L226.38,87.05 L227.22,88 L228.06,88.86 L228.91,89.65 L229.75,90.36 L230.59,91 L231.44,91.58 L232.28,92.11 L233.12,92.58 L233.97,93.02 L234.81,93.41 L235.65,93.78 L236.5,94.12 L237.34,94.43 L238.18,94.72 L239.03,95 L239.87,95.25 L240.71,95.49 L241.56,95.72 L242.4,95.93 L243.24,96.14 L244.09,96.33 L244.93,96.52 L245.77,96.7 L246.62,96.87 L247.46,97.04 L248.3,97.2 L249.15,97.35 L249.99,97.49 L250.83,97.63 L251.68,97.76 L252.52,97.88 L253.36,98 L254.21,98.11 L255.05,98.21 L255.89,98.31 L256.74,98.41 L257.58,98.49 L258.42,98.58 L259.27,98.65 L260.11,98.73 L260.95,98.79 L261.8,98.86 L262.64,98.92 L263.48,98.97 L264.33,99.02 L265.17,99.07 L266.02,99.11 L266.86,99.15 L267.7,99.19 L268.55,99.23 L269.39,99.26 L270.23,99.29 L271.08,99.31 L271.92,99.34 L272.76,99.36 L273.61,99.38 L274.45,99.4 L275.29,99.41 L276.14,99.43 L276.98,99.44 L277.82,99.45 L278.67,99.47 L279.51,99.48 L280.35,99.49 L281.2,99.5 L282.04,99.51 L282.88,99.52 L283.73,99.53 L284.57,99.54 L285.41,99.56 L286.26,99.57 L287.1,99.58 L287.94,99.6 L288.79,99.62 L289.63,99.64 L290.47,99.66 L291.32,99.68 L292.16,99.7 L293,99.73 L293.85,99.75 L294.69,99.78 L295.53,99.81 L296.38,99.84 L297.22,99.87 L298.06,99.91 L298.91,99.94 L299.75,99.97 L300.59,100.01 L301.44,100.04 L302.28,100.08 L303.12,100.11 L303.97,100.15 L304.81,100.18 L305.65,100.22 L306.5,100.25 L307.34,100.29 L308.18,100.32 L309.03,100.36 L309.87,100.39 L310.72,100.42 L311.56,100.45 L312.4,100.48 L313.25,100.51 L314.09,100.54 L314.93,100.57 L315.78,100.59 L316.62,100.61 L317.46,100.64 L318.31,100.66 L319.15,100.67 L319.99,100.69 L320.84,100.7 L321.68,100.72 L322.52,100.72 L323.37,100.73 L324.21,100.74 L325.05,100.74 L325.9,100.74 L326.74,100.73 L327.58,100.72 L328.43,100.71 L329.27,100.7 L330.11,100.68 L330.96,100.66 L331.8,100.64" fill="none" stroke="rgb(135,206,235)" stroke-width="0.9" stroke-linejoin="round" stroke-linecap="butt"/>
<path d="M197.7,87.59 L198.08,87.29 L198.45,87.01 L198.83,86.76 L199.21,86.53 L199.59,86.33 L199.96,86.16 L200.34,86.01 L200.72,85.88 L201.1,85.77 L201.47,85.68 L201.85,85.62 L202.23,85.57 L202.61,85.55 L202.98,85.54 L203.36,85.56 L203.74,85.59 L204.12,85.63 L204.49,85.69 L204.87,85.77 L205.25,85.87 L205.62,85.97 L206,86.09 L206.38,86.23 L206.76,86.37 L207.13,86.53 L207.51,86.7 L207.89,86.88 L208.27,87.06 L208.64,87.26 L209.02,87.46 L209.4,87.68 L209.78,87.89 L210.15,88.12 L210.53,88.35 L210.91,88.58 L211.28,88.82 L211.66,89.06 L212.04,89.31 L212.42,89.55 L212.79,89.8 L213.17,90.05 L213.55,90.3 L213.93,90.54 L214.3,90.79 L214.68,91.04 L215.06,91.29 L215.44,91.53 L215.81,91.78 L216.19,92.03 L216.57,92.27 L216.95,92.51 L217.32,92.76 L217.7,93 L218.08,93.24 L218.45,93.47 L218.83,93.71 L219.21,93.94 L219.59,94.17 L219.96,94.4 L220.34,94.62 L220.72,94.85 L221.1,95.07 L221.47,95.28 L221.85,95.5 L222.23,95.7 L222.61,95.91 L222.98,96.11 L223.36,96.31 L223.74,96.5 L224.12,96.69 L224.49,96.88 L224.87,97.06 L225.25,97.24 L225.62,97.41 L226,97.57 L226.38,97.73 L226.76,97.89 L227.13,98.04 L227.51,98.18 L227.89,98.32 L228.27,98.45 L228.64,98.57 L229.02,98.69 L229.4,98.81 L229.78,98.92 L230.15,99.02 L230.53,99.12 L230.91,99.21 L231.28,99.3 L231.66,99.38 L232.04,99.46 L232.42,99.54 L232.79,99.6 L233.17,99.67 L233.55,99.73 L233.93,99.79 L234.3,99.84 L234.68,99.89 L235.06,99.93 L235.44,99.97 L235.81,100.01 L236.19,100.05 L236.57,100.08 L236.95,100.11 L237.32,100.13 L237.7,100.15 L238.08,100.17 L238.45,100.19 L238.83,100.21 L239.21,100.22 L239.59,100.23 L239.96,100.24 L240.34,100.24 L240.72,100.25 L241.1,100.25 L241.47,100.25 L241.85,100.25 L242.23,100.25 L242.61,100.25 L242.98,100.24 L243.36,100.24 L243.74,100.23 L244.12,100.23 L244.49,100.22 L244.87,100.21 L245.25,100.21 L245.62,100.2 L246,100.19 L246.38,100.18 L246.76,100.18 L247.13,100.17 L247.51,100.16 L247.89,100.16 L248.27,100.15 L248.64,100.15 L249.02,100.15 L249.4,100.14 L249.78,100.14 L250.15,100.15 L250.53,100.15 L250.91,100.15 L251.28,100.16 L251.66,100.17 L252.04,100.18 L252.42,100.19 L252.79,100.2 L253.17,100.22 L253.55,100.24 L253.93,100.26 L254.3,100.28 L254.68,100.31 L255.06,100.34 L255.44,100.38 L255.81,100.41 L256.19,100.46 L256.57,100.5 L256.95,100.55 L257.32,100.6 L257.7,100.65" fill="none" stroke="rgb(65,105,225)" stroke-width="0.9" stroke-linejoin="round" stroke-linecap="butt"/>
</g>
<clipPath id="a01"><rect x="191.4" y="9.2" width="146.6" height="92.1"/></clipPath>
<rect x="204.6" y="16.2" width="48.8" height="14.6" rx="1" fill="rgba(255,255,255,0.55)" stroke="#999" stroke-width="0.62"/>
<text x="206.3" y="22.7" font-family="Liberation Sans" font-size="5.46" text-anchor="start" textLength="45.54" lengthAdjust="spacingAndGlyphs" fill="#202020" stroke="#202020" stroke-width="0.07">t-statistic: 3.9295</text>
<text x="206.3" y="28.6" font-family="Liberation Sans" font-size="5.46" text-anchor="start" textLength="40.45" lengthAdjust="spacingAndGlyphs" fill="#202020" stroke="#202020" stroke-width="0.07">p-value: 0.0001</text>
<rect x="301.1" y="12.3" width="34.1" height="17.1" rx="0.8" fill="rgba(255,255,255,0.8)" stroke="#dcdcdc" stroke-width="0.5"/>
<rect x="302.8" y="14" width="11.6" height="4.4" fill="rgba(135,206,235,0.5)" stroke="rgba(135,206,235,0.5)" stroke-width="0.5"/>
<text x="317.7" y="18" font-family="Liberation Sans" font-size="5.51" text-anchor="start" textLength="10.9" lengthAdjust="spacingAndGlyphs" fill="#202020" stroke="#202020" stroke-width="0.07">RAG</text>
<rect x="302.8" y="21.8" width="11.6" height="4.3" fill="rgba(65,105,225,0.5)" stroke="rgba(65,105,225,0.5)" stroke-width="0.5"/>
<text x="317.7" y="25.7" font-family="Liberation Sans" font-size="5.51" text-anchor="start" textLength="15.57" lengthAdjust="spacingAndGlyphs" fill="#202020" stroke="#202020" stroke-width="0.07">Direct</text>
<rect x="191.4" y="9.2" width="146.6" height="92.1" fill="none" stroke="#3a3a3a" stroke-width="0.65"/>
<line x1="198" y1="101.3" x2="198" y2="103.2" stroke="#3a3a3a" stroke-width="0.5"/>
<text x="198" y="109.2" font-family="Liberation Sans" font-size="5.51" text-anchor="middle" textLength="11.58" lengthAdjust="spacingAndGlyphs" fill="#262626" stroke="#262626" stroke-width="0.07">0.00</text>
<line x1="221" y1="101.3" x2="221" y2="103.2" stroke="#3a3a3a" stroke-width="0.5"/>
<text x="221" y="109.2" font-family="Liberation Sans" font-size="5.51" text-anchor="middle" textLength="11.58" lengthAdjust="spacingAndGlyphs" fill="#262626" stroke="#262626" stroke-width="0.07">0.05</text>
<line x1="244" y1="101.3" x2="244" y2="103.2" stroke="#3a3a3a" stroke-width="0.5"/>
<text x="244" y="109.2" font-family="Liberation Sans" font-size="5.51" text-anchor="middle" textLength="11.58" lengthAdjust="spacingAndGlyphs" fill="#262626" stroke="#262626" stroke-width="0.07">0.10</text>
<line x1="267" y1="101.3" x2="267" y2="103.2" stroke="#3a3a3a" stroke-width="0.5"/>
<text x="267" y="109.2" font-family="Liberation Sans" font-size="5.51" text-anchor="middle" textLength="11.58" lengthAdjust="spacingAndGlyphs" fill="#262626" stroke="#262626" stroke-width="0.07">0.15</text>
<line x1="290" y1="101.3" x2="290" y2="103.2" stroke="#3a3a3a" stroke-width="0.5"/>
<text x="290" y="109.2" font-family="Liberation Sans" font-size="5.51" text-anchor="middle" textLength="11.58" lengthAdjust="spacingAndGlyphs" fill="#262626" stroke="#262626" stroke-width="0.07">0.20</text>
<line x1="313" y1="101.3" x2="313" y2="103.2" stroke="#3a3a3a" stroke-width="0.5"/>
<text x="313" y="109.2" font-family="Liberation Sans" font-size="5.51" text-anchor="middle" textLength="11.58" lengthAdjust="spacingAndGlyphs" fill="#262626" stroke="#262626" stroke-width="0.07">0.25</text>
<line x1="336" y1="101.3" x2="336" y2="103.2" stroke="#3a3a3a" stroke-width="0.5"/>
<text x="336" y="109.2" font-family="Liberation Sans" font-size="5.51" text-anchor="middle" textLength="11.58" lengthAdjust="spacingAndGlyphs" fill="#262626" stroke="#262626" stroke-width="0.07">0.30</text>
<line x1="189.5" y1="101.3" x2="191.4" y2="101.3" stroke="#3a3a3a" stroke-width="0.5"/>
<text x="187.6" y="103.17" font-family="Liberation Sans" font-size="5.51" text-anchor="end" textLength="3.31" lengthAdjust="spacingAndGlyphs" fill="#262626" stroke="#262626" stroke-width="0.07">0</text>
<line x1="189.5" y1="88.2" x2="191.4" y2="88.2" stroke="#3a3a3a" stroke-width="0.5"/>
<text x="187.6" y="90.07" font-family="Liberation Sans" font-size="5.51" text-anchor="end" textLength="6.62" lengthAdjust="spacingAndGlyphs" fill="#262626" stroke="#262626" stroke-width="0.07">20</text>
<line x1="189.5" y1="75.1" x2="191.4" y2="75.1" stroke="#3a3a3a" stroke-width="0.5"/>
<text x="187.6" y="76.97" font-family="Liberation Sans" font-size="5.51" text-anchor="end" textLength="6.62" lengthAdjust="spacingAndGlyphs" fill="#262626" stroke="#262626" stroke-width="0.07">40</text>
<line x1="189.5" y1="62" x2="191.4" y2="62" stroke="#3a3a3a" stroke-width="0.5"/>
<text x="187.6" y="63.87" font-family="Liberation Sans" font-size="5.51" text-anchor="end" textLength="6.62" lengthAdjust="spacingAndGlyphs" fill="#262626" stroke="#262626" stroke-width="0.07">60</text>
<line x1="189.5" y1="48.9" x2="191.4" y2="48.9" stroke="#3a3a3a" stroke-width="0.5"/>
<text x="187.6" y="50.77" font-family="Liberation Sans" font-size="5.51" text-anchor="end" textLength="6.62" lengthAdjust="spacingAndGlyphs" fill="#262626" stroke="#262626" stroke-width="0.07">80</text>
<line x1="189.5" y1="35.8" x2="191.4" y2="35.8" stroke="#3a3a3a" stroke-width="0.5"/>
<text x="187.6" y="37.67" font-family="Liberation Sans" font-size="5.51" text-anchor="end" textLength="9.93" lengthAdjust="spacingAndGlyphs" fill="#262626" stroke="#262626" stroke-width="0.07">100</text>
<line x1="189.5" y1="22.7" x2="191.4" y2="22.7" stroke="#3a3a3a" stroke-width="0.5"/>
<text x="187.6" y="24.57" font-family="Liberation Sans" font-size="5.51" text-anchor="end" textLength="9.93" lengthAdjust="spacingAndGlyphs" fill="#262626" stroke="#262626" stroke-width="0.07">120</text>
<line x1="189.5" y1="9.6" x2="191.4" y2="9.6" stroke="#3a3a3a" stroke-width="0.5"/>
<text x="187.6" y="11.47" font-family="Liberation Sans" font-size="5.51" text-anchor="end" textLength="9.93" lengthAdjust="spacingAndGlyphs" fill="#262626" stroke="#262626" stroke-width="0.07">140</text>
<text x="264.7" y="5.9" font-family="Liberation Sans" font-size="6.62" text-anchor="middle" textLength="70.12" lengthAdjust="spacingAndGlyphs" fill="#262626" stroke="#262626" stroke-width="0.05">Rouge-2-r Comparison</text>
<text x="264.7" y="116.5" font-family="Liberation Sans" font-size="5.51" text-anchor="middle" textLength="17.27" lengthAdjust="spacingAndGlyphs" fill="#262626" stroke="#262626" stroke-width="0.07">Scores</text>
<text transform="translate(174.5,55.25) rotate(-90)" x="0" y="0" font-family="Liberation Sans" font-size="5.51" text-anchor="middle" textLength="26.86" lengthAdjust="spacingAndGlyphs" fill="#262626" stroke="#262626" stroke-width="0.07">Frequency</text>
<g clip-path="url(#a02)">
<path d="M371.7,101.3 L371.7,88.51 L379,88.51 L379,48 L386.3,48 L386.3,22.42 L393.6,22.42 L393.6,13.89 L400.9,13.89 L400.9,56.53 L408.2,56.53 L408.2,74.65 L415.5,74.65 L415.5,76.78 L422.8,76.78 L422.8,93.84 L430.1,93.84 L430.1,92.77 L437.4,92.77 L437.4,93.84 L444.7,93.84 L444.7,97.04 L452,97.04 L452,97.04 L459.3,97.04 L459.3,101.3 L466.6,101.3 L466.6,101.3 L473.9,101.3 L473.9,98.1 L481.2,98.1 L481.2,100.23 L488.5,100.23 L488.5,100.23 L495.8,100.23 L495.8,100.23 L503.1,100.23 L503.1,101.3 Z" fill="rgba(135,206,235,0.5)" stroke="none"/>
<path d="M371.7,101.3 L371.7,88.51 L379,88.51 L379,48 L386.3,48 L386.3,22.42 L393.6,22.42 L393.6,13.89 L400.9,13.89 L400.9,56.53 L408.2,56.53 L408.2,74.65 L415.5,74.65 L415.5,76.78 L422.8,76.78 L422.8,93.84 L430.1,93.84 L430.1,92.77 L437.4,92.77 L437.4,93.84 L444.7,93.84 L444.7,97.04 L452,97.04 L452,97.04 L459.3,97.04 L459.3,101.3 L466.6,101.3 L466.6,101.3 L473.9,101.3 L473.9,98.1 L481.2,98.1 L481.2,100.23 L488.5,100.23 L488.5,100.23 L495.8,100.23 L495.8,100.23 L503.1,100.23 L503.1,101.3 Z" fill="none" stroke="rgba(135,206,235,0.75)" stroke-width="0.6" stroke-linejoin="miter"/>
<path d="M369.11,101.3 L369.11,98.38 L372.26,98.38 L372.26,88.46 L375.77,88.46 L375.77,88.22 L379.85,88.22 L379.85,82.62 L383.94,82.62 L383.94,74.45 L386.28,74.45 L386.28,68.02 L389.2,68.02 L389.2,74.45 L391.3,74.45 L391.3,66.04 L394.1,66.04 L394.1,74.21 L398.54,74.21 L398.54,68.02 L401.81,68.02 L401.81,80.28 L403.8,80.28 L403.8,82.62 L407.88,82.62 L407.88,83.2 L411.39,83.2 L411.39,88.46 L414.66,88.46 L414.66,89.04 L417.23,89.04 L417.23,95.46 L420.73,95.46 L420.73,94.88 L425.4,94.88 L425.4,98.96 L430.07,98.96 L430.07,100.13 L440,100.13 L440,100.55 L458,100.55 L458,101.3 Z" fill="rgba(65,105,225,0.5)" stroke="none"/>
<path d="M369.11,101.3 L369.11,98.38 L372.26,98.38 L372.26,88.46 L375.77,88.46 L375.77,88.22 L379.85,88.22 L379.85,82.62 L383.94,82.62 L383.94,74.45 L386.28,74.45 L386.28,68.02 L389.2,68.02 L389.2,74.45 L391.3,74.45 L391.3,66.04 L394.1,66.04 L394.1,74.21 L398.54,74.21 L398.54,68.02 L401.81,68.02 L401.81,80.28 L403.8,80.28 L403.8,82.62 L407.88,82.62 L407.88,83.2 L411.39,83.2 L411.39,88.46 L414.66,88.46 L414.66,89.04 L417.23,89.04 L417.23,95.46 L420.73,95.46 L420.73,94.88 L425.4,94.88 L425.4,98.96 L430.07,98.96 L430.07,100.13 L440,100.13 L440,100.55 L458,100.55 L458,101.3 Z" fill="none" stroke="rgba(65,105,225,0.75)" stroke-width="0.6" stroke-linejoin="miter"/>
<path d="M371.7,91.5 L372.8,88.88 L373.91,85.85 L375.01,82.41 L376.12,78.58 L377.22,74.42 L378.33,69.99 L379.43,65.37 L380.53,60.66 L381.64,55.96 L382.74,51.35 L383.85,46.91 L384.95,42.71 L386.05,38.81 L387.16,35.26 L388.26,32.09 L389.37,29.37 L390.47,27.13 L391.58,25.43 L392.68,24.34 L393.78,23.9 L394.89,24.16 L395.99,25.16 L397.1,26.88 L398.2,29.28 L399.31,32.3 L400.41,35.8 L401.51,39.65 L402.62,43.69 L403.72,47.77 L404.83,51.74 L405.93,55.52 L407.03,59 L408.14,62.16 L409.24,64.97 L410.35,67.43 L411.45,69.58 L412.56,71.45 L413.66,73.09 L414.76,74.58 L415.87,75.97 L416.97,77.32 L418.08,78.68 L419.18,80.09 L420.28,81.55 L421.39,83.06 L422.49,84.58 L423.6,86.07 L424.7,87.47 L425.81,88.74 L426.91,89.84 L428.01,90.76 L429.12,91.49 L430.22,92.05 L431.33,92.46 L432.43,92.77 L433.54,93 L434.64,93.18 L435.74,93.35 L436.85,93.52 L437.95,93.71 L439.06,93.92 L440.16,94.16 L441.26,94.43 L442.37,94.72 L443.47,95.02 L444.58,95.33 L445.68,95.63 L446.79,95.93 L447.89,96.21 L448.99,96.47 L450.1,96.71 L451.2,96.95 L452.31,97.19 L453.41,97.44 L454.52,97.71 L455.62,98.01 L456.72,98.33 L457.83,98.67 L458.93,99.03 L460.04,99.39 L461.14,99.73 L462.24,100.03 L463.35,100.29 L464.45,100.49 L465.56,100.63 L466.66,100.69 L467.77,100.69 L468.87,100.63 L469.97,100.52 L471.08,100.36 L472.18,100.17 L473.29,99.97 L474.39,99.78 L475.49,99.61 L476.6,99.48 L477.7,99.39 L478.81,99.35 L479.91,99.36 L481.02,99.42 L482.12,99.5 L483.22,99.61 L484.33,99.72 L485.43,99.83 L486.54,99.93 L487.64,100.02 L488.75,100.08 L489.85,100.14 L490.95,100.18 L492.06,100.21 L493.16,100.24 L494.27,100.27 L495.37,100.3 L496.47,100.34 L497.58,100.39 L498.68,100.45 L499.79,100.52 L500.89,100.59 L502,100.68 L503.1,100.77" fill="none" stroke="rgb(135,206,235)" stroke-width="0.9" stroke-linejoin="round" stroke-linecap="butt"/>
<path d="M369.11,97.36 L369.86,96.6 L370.6,95.77 L371.35,94.89 L372.1,93.98 L372.84,93.04 L373.59,92.1 L374.34,91.15 L375.09,90.21 L375.83,89.27 L376.58,88.33 L377.33,87.38 L378.07,86.42 L378.82,85.44 L379.57,84.44 L380.31,83.4 L381.06,82.34 L381.81,81.25 L382.56,80.15 L383.3,79.05 L384.05,77.97 L384.8,76.92 L385.54,75.93 L386.29,75.01 L387.04,74.17 L387.78,73.44 L388.53,72.82 L389.28,72.31 L390.02,71.91 L390.77,71.61 L391.52,71.42 L392.27,71.32 L393.01,71.31 L393.76,71.37 L394.51,71.5 L395.25,71.7 L396,71.96 L396.75,72.28 L397.49,72.67 L398.24,73.13 L398.99,73.65 L399.74,74.25 L400.48,74.91 L401.23,75.63 L401.98,76.41 L402.72,77.22 L403.47,78.05 L404.22,78.89 L404.96,79.73 L405.71,80.55 L406.46,81.35 L407.21,82.13 L407.95,82.88 L408.7,83.61 L409.45,84.33 L410.19,85.04 L410.94,85.74 L411.69,86.44 L412.43,87.14 L413.18,87.85 L413.93,88.56 L414.68,89.26 L415.42,89.96 L416.17,90.64 L416.92,91.3 L417.66,91.94 L418.41,92.55 L419.16,93.13 L419.9,93.68 L420.65,94.19 L421.4,94.68 L422.15,95.15 L422.89,95.59 L423.64,96.01 L424.39,96.42 L425.13,96.81 L425.88,97.19 L426.63,97.55 L427.37,97.89 L428.12,98.21 L428.87,98.51 L429.61,98.78 L430.36,99.03 L431.11,99.24 L431.86,99.43 L432.6,99.59 L433.35,99.73 L434.1,99.84 L434.84,99.94 L435.59,100.02 L436.34,100.09 L437.08,100.15 L437.83,100.2 L438.58,100.25 L439.33,100.29 L440.07,100.33 L440.82,100.36 L441.57,100.39 L442.31,100.42 L443.06,100.45 L443.81,100.47 L444.55,100.49 L445.3,100.5 L446.05,100.52 L446.8,100.53 L447.54,100.54 L448.29,100.55 L449.04,100.56 L449.78,100.57 L450.53,100.59 L451.28,100.6 L452.02,100.62 L452.77,100.64 L453.52,100.67 L454.27,100.71 L455.01,100.74 L455.76,100.78 L456.51,100.83 L457.25,100.88 L458,100.93" fill="none" stroke="rgb(65,105,225)" stroke-width="0.9" stroke-linejoin="round" stroke-linecap="butt"/>
</g>
<clipPath id="a02"><rect x="362.7" y="9.2" width="146.7" height="92.1"/></clipPath>
<rect x="375.9" y="16.2" width="48.8" height="14.6" rx="1" fill="rgba(255,255,255,0.55)" stroke="#999" stroke-width="0.62"/>
<text x="377.6" y="22.7" font-family="Liberation Sans" font-size="5.46" text-anchor="start" textLength="45.54" lengthAdjust="spacingAndGlyphs" fill="#202020" stroke="#202020" stroke-width="0.07">t-statistic: 3.0487</text>
<text x="377.6" y="28.6" font-family="Liberation Sans" font-size="5.46" text-anchor="start" textLength="40.45" lengthAdjust="spacingAndGlyphs" fill="#202020" stroke="#202020" stroke-width="0.07">p-value: 0.0024</text>
<rect x="472.5" y="12.3" width="34.1" height="17.1" rx="0.8" fill="rgba(255,255,255,0.8)" stroke="#dcdcdc" stroke-width="0.5"/>
<rect x="474.2" y="14" width="11.6" height="4.4" fill="rgba(135,206,235,0.5)" stroke="rgba(135,206,235,0.5)" stroke-width="0.5"/>
<text x="489.1" y="18" font-family="Liberation Sans" font-size="5.51" text-anchor="start" textLength="10.9" lengthAdjust="spacingAndGlyphs" fill="#202020" stroke="#202020" stroke-width="0.07">RAG</text>
<rect x="474.2" y="21.8" width="11.6" height="4.3" fill="rgba(65,105,225,0.5)" stroke="rgba(65,105,225,0.5)" stroke-width="0.5"/>
<text x="489.1" y="25.7" font-family="Liberation Sans" font-size="5.51" text-anchor="start" textLength="15.57" lengthAdjust="spacingAndGlyphs" fill="#202020" stroke="#202020" stroke-width="0.07">Direct</text>
<rect x="362.7" y="9.2" width="146.7" height="92.1" fill="none" stroke="#3a3a3a" stroke-width="0.65"/>
<line x1="362.6" y1="101.3" x2="362.6" y2="103.2" stroke="#3a3a3a" stroke-width="0.5"/>
<text x="362.6" y="109.2" font-family="Liberation Sans" font-size="5.51" text-anchor="middle" textLength="8.27" lengthAdjust="spacingAndGlyphs" fill="#262626" stroke="#262626" stroke-width="0.07">0.0</text>
<line x1="390.2" y1="101.3" x2="390.2" y2="103.2" stroke="#3a3a3a" stroke-width="0.5"/>
<text x="390.2" y="109.2" font-family="Liberation Sans" font-size="5.51" text-anchor="middle" textLength="8.27" lengthAdjust="spacingAndGlyphs" fill="#262626" stroke="#262626" stroke-width="0.07">0.1</text>
<line x1="417.8" y1="101.3" x2="417.8" y2="103.2" stroke="#3a3a3a" stroke-width="0.5"/>
<text x="417.8" y="109.2" font-family="Liberation Sans" font-size="5.51" text-anchor="middle" textLength="8.27" lengthAdjust="spacingAndGlyphs" fill="#262626" stroke="#262626" stroke-width="0.07">0.2</text>
<line x1="445.4" y1="101.3" x2="445.4" y2="103.2" stroke="#3a3a3a" stroke-width="0.5"/>
<text x="445.4" y="109.2" font-family="Liberation Sans" font-size="5.51" text-anchor="middle" textLength="8.27" lengthAdjust="spacingAndGlyphs" fill="#262626" stroke="#262626" stroke-width="0.07">0.3</text>
<line x1="473" y1="101.3" x2="473" y2="103.2" stroke="#3a3a3a" stroke-width="0.5"/>
<text x="473" y="109.2" font-family="Liberation Sans" font-size="5.51" text-anchor="middle" textLength="8.27" lengthAdjust="spacingAndGlyphs" fill="#262626" stroke="#262626" stroke-width="0.07">0.4</text>
<line x1="500.6" y1="101.3" x2="500.6" y2="103.2" stroke="#3a3a3a" stroke-width="0.5"/>
<text x="500.6" y="109.2" font-family="Liberation Sans" font-size="5.51" text-anchor="middle" textLength="8.27" lengthAdjust="spacingAndGlyphs" fill="#262626" stroke="#262626" stroke-width="0.07">0.5</text>
<line x1="360.8" y1="101.3" x2="362.7" y2="101.3" stroke="#3a3a3a" stroke-width="0.5"/>
<text x="358.9" y="103.17" font-family="Liberation Sans" font-size="5.51" text-anchor="end" textLength="3.31" lengthAdjust="spacingAndGlyphs" fill="#262626" stroke="#262626" stroke-width="0.07">0</text>
<line x1="360.8" y1="79.98" x2="362.7" y2="79.98" stroke="#3a3a3a" stroke-width="0.5"/>
<text x="358.9" y="81.85" font-family="Liberation Sans" font-size="5.51" text-anchor="end" textLength="6.62" lengthAdjust="spacingAndGlyphs" fill="#262626" stroke="#262626" stroke-width="0.07">20</text>
<line x1="360.8" y1="58.66" x2="362.7" y2="58.66" stroke="#3a3a3a" stroke-width="0.5"/>
<text x="358.9" y="60.53" font-family="Liberation Sans" font-size="5.51" text-anchor="end" textLength="6.62" lengthAdjust="spacingAndGlyphs" fill="#262626" stroke="#262626" stroke-width="0.07">40</text>
<line x1="360.8" y1="37.34" x2="362.7" y2="37.34" stroke="#3a3a3a" stroke-width="0.5"/>
<text x="358.9" y="39.21" font-family="Liberation Sans" font-size="5.51" text-anchor="end" textLength="6.62" lengthAdjust="spacingAndGlyphs" fill="#262626" stroke="#262626" stroke-width="0.07">60</text>
<line x1="360.8" y1="16.02" x2="362.7" y2="16.02" stroke="#3a3a3a" stroke-width="0.5"/>
<text x="358.9" y="17.89" font-family="Liberation Sans" font-size="5.51" text-anchor="end" textLength="6.62" lengthAdjust="spacingAndGlyphs" fill="#262626" stroke="#262626" stroke-width="0.07">80</text>
<text x="436.05" y="5.9" font-family="Liberation Sans" font-size="6.62" text-anchor="middle" textLength="69.52" lengthAdjust="spacingAndGlyphs" fill="#262626" stroke="#262626" stroke-width="0.05">Rouge-L-r Comparison</text>
<text x="436.05" y="116.5" font-family="Liberation Sans" font-size="5.51" text-anchor="middle" textLength="17.27" lengthAdjust="spacingAndGlyphs" fill="#262626" stroke="#262626" stroke-width="0.07">Scores</text>
<text transform="translate(349.6,55.25) rotate(-90)" x="0" y="0" font-family="Liberation Sans" font-size="5.51" text-anchor="middle" textLength="26.86" lengthAdjust="spacingAndGlyphs" fill="#262626" stroke="#262626" stroke-width="0.07">Frequency</text>
<g clip-path="url(#a03)">
<path d="M541.11,101.3 L541.11,87.29 L546.95,87.29 L546.95,60.43 L550.69,60.43 L550.69,48.16 L554.77,48.16 L554.77,32.98 L560.03,32.98 L560.03,27.73 L562.13,27.73 L562.13,13.48 L567.62,13.48 L567.62,30.65 L573.46,30.65 L573.46,54.59 L577.55,54.59 L577.55,59.26 L583.39,59.26 L583.39,65.1 L586.89,65.1 L586.89,71.87 L590.39,71.87 L590.39,77.94 L595.65,77.94 L595.65,85.88 L599.74,85.88 L599.74,89.62 L606.74,89.62 L606.74,99.44 L612.41,99.44 L612.41,100.31 L624.82,100.31 L624.82,97.58 L631.02,97.58 L631.02,96.09 L637.85,96.09 L637.85,100.06 L647.15,100.06 L647.15,100.68 L658.32,100.68 L658.32,101.3 L668.87,101.3 L668.87,99.44 L675.07,99.44 L675.07,101.3 Z" fill="rgba(255,0,0,0.5)" stroke="none"/>
<path d="M541.11,101.3 L541.11,87.29 L546.95,87.29 L546.95,60.43 L550.69,60.43 L550.69,48.16 L554.77,48.16 L554.77,32.98 L560.03,32.98 L560.03,27.73 L562.13,27.73 L562.13,13.48 L567.62,13.48 L567.62,30.65 L573.46,30.65 L573.46,54.59 L577.55,54.59 L577.55,59.26 L583.39,59.26 L583.39,65.1 L586.89,65.1 L586.89,71.87 L590.39,71.87 L590.39,77.94 L595.65,77.94 L595.65,85.88 L599.74,85.88 L599.74,89.62 L606.74,89.62 L606.74,99.44 L612.41,99.44 L612.41,100.31 L624.82,100.31 L624.82,97.58 L631.02,97.58 L631.02,96.09 L637.85,96.09 L637.85,100.06 L647.15,100.06 L647.15,100.68 L658.32,100.68 L658.32,101.3 L668.87,101.3 L668.87,99.44 L675.07,99.44 L675.07,101.3 Z" fill="none" stroke="rgba(255,0,0,0.75)" stroke-width="0.6" stroke-linejoin="miter"/>
<path d="M541.11,101.3 L541.11,85.88 L545.78,85.88 L545.78,73.27 L550.1,73.27 L550.1,51.08 L554.19,51.08 L554.19,40.57 L558.86,40.57 L558.86,30.65 L563.53,30.65 L563.53,28.89 L568.2,28.89 L568.2,28.89 L572.88,28.89 L572.88,36.49 L575.21,36.49 L575.21,54.59 L578.72,54.59 L578.72,54 L582.8,54 L582.8,70.94 L586.89,70.94 L586.89,80.28 L592.73,80.28 L592.73,88.45 L599.74,88.45 L599.74,94.29 L606.74,94.29 L606.74,99.44 L612.41,99.44 L612.41,100.68 L622.34,100.68 L622.34,99.81 L629.78,99.81 L629.78,101.3 Z" fill="rgba(0,0,255,0.5)" stroke="none"/>
<path d="M541.11,101.3 L541.11,85.88 L545.78,85.88 L545.78,73.27 L550.1,73.27 L550.1,51.08 L554.19,51.08 L554.19,40.57 L558.86,40.57 L558.86,30.65 L563.53,30.65 L563.53,28.89 L568.2,28.89 L568.2,28.89 L572.88,28.89 L572.88,36.49 L575.21,36.49 L575.21,54.59 L578.72,54.59 L578.72,54 L582.8,54 L582.8,70.94 L586.89,70.94 L586.89,80.28 L592.73,80.28 L592.73,88.45 L599.74,88.45 L599.74,94.29 L606.74,94.29 L606.74,99.44 L612.41,99.44 L612.41,100.68 L622.34,100.68 L622.34,99.81 L629.78,99.81 L629.78,101.3 Z" fill="none" stroke="rgba(0,0,255,0.75)" stroke-width="0.6" stroke-linejoin="miter"/>
<path d="M541.11,89.03 L542.24,86.21 L543.36,83.07 L544.49,79.63 L545.61,75.93 L546.74,72.05 L547.86,68.03 L548.99,63.94 L550.12,59.84 L551.24,55.81 L552.37,51.88 L553.49,48.11 L554.62,44.53 L555.74,41.19 L556.87,38.12 L558,35.35 L559.12,32.92 L560.25,30.88 L561.37,29.27 L562.5,28.14 L563.62,27.52 L564.75,27.43 L565.88,27.89 L567,28.87 L568.13,30.34 L569.25,32.24 L570.38,34.51 L571.5,37.04 L572.63,39.76 L573.76,42.57 L574.88,45.38 L576.01,48.13 L577.13,50.78 L578.26,53.29 L579.38,55.65 L580.51,57.86 L581.64,59.94 L582.76,61.92 L583.89,63.81 L585.01,65.64 L586.14,67.42 L587.26,69.18 L588.39,70.91 L589.52,72.62 L590.64,74.31 L591.77,75.97 L592.89,77.59 L594.02,79.17 L595.14,80.71 L596.27,82.21 L597.4,83.65 L598.52,85.05 L599.65,86.4 L600.77,87.71 L601.9,88.98 L603.02,90.21 L604.15,91.4 L605.28,92.54 L606.4,93.63 L607.53,94.66 L608.65,95.6 L609.78,96.46 L610.9,97.21 L612.03,97.86 L613.16,98.39 L614.28,98.82 L615.41,99.13 L616.53,99.35 L617.66,99.47 L618.78,99.51 L619.91,99.48 L621.04,99.38 L622.16,99.23 L623.29,99.04 L624.41,98.83 L625.54,98.6 L626.66,98.37 L627.79,98.16 L628.92,97.98 L630.04,97.83 L631.17,97.74 L632.29,97.7 L633.42,97.72 L634.55,97.81 L635.67,97.95 L636.8,98.13 L637.92,98.36 L639.05,98.6 L640.17,98.86 L641.3,99.12 L642.43,99.36 L643.55,99.59 L644.68,99.79 L645.8,99.97 L646.93,100.13 L648.05,100.26 L649.18,100.38 L650.31,100.48 L651.43,100.56 L652.56,100.64 L653.68,100.7 L654.81,100.76 L655.93,100.82 L657.06,100.86 L658.19,100.9 L659.31,100.92 L660.44,100.93 L661.56,100.93 L662.69,100.91 L663.81,100.87 L664.94,100.82 L666.07,100.77 L667.19,100.71 L668.32,100.65 L669.44,100.6 L670.57,100.57 L671.69,100.56 L672.82,100.56 L673.95,100.6 L675.07,100.65" fill="none" stroke="rgb(255,0,0)" stroke-width="0.9" stroke-linejoin="round" stroke-linecap="butt"/>
<path d="M541.11,91.15 L541.85,89.37 L542.6,87.43 L543.34,85.36 L544.09,83.17 L544.84,80.87 L545.58,78.46 L546.33,75.96 L547.07,73.38 L547.82,70.75 L548.56,68.07 L549.31,65.37 L550.05,62.67 L550.8,60 L551.54,57.38 L552.29,54.84 L553.03,52.38 L553.78,50.03 L554.52,47.81 L555.27,45.71 L556.01,43.75 L556.76,41.93 L557.5,40.25 L558.25,38.71 L558.99,37.31 L559.74,36.05 L560.48,34.92 L561.23,33.93 L561.97,33.08 L562.72,32.36 L563.46,31.78 L564.21,31.34 L564.95,31.05 L565.7,30.9 L566.44,30.91 L567.19,31.09 L567.93,31.43 L568.68,31.96 L569.42,32.68 L570.17,33.59 L570.91,34.69 L571.66,35.97 L572.41,37.41 L573.15,39 L573.9,40.72 L574.64,42.52 L575.39,44.4 L576.13,46.31 L576.88,48.25 L577.62,50.18 L578.37,52.12 L579.11,54.04 L579.86,55.95 L580.6,57.86 L581.35,59.76 L582.09,61.65 L582.84,63.54 L583.58,65.41 L584.33,67.25 L585.07,69.06 L585.82,70.83 L586.56,72.53 L587.31,74.15 L588.05,75.7 L588.8,77.17 L589.54,78.55 L590.29,79.85 L591.03,81.07 L591.78,82.21 L592.52,83.28 L593.27,84.29 L594.01,85.24 L594.76,86.14 L595.5,87 L596.25,87.8 L596.99,88.58 L597.74,89.32 L598.48,90.03 L599.23,90.72 L599.98,91.38 L600.72,92.03 L601.47,92.65 L602.21,93.26 L602.96,93.86 L603.7,94.44 L604.45,95.01 L605.19,95.55 L605.94,96.08 L606.68,96.59 L607.43,97.08 L608.17,97.54 L608.92,97.96 L609.66,98.36 L610.41,98.71 L611.15,99.04 L611.9,99.32 L612.64,99.56 L613.39,99.77 L614.13,99.95 L614.88,100.09 L615.62,100.2 L616.37,100.28 L617.11,100.33 L617.86,100.37 L618.6,100.38 L619.35,100.38 L620.09,100.37 L620.84,100.35 L621.58,100.33 L622.33,100.3 L623.07,100.28 L623.82,100.27 L624.56,100.26 L625.31,100.27 L626.05,100.29 L626.8,100.33 L627.54,100.38 L628.29,100.44 L629.04,100.52 L629.78,100.6" fill="none" stroke="rgb(0,0,255)" stroke-width="0.9" stroke-linejoin="round" stroke-linecap="butt"/>
</g>
<clipPath id="a03"><rect x="534.4" y="9.2" width="147.1" height="92.1"/></clipPath>
<rect x="547.6" y="16.2" width="48.8" height="14.6" rx="1" fill="rgba(255,255,255,0.55)" stroke="#999" stroke-width="0.62"/>
<text x="549.3" y="22.7" font-family="Liberation Sans" font-size="5.46" text-anchor="start" textLength="45.54" lengthAdjust="spacingAndGlyphs" fill="#202020" stroke="#202020" stroke-width="0.07">t-statistic: 3.3108</text>
<text x="549.3" y="28.6" font-family="Liberation Sans" font-size="5.46" text-anchor="start" textLength="40.45" lengthAdjust="spacingAndGlyphs" fill="#202020" stroke="#202020" stroke-width="0.07">p-value: 0.0010</text>
<rect x="644.6" y="12.3" width="34.1" height="17.1" rx="0.8" fill="rgba(255,255,255,0.8)" stroke="#dcdcdc" stroke-width="0.5"/>
<rect x="646.3" y="14" width="11.6" height="4.4" fill="rgba(255,0,0,0.5)" stroke="rgba(255,0,0,0.5)" stroke-width="0.5"/>
<text x="661.2" y="18" font-family="Liberation Sans" font-size="5.51" text-anchor="start" textLength="10.9" lengthAdjust="spacingAndGlyphs" fill="#202020" stroke="#202020" stroke-width="0.07">RAG</text>
<rect x="646.3" y="21.8" width="11.6" height="4.3" fill="rgba(0,0,255,0.5)" stroke="rgba(0,0,255,0.5)" stroke-width="0.5"/>
<text x="661.2" y="25.7" font-family="Liberation Sans" font-size="5.51" text-anchor="start" textLength="15.57" lengthAdjust="spacingAndGlyphs" fill="#202020" stroke="#202020" stroke-width="0.07">Direct</text>
<rect x="534.4" y="9.2" width="147.1" height="92.1" fill="none" stroke="#3a3a3a" stroke-width="0.65"/>
<line x1="564.5" y1="101.3" x2="564.5" y2="103.2" stroke="#3a3a3a" stroke-width="0.5"/>
<text x="564.5" y="109.2" font-family="Liberation Sans" font-size="5.51" text-anchor="middle" textLength="8.27" lengthAdjust="spacingAndGlyphs" fill="#262626" stroke="#262626" stroke-width="0.07">0.1</text>
<line x1="596.9" y1="101.3" x2="596.9" y2="103.2" stroke="#3a3a3a" stroke-width="0.5"/>
<text x="596.9" y="109.2" font-family="Liberation Sans" font-size="5.51" text-anchor="middle" textLength="8.27" lengthAdjust="spacingAndGlyphs" fill="#262626" stroke="#262626" stroke-width="0.07">0.2</text>
<line x1="629.3" y1="101.3" x2="629.3" y2="103.2" stroke="#3a3a3a" stroke-width="0.5"/>
<text x="629.3" y="109.2" font-family="Liberation Sans" font-size="5.51" text-anchor="middle" textLength="8.27" lengthAdjust="spacingAndGlyphs" fill="#262626" stroke="#262626" stroke-width="0.07">0.3</text>
<line x1="661.7" y1="101.3" x2="661.7" y2="103.2" stroke="#3a3a3a" stroke-width="0.5"/>
<text x="661.7" y="109.2" font-family="Liberation Sans" font-size="5.51" text-anchor="middle" textLength="8.27" lengthAdjust="spacingAndGlyphs" fill="#262626" stroke="#262626" stroke-width="0.07">0.4</text>
<line x1="532.5" y1="101.3" x2="534.4" y2="101.3" stroke="#3a3a3a" stroke-width="0.5"/>
<text x="530.6" y="103.17" font-family="Liberation Sans" font-size="5.51" text-anchor="end" textLength="3.31" lengthAdjust="spacingAndGlyphs" fill="#262626" stroke="#262626" stroke-width="0.07">0</text>
<line x1="532.5" y1="86.2" x2="534.4" y2="86.2" stroke="#3a3a3a" stroke-width="0.5"/>
<text x="530.6" y="88.07" font-family="Liberation Sans" font-size="5.51" text-anchor="end" textLength="6.62" lengthAdjust="spacingAndGlyphs" fill="#262626" stroke="#262626" stroke-width="0.07">10</text>
<line x1="532.5" y1="71.1" x2="534.4" y2="71.1" stroke="#3a3a3a" stroke-width="0.5"/>
<text x="530.6" y="72.97" font-family="Liberation Sans" font-size="5.51" text-anchor="end" textLength="6.62" lengthAdjust="spacingAndGlyphs" fill="#262626" stroke="#262626" stroke-width="0.07">20</text>
<line x1="532.5" y1="56" x2="534.4" y2="56" stroke="#3a3a3a" stroke-width="0.5"/>
<text x="530.6" y="57.87" font-family="Liberation Sans" font-size="5.51" text-anchor="end" textLength="6.62" lengthAdjust="spacingAndGlyphs" fill="#262626" stroke="#262626" stroke-width="0.07">30</text>
<line x1="532.5" y1="40.9" x2="534.4" y2="40.9" stroke="#3a3a3a" stroke-width="0.5"/>
<text x="530.6" y="42.77" font-family="Liberation Sans" font-size="5.51" text-anchor="end" textLength="6.62" lengthAdjust="spacingAndGlyphs" fill="#262626" stroke="#262626" stroke-width="0.07">40</text>
<line x1="532.5" y1="25.8" x2="534.4" y2="25.8" stroke="#3a3a3a" stroke-width="0.5"/>
<text x="530.6" y="27.67" font-family="Liberation Sans" font-size="5.51" text-anchor="end" textLength="6.62" lengthAdjust="spacingAndGlyphs" fill="#262626" stroke="#262626" stroke-width="0.07">50</text>
<line x1="532.5" y1="10.7" x2="534.4" y2="10.7" stroke="#3a3a3a" stroke-width="0.5"/>
<text x="530.6" y="12.57" font-family="Liberation Sans" font-size="5.51" text-anchor="end" textLength="6.62" lengthAdjust="spacingAndGlyphs" fill="#262626" stroke="#262626" stroke-width="0.07">60</text>
<text x="607.95" y="5.9" font-family="Liberation Sans" font-size="6.62" text-anchor="middle" textLength="93.72" lengthAdjust="spacingAndGlyphs" fill="#262626" stroke="#262626" stroke-width="0.05">Average Comparison of Recall</text>
<text x="607.95" y="116.5" font-family="Liberation Sans" font-size="5.51" text-anchor="middle" textLength="40.28" lengthAdjust="spacingAndGlyphs" fill="#262626" stroke="#262626" stroke-width="0.07">Average Scores</text>
<text transform="translate(521.3,55.25) rotate(-90)" x="0" y="0" font-family="Liberation Sans" font-size="5.51" text-anchor="middle" textLength="26.86" lengthAdjust="spacingAndGlyphs" fill="#262626" stroke="#262626" stroke-width="0.07">Frequency</text>
<g clip-path="url(#a10)">
<path d="M25.9,220.5 L25.9,211.85 L33.3,211.85 L33.3,200.72 L40.7,200.72 L40.7,176 L48.1,176 L48.1,148.81 L55.5,148.81 L55.5,132.74 L62.9,132.74 L62.9,150.05 L70.3,150.05 L70.3,176 L77.7,176 L77.7,199.49 L85.1,199.49 L85.1,203.2 L92.5,203.2 L92.5,206.9 L99.9,206.9 L99.9,214.32 L107.3,214.32 L107.3,216.79 L114.7,216.79 L114.7,219.26 L122.1,219.26 L122.1,219.26 L129.5,219.26 L129.5,218.03 L136.9,218.03 L136.9,219.26 L144.3,219.26 L144.3,219.26 L151.7,219.26 L151.7,218.03 L159.1,218.03 L159.1,220.5 Z" fill="rgba(240,128,128,0.5)" stroke="none"/>
<path d="M25.9,220.5 L25.9,211.85 L33.3,211.85 L33.3,200.72 L40.7,200.72 L40.7,176 L48.1,176 L48.1,148.81 L55.5,148.81 L55.5,132.74 L62.9,132.74 L62.9,150.05 L70.3,150.05 L70.3,176 L77.7,176 L77.7,199.49 L85.1,199.49 L85.1,203.2 L92.5,203.2 L92.5,206.9 L99.9,206.9 L99.9,214.32 L107.3,214.32 L107.3,216.79 L114.7,216.79 L114.7,219.26 L122.1,219.26 L122.1,219.26 L129.5,219.26 L129.5,218.03 L136.9,218.03 L136.9,219.26 L144.3,219.26 L144.3,219.26 L151.7,219.26 L151.7,218.03 L159.1,218.03 L159.1,220.5 Z" fill="none" stroke="rgba(240,128,128,0.75)" stroke-width="0.6" stroke-linejoin="miter"/>
<path d="M25.94,220.5 L25.94,217.23 L30.85,217.23 L30.85,212.56 L34.93,212.56 L34.93,211.97 L38.44,211.97 L38.44,206.48 L43.11,206.48 L43.11,202.04 L46.61,202.04 L46.61,199.71 L48.95,199.71 L48.95,187.44 L53.04,187.44 L53.04,190.94 L56.54,190.94 L56.54,189.19 L58.29,189.19 L58.29,180.78 L60.63,180.78 L60.63,189.19 L64.13,189.19 L64.13,193.86 L65.88,193.86 L65.88,188.02 L68.22,188.02 L68.22,196.2 L70.55,196.2 L70.55,200.87 L72.89,200.87 L72.89,205.55 L75.23,205.55 L75.23,211.97 L78.73,211.97 L78.73,213.72 L82.23,213.72 L82.23,217.23 L85.74,217.23 L85.74,218.4 L90.41,218.4 L90.41,218.75 L93.84,218.75 L93.84,219.68 L100.26,219.68 L100.26,218.16 L102.6,218.16 L102.6,219.92 L111.36,219.92 L111.36,219.1 L114.28,219.1 L114.28,220.5 Z" fill="rgba(255,0,0,0.5)" stroke="none"/>
<path d="M25.94,220.5 L25.94,217.23 L30.85,217.23 L30.85,212.56 L34.93,212.56 L34.93,211.97 L38.44,211.97 L38.44,206.48 L43.11,206.48 L43.11,202.04 L46.61,202.04 L46.61,199.71 L48.95,199.71 L48.95,187.44 L53.04,187.44 L53.04,190.94 L56.54,190.94 L56.54,189.19 L58.29,189.19 L58.29,180.78 L60.63,180.78 L60.63,189.19 L64.13,189.19 L64.13,193.86 L65.88,193.86 L65.88,188.02 L68.22,188.02 L68.22,196.2 L70.55,196.2 L70.55,200.87 L72.89,200.87 L72.89,205.55 L75.23,205.55 L75.23,211.97 L78.73,211.97 L78.73,213.72 L82.23,213.72 L82.23,217.23 L85.74,217.23 L85.74,218.4 L90.41,218.4 L90.41,218.75 L93.84,218.75 L93.84,219.68 L100.26,219.68 L100.26,218.16 L102.6,218.16 L102.6,219.92 L111.36,219.92 L111.36,219.1 L114.28,219.1 L114.28,220.5 Z" fill="none" stroke="rgba(255,0,0,0.75)" stroke-width="0.6" stroke-linejoin="miter"/>
<path d="M25.9,214.65 L27.02,213.46 L28.14,212.14 L29.26,210.68 L30.38,209.08 L31.5,207.32 L32.62,205.41 L33.74,203.34 L34.85,201.08 L35.97,198.65 L37.09,196.03 L38.21,193.23 L39.33,190.26 L40.45,187.13 L41.57,183.87 L42.69,180.49 L43.81,177.02 L44.93,173.52 L46.05,170 L47.17,166.52 L48.29,163.12 L49.41,159.84 L50.53,156.75 L51.64,153.88 L52.76,151.29 L53.88,149.03 L55,147.15 L56.12,145.67 L57.24,144.65 L58.36,144.1 L59.48,144.03 L60.6,144.45 L61.72,145.34 L62.84,146.68 L63.96,148.43 L65.08,150.55 L66.2,153 L67.32,155.72 L68.43,158.67 L69.55,161.78 L70.67,165.02 L71.79,168.32 L72.91,171.64 L74.03,174.94 L75.15,178.16 L76.27,181.27 L77.39,184.23 L78.51,187.01 L79.63,189.58 L80.75,191.93 L81.87,194.04 L82.99,195.91 L84.11,197.57 L85.22,199.01 L86.34,200.28 L87.46,201.39 L88.58,202.38 L89.7,203.28 L90.82,204.11 L91.94,204.91 L93.06,205.68 L94.18,206.45 L95.3,207.22 L96.42,208 L97.54,208.79 L98.66,209.58 L99.78,210.37 L100.89,211.14 L102.01,211.89 L103.13,212.61 L104.25,213.3 L105.37,213.94 L106.49,214.54 L107.61,215.09 L108.73,215.6 L109.85,216.07 L110.97,216.5 L112.09,216.89 L113.21,217.24 L114.33,217.56 L115.45,217.85 L116.57,218.1 L117.68,218.32 L118.8,218.49 L119.92,218.64 L121.04,218.75 L122.16,218.82 L123.28,218.86 L124.4,218.88 L125.52,218.88 L126.64,218.86 L127.76,218.82 L128.88,218.79 L130,218.75 L131.12,218.73 L132.24,218.71 L133.36,218.71 L134.47,218.72 L135.59,218.74 L136.71,218.77 L137.83,218.82 L138.95,218.86 L140.07,218.91 L141.19,218.95 L142.31,218.98 L143.43,219 L144.55,219.01 L145.67,219 L146.79,218.99 L147.91,218.97 L149.03,218.95 L150.15,218.93 L151.26,218.92 L152.38,218.93 L153.5,218.96 L154.62,219 L155.74,219.07 L156.86,219.17 L157.98,219.28 L159.1,219.41" fill="none" stroke="rgb(240,128,128)" stroke-width="0.9" stroke-linejoin="round" stroke-linecap="butt"/>
<path d="M25.94,218.24 L26.68,217.82 L27.43,217.36 L28.17,216.88 L28.91,216.38 L29.65,215.85 L30.4,215.31 L31.14,214.77 L31.88,214.21 L32.62,213.65 L33.36,213.08 L34.11,212.5 L34.85,211.9 L35.59,211.29 L36.33,210.67 L37.08,210.02 L37.82,209.34 L38.56,208.63 L39.3,207.89 L40.05,207.12 L40.79,206.31 L41.53,205.46 L42.27,204.57 L43.01,203.63 L43.76,202.65 L44.5,201.63 L45.24,200.57 L45.98,199.48 L46.73,198.38 L47.47,197.27 L48.21,196.19 L48.95,195.13 L49.7,194.13 L50.44,193.2 L51.18,192.34 L51.92,191.57 L52.67,190.88 L53.41,190.28 L54.15,189.75 L54.89,189.3 L55.63,188.93 L56.38,188.62 L57.12,188.38 L57.86,188.22 L58.6,188.15 L59.35,188.16 L60.09,188.26 L60.83,188.46 L61.57,188.75 L62.32,189.14 L63.06,189.61 L63.8,190.17 L64.54,190.81 L65.28,191.54 L66.03,192.34 L66.77,193.23 L67.51,194.2 L68.25,195.24 L69,196.36 L69.74,197.54 L70.48,198.78 L71.22,200.05 L71.97,201.35 L72.71,202.66 L73.45,203.95 L74.19,205.22 L74.93,206.44 L75.68,207.61 L76.42,208.71 L77.16,209.74 L77.9,210.7 L78.65,211.59 L79.39,212.4 L80.13,213.14 L80.87,213.83 L81.62,214.45 L82.36,215.02 L83.1,215.54 L83.84,216 L84.58,216.43 L85.33,216.81 L86.07,217.15 L86.81,217.45 L87.55,217.72 L88.3,217.95 L89.04,218.16 L89.78,218.34 L90.52,218.5 L91.27,218.65 L92.01,218.77 L92.75,218.88 L93.49,218.98 L94.23,219.06 L94.98,219.13 L95.72,219.19 L96.46,219.24 L97.2,219.27 L97.95,219.3 L98.69,219.32 L99.43,219.34 L100.17,219.36 L100.92,219.39 L101.66,219.41 L102.4,219.45 L103.14,219.48 L103.88,219.52 L104.63,219.56 L105.37,219.59 L106.11,219.63 L106.85,219.66 L107.6,219.69 L108.34,219.72 L109.08,219.75 L109.82,219.77 L110.57,219.8 L111.31,219.83 L112.05,219.86 L112.79,219.9 L113.54,219.95 L114.28,220" fill="none" stroke="rgb(255,0,0)" stroke-width="0.9" stroke-linejoin="round" stroke-linecap="butt"/>
</g>
<clipPath id="a10"><rect x="19" y="128.1" width="147.2" height="92.4"/></clipPath>
<rect x="32.2" y="135.1" width="48.8" height="14.6" rx="1" fill="rgba(255,255,255,0.55)" stroke="#999" stroke-width="0.62"/>
<text x="33.9" y="141.6" font-family="Liberation Sans" font-size="5.46" text-anchor="start" textLength="45.54" lengthAdjust="spacingAndGlyphs" fill="#202020" stroke="#202020" stroke-width="0.07">t-statistic: 5.4786</text>
<text x="33.9" y="147.5" font-family="Liberation Sans" font-size="5.46" text-anchor="start" textLength="40.45" lengthAdjust="spacingAndGlyphs" fill="#202020" stroke="#202020" stroke-width="0.07">p-value: 0.0000</text>
<rect x="129.3" y="131.2" width="34.1" height="17.1" rx="0.8" fill="rgba(255,255,255,0.8)" stroke="#dcdcdc" stroke-width="0.5"/>
<rect x="131" y="132.9" width="11.6" height="4.4" fill="rgba(240,128,128,0.5)" stroke="rgba(240,128,128,0.5)" stroke-width="0.5"/>
<text x="145.9" y="136.9" font-family="Liberation Sans" font-size="5.51" text-anchor="start" textLength="10.9" lengthAdjust="spacingAndGlyphs" fill="#202020" stroke="#202020" stroke-width="0.07">RAG</text>
<rect x="131" y="140.7" width="11.6" height="4.3" fill="rgba(255,0,0,0.5)" stroke="rgba(255,0,0,0.5)" stroke-width="0.5"/>
<text x="145.9" y="144.6" font-family="Liberation Sans" font-size="5.51" text-anchor="start" textLength="15.57" lengthAdjust="spacingAndGlyphs" fill="#202020" stroke="#202020" stroke-width="0.07">Direct</text>
<rect x="19" y="128.1" width="147.2" height="92.4" fill="none" stroke="#3a3a3a" stroke-width="0.65"/>
<line x1="36.7" y1="220.5" x2="36.7" y2="222.4" stroke="#3a3a3a" stroke-width="0.5"/>
<text x="36.7" y="228.4" font-family="Liberation Sans" font-size="5.51" text-anchor="middle" textLength="8.27" lengthAdjust="spacingAndGlyphs" fill="#262626" stroke="#262626" stroke-width="0.07">0.1</text>
<line x1="56.25" y1="220.5" x2="56.25" y2="222.4" stroke="#3a3a3a" stroke-width="0.5"/>
<text x="56.25" y="228.4" font-family="Liberation Sans" font-size="5.51" text-anchor="middle" textLength="8.27" lengthAdjust="spacingAndGlyphs" fill="#262626" stroke="#262626" stroke-width="0.07">0.2</text>
<line x1="75.8" y1="220.5" x2="75.8" y2="222.4" stroke="#3a3a3a" stroke-width="0.5"/>
<text x="75.8" y="228.4" font-family="Liberation Sans" font-size="5.51" text-anchor="middle" textLength="8.27" lengthAdjust="spacingAndGlyphs" fill="#262626" stroke="#262626" stroke-width="0.07">0.3</text>
<line x1="95.35" y1="220.5" x2="95.35" y2="222.4" stroke="#3a3a3a" stroke-width="0.5"/>
<text x="95.35" y="228.4" font-family="Liberation Sans" font-size="5.51" text-anchor="middle" textLength="8.27" lengthAdjust="spacingAndGlyphs" fill="#262626" stroke="#262626" stroke-width="0.07">0.4</text>
<line x1="114.9" y1="220.5" x2="114.9" y2="222.4" stroke="#3a3a3a" stroke-width="0.5"/>
<text x="114.9" y="228.4" font-family="Liberation Sans" font-size="5.51" text-anchor="middle" textLength="8.27" lengthAdjust="spacingAndGlyphs" fill="#262626" stroke="#262626" stroke-width="0.07">0.5</text>
<line x1="134.45" y1="220.5" x2="134.45" y2="222.4" stroke="#3a3a3a" stroke-width="0.5"/>
<text x="134.45" y="228.4" font-family="Liberation Sans" font-size="5.51" text-anchor="middle" textLength="8.27" lengthAdjust="spacingAndGlyphs" fill="#262626" stroke="#262626" stroke-width="0.07">0.6</text>
<line x1="154" y1="220.5" x2="154" y2="222.4" stroke="#3a3a3a" stroke-width="0.5"/>
<text x="154" y="228.4" font-family="Liberation Sans" font-size="5.51" text-anchor="middle" textLength="8.27" lengthAdjust="spacingAndGlyphs" fill="#262626" stroke="#262626" stroke-width="0.07">0.7</text>
<line x1="17.1" y1="220.5" x2="19" y2="220.5" stroke="#3a3a3a" stroke-width="0.5"/>
<text x="15.2" y="222.37" font-family="Liberation Sans" font-size="5.51" text-anchor="end" textLength="3.31" lengthAdjust="spacingAndGlyphs" fill="#262626" stroke="#262626" stroke-width="0.07">0</text>
<line x1="17.1" y1="208.14" x2="19" y2="208.14" stroke="#3a3a3a" stroke-width="0.5"/>
<text x="15.2" y="210.01" font-family="Liberation Sans" font-size="5.51" text-anchor="end" textLength="6.62" lengthAdjust="spacingAndGlyphs" fill="#262626" stroke="#262626" stroke-width="0.07">10</text>
<line x1="17.1" y1="195.78" x2="19" y2="195.78" stroke="#3a3a3a" stroke-width="0.5"/>
<text x="15.2" y="197.65" font-family="Liberation Sans" font-size="5.51" text-anchor="end" textLength="6.62" lengthAdjust="spacingAndGlyphs" fill="#262626" stroke="#262626" stroke-width="0.07">20</text>
<line x1="17.1" y1="183.42" x2="19" y2="183.42" stroke="#3a3a3a" stroke-width="0.5"/>
<text x="15.2" y="185.29" font-family="Liberation Sans" font-size="5.51" text-anchor="end" textLength="6.62" lengthAdjust="spacingAndGlyphs" fill="#262626" stroke="#262626" stroke-width="0.07">30</text>
<line x1="17.1" y1="171.06" x2="19" y2="171.06" stroke="#3a3a3a" stroke-width="0.5"/>
<text x="15.2" y="172.93" font-family="Liberation Sans" font-size="5.51" text-anchor="end" textLength="6.62" lengthAdjust="spacingAndGlyphs" fill="#262626" stroke="#262626" stroke-width="0.07">40</text>
<line x1="17.1" y1="158.7" x2="19" y2="158.7" stroke="#3a3a3a" stroke-width="0.5"/>
<text x="15.2" y="160.57" font-family="Liberation Sans" font-size="5.51" text-anchor="end" textLength="6.62" lengthAdjust="spacingAndGlyphs" fill="#262626" stroke="#262626" stroke-width="0.07">50</text>
<line x1="17.1" y1="146.34" x2="19" y2="146.34" stroke="#3a3a3a" stroke-width="0.5"/>
<text x="15.2" y="148.21" font-family="Liberation Sans" font-size="5.51" text-anchor="end" textLength="6.62" lengthAdjust="spacingAndGlyphs" fill="#262626" stroke="#262626" stroke-width="0.07">60</text>
<line x1="17.1" y1="133.98" x2="19" y2="133.98" stroke="#3a3a3a" stroke-width="0.5"/>
<text x="15.2" y="135.85" font-family="Liberation Sans" font-size="5.51" text-anchor="end" textLength="6.62" lengthAdjust="spacingAndGlyphs" fill="#262626" stroke="#262626" stroke-width="0.07">70</text>
<text x="92.6" y="124.8" font-family="Liberation Sans" font-size="6.62" text-anchor="middle" textLength="71.52" lengthAdjust="spacingAndGlyphs" fill="#262626" stroke="#262626" stroke-width="0.05">Rouge-1-p Comparison</text>
<text x="92.6" y="235.7" font-family="Liberation Sans" font-size="5.51" text-anchor="middle" textLength="17.27" lengthAdjust="spacingAndGlyphs" fill="#262626" stroke="#262626" stroke-width="0.07">Scores</text>
<text transform="translate(5.9,174.3) rotate(-90)" x="0" y="0" font-family="Liberation Sans" font-size="5.51" text-anchor="middle" textLength="26.86" lengthAdjust="spacingAndGlyphs" fill="#262626" stroke="#262626" stroke-width="0.07">Frequency</text>
<g clip-path="url(#a11)">
<path d="M197.6,220.5 L197.6,132.32 L205.04,132.32 L205.04,166.19 L212.48,166.19 L212.48,195.97 L219.92,195.97 L219.92,207.65 L227.36,207.65 L227.36,215.83 L234.8,215.83 L234.8,217 L242.24,217 L242.24,217.58 L249.68,217.58 L249.68,218.75 L257.12,218.75 L257.12,219.33 L264.56,219.33 L264.56,219.33 L272,219.33 L272,219.33 L279.44,219.33 L279.44,219.92 L286.88,219.92 L286.88,219.92 L294.32,219.92 L294.32,219.92 L301.76,219.92 L301.76,220.5 L309.2,220.5 L309.2,219.92 L316.64,219.92 L316.64,220.5 L324.08,220.5 L324.08,219.92 L331.52,219.92 L331.52,220.5 Z" fill="rgba(240,128,128,0.5)" stroke="none"/>
<path d="M197.6,220.5 L197.6,132.32 L205.04,132.32 L205.04,166.19 L212.48,166.19 L212.48,195.97 L219.92,195.97 L219.92,207.65 L227.36,207.65 L227.36,215.83 L234.8,215.83 L234.8,217 L242.24,217 L242.24,217.58 L249.68,217.58 L249.68,218.75 L257.12,218.75 L257.12,219.33 L264.56,219.33 L264.56,219.33 L272,219.33 L272,219.33 L279.44,219.33 L279.44,219.92 L286.88,219.92 L286.88,219.92 L294.32,219.92 L294.32,219.92 L301.76,219.92 L301.76,220.5 L309.2,220.5 L309.2,219.92 L316.64,219.92 L316.64,220.5 L324.08,220.5 L324.08,219.92 L331.52,219.92 L331.52,220.5 Z" fill="none" stroke="rgba(240,128,128,0.75)" stroke-width="0.6" stroke-linejoin="miter"/>
<path d="M197.59,220.5 L197.59,175.18 L199.34,175.18 L199.34,197.37 L201.68,197.37 L201.68,193.87 L204.6,193.87 L204.6,198.54 L206.93,198.54 L206.93,197.96 L209.27,197.96 L209.27,203.21 L211.61,203.21 L211.61,213.14 L213.36,213.14 L213.36,212.56 L215.11,212.56 L215.11,211.39 L217.45,211.39 L217.45,214.89 L220.36,214.89 L220.36,217.23 L223.87,217.23 L223.87,218.4 L227.37,218.4 L227.37,219.57 L230.88,219.57 L230.88,220.03 L246.06,220.03 L246.1,220.21 L278,220.21 L278,220.5 Z" fill="rgba(255,0,0,0.5)" stroke="none"/>
<path d="M197.59,220.5 L197.59,175.18 L199.34,175.18 L199.34,197.37 L201.68,197.37 L201.68,193.87 L204.6,193.87 L204.6,198.54 L206.93,198.54 L206.93,197.96 L209.27,197.96 L209.27,203.21 L211.61,203.21 L211.61,213.14 L213.36,213.14 L213.36,212.56 L215.11,212.56 L215.11,211.39 L217.45,211.39 L217.45,214.89 L220.36,214.89 L220.36,217.23 L223.87,217.23 L223.87,218.4 L227.37,218.4 L227.37,219.57 L230.88,219.57 L230.88,220.03 L246.06,220.03 L246.1,220.21 L278,220.21 L278,220.5 Z" fill="none" stroke="rgba(255,0,0,0.75)" stroke-width="0.6" stroke-linejoin="miter"/>
<path d="M197.6,174.06 L198.44,171.38 L199.28,169.1 L200.13,167.21 L200.97,165.69 L201.81,164.53 L202.65,163.7 L203.49,163.21 L204.34,163.03 L205.18,163.15 L206.02,163.55 L206.86,164.23 L207.71,165.15 L208.55,166.32 L209.39,167.71 L210.23,169.32 L211.07,171.12 L211.92,173.1 L212.76,175.25 L213.6,177.55 L214.44,179.96 L215.28,182.45 L216.13,184.99 L216.97,187.53 L217.81,190.04 L218.65,192.48 L219.5,194.81 L220.34,197 L221.18,199.03 L222.02,200.89 L222.86,202.6 L223.71,204.17 L224.55,205.61 L225.39,206.91 L226.23,208.1 L227.07,209.17 L227.92,210.14 L228.76,211.01 L229.6,211.79 L230.44,212.49 L231.29,213.12 L232.13,213.68 L232.97,214.19 L233.81,214.64 L234.65,215.06 L235.5,215.44 L236.34,215.79 L237.18,216.11 L238.02,216.41 L238.86,216.67 L239.71,216.92 L240.55,217.14 L241.39,217.33 L242.23,217.51 L243.08,217.66 L243.92,217.8 L244.76,217.91 L245.6,218.01 L246.44,218.1 L247.29,218.17 L248.13,218.23 L248.97,218.27 L249.81,218.3 L250.65,218.33 L251.5,218.34 L252.34,218.35 L253.18,218.35 L254.02,218.34 L254.87,218.33 L255.71,218.32 L256.55,218.31 L257.39,218.29 L258.23,218.28 L259.08,218.27 L259.92,218.26 L260.76,218.26 L261.6,218.25 L262.44,218.26 L263.29,218.26 L264.13,218.27 L264.97,218.29 L265.81,218.3 L266.66,218.32 L267.5,218.35 L268.34,218.37 L269.18,218.4 L270.02,218.43 L270.87,218.46 L271.71,218.49 L272.55,218.53 L273.39,218.56 L274.23,218.6 L275.08,218.64 L275.92,218.67 L276.76,218.71 L277.6,218.75 L278.45,218.79 L279.29,218.83 L280.13,218.87 L280.97,218.91 L281.81,218.95 L282.66,218.99 L283.5,219.02 L284.34,219.06 L285.18,219.09 L286.02,219.12 L286.87,219.16 L287.71,219.19 L288.55,219.21 L289.39,219.24 L290.24,219.27 L291.08,219.29 L291.92,219.31 L292.76,219.34 L293.6,219.36 L294.45,219.38 L295.29,219.4 L296.13,219.41 L296.97,219.43 L297.81,219.45 L298.66,219.46 L299.5,219.48 L300.34,219.49 L301.18,219.5 L302.03,219.52 L302.87,219.53 L303.71,219.54 L304.55,219.55 L305.39,219.56 L306.24,219.57 L307.08,219.58 L307.92,219.59 L308.76,219.6 L309.6,219.61 L310.45,219.62 L311.29,219.63 L312.13,219.64 L312.97,219.64 L313.82,219.65 L314.66,219.66 L315.5,219.67 L316.34,219.68 L317.18,219.69 L318.03,219.7 L318.87,219.71 L319.71,219.72 L320.55,219.73 L321.39,219.74 L322.24,219.75 L323.08,219.76 L323.92,219.77 L324.76,219.79 L325.61,219.8 L326.45,219.81 L327.29,219.83 L328.13,219.85 L328.97,219.86 L329.82,219.88 L330.66,219.9 L331.5,219.92" fill="none" stroke="rgb(240,128,128)" stroke-width="0.9" stroke-linejoin="round" stroke-linecap="butt"/>
<path d="M197.6,200.67 L198.11,199.37 L198.61,198.24 L199.12,197.26 L199.62,196.44 L200.13,195.76 L200.63,195.22 L201.14,194.81 L201.65,194.52 L202.15,194.36 L202.66,194.3 L203.16,194.35 L203.67,194.49 L204.17,194.73 L204.68,195.06 L205.18,195.46 L205.69,195.93 L206.2,196.47 L206.7,197.07 L207.21,197.72 L207.71,198.41 L208.22,199.14 L208.72,199.91 L209.23,200.7 L209.74,201.51 L210.24,202.33 L210.75,203.15 L211.25,203.98 L211.76,204.8 L212.26,205.6 L212.77,206.38 L213.28,207.14 L213.78,207.87 L214.29,208.57 L214.79,209.25 L215.3,209.9 L215.8,210.52 L216.31,211.12 L216.82,211.69 L217.32,212.24 L217.83,212.77 L218.33,213.28 L218.84,213.76 L219.34,214.22 L219.85,214.65 L220.35,215.07 L220.86,215.47 L221.37,215.84 L221.87,216.2 L222.38,216.54 L222.88,216.86 L223.39,217.16 L223.89,217.44 L224.4,217.7 L224.91,217.95 L225.41,218.19 L225.92,218.4 L226.42,218.6 L226.93,218.79 L227.43,218.96 L227.94,219.12 L228.45,219.27 L228.95,219.4 L229.46,219.52 L229.96,219.63 L230.47,219.72 L230.97,219.81 L231.48,219.88 L231.98,219.95 L232.49,220 L233,220.05 L233.5,220.08 L234.01,220.11 L234.51,220.13 L235.02,220.14 L235.52,220.14 L236.03,220.13 L236.54,220.12 L237.04,220.11 L237.55,220.09 L238.05,220.06 L238.56,220.03 L239.06,219.99 L239.57,219.95 L240.08,219.9 L240.58,219.86 L241.09,219.8 L241.59,219.75 L242.1,219.7 L242.6,219.64 L243.11,219.58 L243.62,219.53 L244.12,219.47 L244.63,219.41 L245.13,219.35 L245.64,219.3 L246.14,219.24 L246.65,219.19 L247.15,219.14 L247.66,219.09 L248.17,219.05 L248.67,219.01 L249.18,218.97 L249.68,218.94 L250.19,218.91 L250.69,218.89 L251.2,218.88 L251.71,218.87 L252.21,218.86 L252.72,218.87 L253.22,218.88 L253.73,218.9 L254.23,218.93 L254.74,218.96 L255.25,219.01 L255.75,219.06 L256.26,219.13 L256.76,219.2 L257.27,219.29 L257.77,219.39 L258.28,219.5 L258.78,219.62 L259.29,219.75 L259.8,219.9 L260.3,220.06 L260.81,220.23 L261.31,220.38 L261.82,220.38 L262.32,220.38 L262.83,220.38 L263.34,220.38 L263.84,220.38 L264.35,220.38 L264.85,220.38 L265.36,220.38 L265.86,220.38 L266.37,220.38 L266.88,220.38 L267.38,220.38 L267.89,220.38 L268.39,220.38 L268.9,220.38 L269.4,220.38 L269.91,220.38 L270.42,220.38 L270.92,220.38 L271.43,220.38 L271.93,220.38 L272.44,220.38 L272.94,220.38 L273.45,220.38 L273.95,220.38 L274.46,220.38 L274.97,220.38 L275.47,220.38 L275.98,220.38 L276.48,220.38 L276.99,220.38 L277.49,220.38 L278,220.22" fill="none" stroke="rgb(255,0,0)" stroke-width="0.9" stroke-linejoin="round" stroke-linecap="butt"/>
</g>
<clipPath id="a11"><rect x="191.4" y="128.1" width="146.6" height="92.4"/></clipPath>
<rect x="204.6" y="135.1" width="48.8" height="14.6" rx="1" fill="rgba(255,255,255,0.55)" stroke="#999" stroke-width="0.62"/>
<text x="206.3" y="141.6" font-family="Liberation Sans" font-size="5.46" text-anchor="start" textLength="45.54" lengthAdjust="spacingAndGlyphs" fill="#202020" stroke="#202020" stroke-width="0.07">t-statistic: 4.7949</text>
<text x="206.3" y="147.5" font-family="Liberation Sans" font-size="5.46" text-anchor="start" textLength="40.45" lengthAdjust="spacingAndGlyphs" fill="#202020" stroke="#202020" stroke-width="0.07">p-value: 0.0000</text>
<rect x="301.1" y="131.2" width="34.1" height="17.1" rx="0.8" fill="rgba(255,255,255,0.8)" stroke="#dcdcdc" stroke-width="0.5"/>
<rect x="302.8" y="132.9" width="11.6" height="4.4" fill="rgba(240,128,128,0.5)" stroke="rgba(240,128,128,0.5)" stroke-width="0.5"/>
<text x="317.7" y="136.9" font-family="Liberation Sans" font-size="5.51" text-anchor="start" textLength="10.9" lengthAdjust="spacingAndGlyphs" fill="#202020" stroke="#202020" stroke-width="0.07">RAG</text>
<rect x="302.8" y="140.7" width="11.6" height="4.3" fill="rgba(255,0,0,0.5)" stroke="rgba(255,0,0,0.5)" stroke-width="0.5"/>
<text x="317.7" y="144.6" font-family="Liberation Sans" font-size="5.51" text-anchor="start" textLength="15.57" lengthAdjust="spacingAndGlyphs" fill="#202020" stroke="#202020" stroke-width="0.07">Direct</text>
<rect x="191.4" y="128.1" width="146.6" height="92.4" fill="none" stroke="#3a3a3a" stroke-width="0.65"/>
<line x1="197.6" y1="220.5" x2="197.6" y2="222.4" stroke="#3a3a3a" stroke-width="0.5"/>
<text x="197.6" y="228.4" font-family="Liberation Sans" font-size="5.51" text-anchor="middle" textLength="8.27" lengthAdjust="spacingAndGlyphs" fill="#262626" stroke="#262626" stroke-width="0.07">0.0</text>
<line x1="226.95" y1="220.5" x2="226.95" y2="222.4" stroke="#3a3a3a" stroke-width="0.5"/>
<text x="226.95" y="228.4" font-family="Liberation Sans" font-size="5.51" text-anchor="middle" textLength="8.27" lengthAdjust="spacingAndGlyphs" fill="#262626" stroke="#262626" stroke-width="0.07">0.1</text>
<line x1="256.3" y1="220.5" x2="256.3" y2="222.4" stroke="#3a3a3a" stroke-width="0.5"/>
<text x="256.3" y="228.4" font-family="Liberation Sans" font-size="5.51" text-anchor="middle" textLength="8.27" lengthAdjust="spacingAndGlyphs" fill="#262626" stroke="#262626" stroke-width="0.07">0.2</text>
<line x1="285.65" y1="220.5" x2="285.65" y2="222.4" stroke="#3a3a3a" stroke-width="0.5"/>
<text x="285.65" y="228.4" font-family="Liberation Sans" font-size="5.51" text-anchor="middle" textLength="8.27" lengthAdjust="spacingAndGlyphs" fill="#262626" stroke="#262626" stroke-width="0.07">0.3</text>
<line x1="315" y1="220.5" x2="315" y2="222.4" stroke="#3a3a3a" stroke-width="0.5"/>
<text x="315" y="228.4" font-family="Liberation Sans" font-size="5.51" text-anchor="middle" textLength="8.27" lengthAdjust="spacingAndGlyphs" fill="#262626" stroke="#262626" stroke-width="0.07">0.4</text>
<line x1="189.5" y1="220.5" x2="191.4" y2="220.5" stroke="#3a3a3a" stroke-width="0.5"/>
<text x="187.6" y="222.37" font-family="Liberation Sans" font-size="5.51" text-anchor="end" textLength="3.31" lengthAdjust="spacingAndGlyphs" fill="#262626" stroke="#262626" stroke-width="0.07">0</text>
<line x1="189.5" y1="208.82" x2="191.4" y2="208.82" stroke="#3a3a3a" stroke-width="0.5"/>
<text x="187.6" y="210.69" font-family="Liberation Sans" font-size="5.51" text-anchor="end" textLength="6.62" lengthAdjust="spacingAndGlyphs" fill="#262626" stroke="#262626" stroke-width="0.07">20</text>
<line x1="189.5" y1="197.14" x2="191.4" y2="197.14" stroke="#3a3a3a" stroke-width="0.5"/>
<text x="187.6" y="199.01" font-family="Liberation Sans" font-size="5.51" text-anchor="end" textLength="6.62" lengthAdjust="spacingAndGlyphs" fill="#262626" stroke="#262626" stroke-width="0.07">40</text>
<line x1="189.5" y1="185.46" x2="191.4" y2="185.46" stroke="#3a3a3a" stroke-width="0.5"/>
<text x="187.6" y="187.33" font-family="Liberation Sans" font-size="5.51" text-anchor="end" textLength="6.62" lengthAdjust="spacingAndGlyphs" fill="#262626" stroke="#262626" stroke-width="0.07">60</text>
<line x1="189.5" y1="173.78" x2="191.4" y2="173.78" stroke="#3a3a3a" stroke-width="0.5"/>
<text x="187.6" y="175.65" font-family="Liberation Sans" font-size="5.51" text-anchor="end" textLength="6.62" lengthAdjust="spacingAndGlyphs" fill="#262626" stroke="#262626" stroke-width="0.07">80</text>
<line x1="189.5" y1="162.1" x2="191.4" y2="162.1" stroke="#3a3a3a" stroke-width="0.5"/>
<text x="187.6" y="163.97" font-family="Liberation Sans" font-size="5.51" text-anchor="end" textLength="9.93" lengthAdjust="spacingAndGlyphs" fill="#262626" stroke="#262626" stroke-width="0.07">100</text>
<line x1="189.5" y1="150.42" x2="191.4" y2="150.42" stroke="#3a3a3a" stroke-width="0.5"/>
<text x="187.6" y="152.29" font-family="Liberation Sans" font-size="5.51" text-anchor="end" textLength="9.93" lengthAdjust="spacingAndGlyphs" fill="#262626" stroke="#262626" stroke-width="0.07">120</text>
<line x1="189.5" y1="138.74" x2="191.4" y2="138.74" stroke="#3a3a3a" stroke-width="0.5"/>
<text x="187.6" y="140.61" font-family="Liberation Sans" font-size="5.51" text-anchor="end" textLength="9.93" lengthAdjust="spacingAndGlyphs" fill="#262626" stroke="#262626" stroke-width="0.07">140</text>
<text x="264.7" y="124.8" font-family="Liberation Sans" font-size="6.62" text-anchor="middle" textLength="71.52" lengthAdjust="spacingAndGlyphs" fill="#262626" stroke="#262626" stroke-width="0.05">Rouge-2-p Comparison</text>
<text x="264.7" y="235.7" font-family="Liberation Sans" font-size="5.51" text-anchor="middle" textLength="17.27" lengthAdjust="spacingAndGlyphs" fill="#262626" stroke="#262626" stroke-width="0.07">Scores</text>
<text transform="translate(174.5,174.3) rotate(-90)" x="0" y="0" font-family="Liberation Sans" font-size="5.51" text-anchor="middle" textLength="26.86" lengthAdjust="spacingAndGlyphs" fill="#262626" stroke="#262626" stroke-width="0.07">Frequency</text>
<g clip-path="url(#a12)">
<path d="M371.1,220.5 L371.1,206.27 L378.43,206.27 L378.43,167.77 L385.76,167.77 L385.76,132.62 L393.09,132.62 L393.09,166.93 L400.42,166.93 L400.42,191.21 L407.75,191.21 L407.75,200.41 L415.08,200.41 L415.08,208.78 L422.41,208.78 L422.41,213.8 L429.74,213.8 L429.74,216.31 L437.07,216.31 L437.07,216.31 L444.4,216.31 L444.4,217.99 L451.73,217.99 L451.73,219.66 L459.06,219.66 L459.06,219.66 L466.39,219.66 L466.39,217.99 L473.72,217.99 L473.72,219.66 L481.05,219.66 L481.05,219.66 L488.38,219.66 L488.38,220.5 L495.71,220.5 L495.71,219.66 L503.04,219.66 L503.04,220.5 Z" fill="rgba(240,128,128,0.5)" stroke="none"/>
<path d="M371.1,220.5 L371.1,206.27 L378.43,206.27 L378.43,167.77 L385.76,167.77 L385.76,132.62 L393.09,132.62 L393.09,166.93 L400.42,166.93 L400.42,191.21 L407.75,191.21 L407.75,200.41 L415.08,200.41 L415.08,208.78 L422.41,208.78 L422.41,213.8 L429.74,213.8 L429.74,216.31 L437.07,216.31 L437.07,216.31 L444.4,216.31 L444.4,217.99 L451.73,217.99 L451.73,219.66 L459.06,219.66 L459.06,219.66 L466.39,219.66 L466.39,217.99 L473.72,217.99 L473.72,219.66 L481.05,219.66 L481.05,219.66 L488.38,219.66 L488.38,220.5 L495.71,220.5 L495.71,219.66 L503.04,219.66 L503.04,220.5 Z" fill="none" stroke="rgba(240,128,128,0.75)" stroke-width="0.6" stroke-linejoin="miter"/>
<path d="M369.34,220.5 L369.34,217.58 L375.18,217.58 L375.18,209.99 L379.27,209.99 L379.27,202.41 L383.36,202.41 L383.36,188.98 L386.28,188.98 L386.28,201.24 L388.03,201.24 L388.03,186.65 L390.6,186.65 L390.6,190.15 L392.7,190.15 L392.7,195.4 L395.04,195.4 L395.04,195.99 L397.37,195.99 L397.37,205.91 L400.29,205.91 L400.29,207.66 L403.21,207.66 L403.21,213.5 L406.13,213.5 L406.13,218.75 L407.88,218.75 L407.88,214.66 L411.39,214.66 L411.39,218.17 L414.31,218.17 L414.31,218.75 L417.81,218.75 L417.81,219.92 L425.4,219.92 L425.4,220.5 Z" fill="rgba(255,0,0,0.5)" stroke="none"/>
<path d="M369.34,220.5 L369.34,217.58 L375.18,217.58 L375.18,209.99 L379.27,209.99 L379.27,202.41 L383.36,202.41 L383.36,188.98 L386.28,188.98 L386.28,201.24 L388.03,201.24 L388.03,186.65 L390.6,186.65 L390.6,190.15 L392.7,190.15 L392.7,195.4 L395.04,195.4 L395.04,195.99 L397.37,195.99 L397.37,205.91 L400.29,205.91 L400.29,207.66 L403.21,207.66 L403.21,213.5 L406.13,213.5 L406.13,218.75 L407.88,218.75 L407.88,214.66 L411.39,214.66 L411.39,218.17 L414.31,218.17 L414.31,218.75 L417.81,218.75 L417.81,219.92 L425.4,219.92 L425.4,220.5 Z" fill="none" stroke="rgba(255,0,0,0.75)" stroke-width="0.6" stroke-linejoin="miter"/>
<path d="M371.1,210.67 L372.21,208 L373.32,204.92 L374.43,201.4 L375.53,197.48 L376.64,193.18 L377.75,188.57 L378.86,183.72 L379.97,178.72 L381.08,173.7 L382.19,168.77 L383.3,164.08 L384.4,159.78 L385.51,156.03 L386.62,152.99 L387.73,150.81 L388.84,149.6 L389.95,149.41 L391.06,150.21 L392.17,151.93 L393.27,154.42 L394.38,157.49 L395.49,160.98 L396.6,164.69 L397.71,168.48 L398.82,172.23 L399.93,175.85 L401.04,179.27 L402.14,182.46 L403.25,185.39 L404.36,188.05 L405.47,190.46 L406.58,192.62 L407.69,194.56 L408.8,196.33 L409.91,197.95 L411.01,199.45 L412.12,200.85 L413.23,202.19 L414.34,203.46 L415.45,204.67 L416.56,205.83 L417.67,206.92 L418.78,207.95 L419.88,208.92 L420.99,209.82 L422.1,210.65 L423.21,211.42 L424.32,212.13 L425.43,212.77 L426.54,213.35 L427.65,213.87 L428.75,214.34 L429.86,214.74 L430.97,215.1 L432.08,215.4 L433.19,215.65 L434.3,215.86 L435.41,216.04 L436.52,216.18 L437.62,216.32 L438.73,216.44 L439.84,216.57 L440.95,216.72 L442.06,216.87 L443.17,217.05 L444.28,217.24 L445.39,217.45 L446.49,217.67 L447.6,217.89 L448.71,218.12 L449.82,218.35 L450.93,218.56 L452.04,218.76 L453.15,218.94 L454.26,219.1 L455.36,219.23 L456.47,219.33 L457.58,219.4 L458.69,219.43 L459.8,219.43 L460.91,219.39 L462.02,219.33 L463.13,219.25 L464.23,219.14 L465.34,219.04 L466.45,218.93 L467.56,218.85 L468.67,218.79 L469.78,218.76 L470.89,218.77 L472,218.81 L473.1,218.89 L474.21,218.99 L475.32,219.1 L476.43,219.22 L477.54,219.33 L478.65,219.43 L479.76,219.52 L480.87,219.59 L481.97,219.66 L483.08,219.73 L484.19,219.79 L485.3,219.86 L486.41,219.92 L487.52,219.98 L488.63,220.03 L489.74,220.08 L490.84,220.11 L491.95,220.13 L493.06,220.13 L494.17,220.11 L495.28,220.09 L496.39,220.07 L497.5,220.05 L498.61,220.04 L499.71,220.04 L500.82,220.06 L501.93,220.09 L503.04,220.14" fill="none" stroke="rgb(240,128,128)" stroke-width="0.9" stroke-linejoin="round" stroke-linecap="butt"/>
<path d="M369.34,218.87 L369.81,218.61 L370.29,218.32 L370.76,218 L371.23,217.66 L371.7,217.29 L372.17,216.88 L372.64,216.43 L373.11,215.93 L373.58,215.39 L374.05,214.81 L374.52,214.18 L375,213.5 L375.47,212.78 L375.94,212.02 L376.41,211.23 L376.88,210.41 L377.35,209.55 L377.82,208.67 L378.29,207.77 L378.76,206.84 L379.24,205.89 L379.71,204.91 L380.18,203.93 L380.65,202.93 L381.12,201.93 L381.59,200.93 L382.06,199.96 L382.53,199.02 L383,198.12 L383.48,197.27 L383.95,196.49 L384.42,195.78 L384.89,195.14 L385.36,194.56 L385.83,194.04 L386.3,193.58 L386.77,193.17 L387.24,192.8 L387.72,192.47 L388.19,192.19 L388.66,191.95 L389.13,191.78 L389.6,191.68 L390.07,191.66 L390.54,191.73 L391.01,191.89 L391.48,192.15 L391.95,192.5 L392.43,192.95 L392.9,193.47 L393.37,194.06 L393.84,194.72 L394.31,195.44 L394.78,196.2 L395.25,197 L395.72,197.84 L396.19,198.71 L396.67,199.59 L397.14,200.48 L397.61,201.37 L398.08,202.26 L398.55,203.14 L399.02,204 L399.49,204.83 L399.96,205.64 L400.43,206.43 L400.91,207.2 L401.38,207.95 L401.85,208.68 L402.32,209.39 L402.79,210.09 L403.26,210.77 L403.73,211.42 L404.2,212.05 L404.67,212.64 L405.15,213.18 L405.62,213.68 L406.09,214.13 L406.56,214.52 L407.03,214.86 L407.5,215.15 L407.97,215.4 L408.44,215.62 L408.91,215.82 L409.38,216 L409.86,216.18 L410.33,216.36 L410.8,216.54 L411.27,216.74 L411.74,216.94 L412.21,217.15 L412.68,217.37 L413.15,217.58 L413.62,217.79 L414.1,217.99 L414.57,218.19 L415.04,218.37 L415.51,218.54 L415.98,218.7 L416.45,218.85 L416.92,218.99 L417.39,219.12 L417.86,219.24 L418.34,219.34 L418.81,219.44 L419.28,219.53 L419.75,219.61 L420.22,219.69 L420.69,219.75 L421.16,219.81 L421.63,219.86 L422.1,219.91 L422.57,219.95 L423.05,220 L423.52,220.04 L423.99,220.08 L424.46,220.12 L424.93,220.16 L425.4,220.2" fill="none" stroke="rgb(255,0,0)" stroke-width="0.9" stroke-linejoin="round" stroke-linecap="butt"/>
</g>
<clipPath id="a12"><rect x="362.7" y="128.1" width="146.7" height="92.4"/></clipPath>
<rect x="375.9" y="135.1" width="48.8" height="14.6" rx="1" fill="rgba(255,255,255,0.55)" stroke="#999" stroke-width="0.62"/>
<text x="377.6" y="141.6" font-family="Liberation Sans" font-size="5.46" text-anchor="start" textLength="45.54" lengthAdjust="spacingAndGlyphs" fill="#202020" stroke="#202020" stroke-width="0.07">t-statistic: 5.5586</text>
<text x="377.6" y="147.5" font-family="Liberation Sans" font-size="5.46" text-anchor="start" textLength="40.45" lengthAdjust="spacingAndGlyphs" fill="#202020" stroke="#202020" stroke-width="0.07">p-value: 0.0000</text>
<rect x="472.5" y="131.2" width="34.1" height="17.1" rx="0.8" fill="rgba(255,255,255,0.8)" stroke="#dcdcdc" stroke-width="0.5"/>
<rect x="474.2" y="132.9" width="11.6" height="4.4" fill="rgba(240,128,128,0.5)" stroke="rgba(240,128,128,0.5)" stroke-width="0.5"/>
<text x="489.1" y="136.9" font-family="Liberation Sans" font-size="5.51" text-anchor="start" textLength="10.9" lengthAdjust="spacingAndGlyphs" fill="#202020" stroke="#202020" stroke-width="0.07">RAG</text>
<rect x="474.2" y="140.7" width="11.6" height="4.3" fill="rgba(255,0,0,0.5)" stroke="rgba(255,0,0,0.5)" stroke-width="0.5"/>
<text x="489.1" y="144.6" font-family="Liberation Sans" font-size="5.51" text-anchor="start" textLength="15.57" lengthAdjust="spacingAndGlyphs" fill="#202020" stroke="#202020" stroke-width="0.07">Direct</text>
<rect x="362.7" y="128.1" width="146.7" height="92.4" fill="none" stroke="#3a3a3a" stroke-width="0.65"/>
<line x1="363.3" y1="220.5" x2="363.3" y2="222.4" stroke="#3a3a3a" stroke-width="0.5"/>
<text x="363.3" y="228.4" font-family="Liberation Sans" font-size="5.51" text-anchor="middle" textLength="8.27" lengthAdjust="spacingAndGlyphs" fill="#262626" stroke="#262626" stroke-width="0.07">0.0</text>
<line x1="382.54" y1="220.5" x2="382.54" y2="222.4" stroke="#3a3a3a" stroke-width="0.5"/>
<text x="382.54" y="228.4" font-family="Liberation Sans" font-size="5.51" text-anchor="middle" textLength="8.27" lengthAdjust="spacingAndGlyphs" fill="#262626" stroke="#262626" stroke-width="0.07">0.1</text>
<line x1="401.78" y1="220.5" x2="401.78" y2="222.4" stroke="#3a3a3a" stroke-width="0.5"/>
<text x="401.78" y="228.4" font-family="Liberation Sans" font-size="5.51" text-anchor="middle" textLength="8.27" lengthAdjust="spacingAndGlyphs" fill="#262626" stroke="#262626" stroke-width="0.07">0.2</text>
<line x1="421.02" y1="220.5" x2="421.02" y2="222.4" stroke="#3a3a3a" stroke-width="0.5"/>
<text x="421.02" y="228.4" font-family="Liberation Sans" font-size="5.51" text-anchor="middle" textLength="8.27" lengthAdjust="spacingAndGlyphs" fill="#262626" stroke="#262626" stroke-width="0.07">0.3</text>
<line x1="440.26" y1="220.5" x2="440.26" y2="222.4" stroke="#3a3a3a" stroke-width="0.5"/>
<text x="440.26" y="228.4" font-family="Liberation Sans" font-size="5.51" text-anchor="middle" textLength="8.27" lengthAdjust="spacingAndGlyphs" fill="#262626" stroke="#262626" stroke-width="0.07">0.4</text>
<line x1="459.5" y1="220.5" x2="459.5" y2="222.4" stroke="#3a3a3a" stroke-width="0.5"/>
<text x="459.5" y="228.4" font-family="Liberation Sans" font-size="5.51" text-anchor="middle" textLength="8.27" lengthAdjust="spacingAndGlyphs" fill="#262626" stroke="#262626" stroke-width="0.07">0.5</text>
<line x1="478.74" y1="220.5" x2="478.74" y2="222.4" stroke="#3a3a3a" stroke-width="0.5"/>
<text x="478.74" y="228.4" font-family="Liberation Sans" font-size="5.51" text-anchor="middle" textLength="8.27" lengthAdjust="spacingAndGlyphs" fill="#262626" stroke="#262626" stroke-width="0.07">0.6</text>
<line x1="497.98" y1="220.5" x2="497.98" y2="222.4" stroke="#3a3a3a" stroke-width="0.5"/>
<text x="497.98" y="228.4" font-family="Liberation Sans" font-size="5.51" text-anchor="middle" textLength="8.27" lengthAdjust="spacingAndGlyphs" fill="#262626" stroke="#262626" stroke-width="0.07">0.7</text>
<line x1="360.8" y1="220.5" x2="362.7" y2="220.5" stroke="#3a3a3a" stroke-width="0.5"/>
<text x="358.9" y="222.37" font-family="Liberation Sans" font-size="5.51" text-anchor="end" textLength="3.31" lengthAdjust="spacingAndGlyphs" fill="#262626" stroke="#262626" stroke-width="0.07">0</text>
<line x1="360.8" y1="203.76" x2="362.7" y2="203.76" stroke="#3a3a3a" stroke-width="0.5"/>
<text x="358.9" y="205.63" font-family="Liberation Sans" font-size="5.51" text-anchor="end" textLength="6.62" lengthAdjust="spacingAndGlyphs" fill="#262626" stroke="#262626" stroke-width="0.07">20</text>
<line x1="360.8" y1="187.02" x2="362.7" y2="187.02" stroke="#3a3a3a" stroke-width="0.5"/>
<text x="358.9" y="188.89" font-family="Liberation Sans" font-size="5.51" text-anchor="end" textLength="6.62" lengthAdjust="spacingAndGlyphs" fill="#262626" stroke="#262626" stroke-width="0.07">40</text>
<line x1="360.8" y1="170.28" x2="362.7" y2="170.28" stroke="#3a3a3a" stroke-width="0.5"/>
<text x="358.9" y="172.15" font-family="Liberation Sans" font-size="5.51" text-anchor="end" textLength="6.62" lengthAdjust="spacingAndGlyphs" fill="#262626" stroke="#262626" stroke-width="0.07">60</text>
<line x1="360.8" y1="153.54" x2="362.7" y2="153.54" stroke="#3a3a3a" stroke-width="0.5"/>
<text x="358.9" y="155.41" font-family="Liberation Sans" font-size="5.51" text-anchor="end" textLength="6.62" lengthAdjust="spacingAndGlyphs" fill="#262626" stroke="#262626" stroke-width="0.07">80</text>
<line x1="360.8" y1="136.8" x2="362.7" y2="136.8" stroke="#3a3a3a" stroke-width="0.5"/>
<text x="358.9" y="138.67" font-family="Liberation Sans" font-size="5.51" text-anchor="end" textLength="9.93" lengthAdjust="spacingAndGlyphs" fill="#262626" stroke="#262626" stroke-width="0.07">100</text>
<text x="436.05" y="124.8" font-family="Liberation Sans" font-size="6.62" text-anchor="middle" textLength="70.92" lengthAdjust="spacingAndGlyphs" fill="#262626" stroke="#262626" stroke-width="0.05">Rouge-L-p Comparison</text>
<text x="436.05" y="235.7" font-family="Liberation Sans" font-size="5.51" text-anchor="middle" textLength="17.27" lengthAdjust="spacingAndGlyphs" fill="#262626" stroke="#262626" stroke-width="0.07">Scores</text>
<text transform="translate(345.8,174.3) rotate(-90)" x="0" y="0" font-family="Liberation Sans" font-size="5.51" text-anchor="middle" textLength="26.86" lengthAdjust="spacingAndGlyphs" fill="#262626" stroke="#262626" stroke-width="0.07">Frequency</text>
<g clip-path="url(#a13)">
<path d="M541.11,220.5 L541.11,212.56 L544.85,212.56 L544.85,199.13 L548.93,199.13 L548.93,196.21 L553.61,196.21 L553.61,157.9 L557.69,157.9 L557.69,150.89 L562.13,150.89 L562.13,132.21 L567.62,132.21 L567.62,162.34 L569.96,162.34 L569.96,167.01 L572.88,167.01 L572.88,183.36 L576.38,183.36 L576.38,193.29 L579.88,193.29 L579.88,202.05 L583.39,202.05 L583.39,207.89 L588.06,207.89 L588.06,209.64 L592.73,209.64 L592.73,210.81 L597.4,210.81 L597.4,213.73 L602.07,213.73 L602.07,214.3 L602.48,214.3 L602.48,216.65 L606.74,216.65 L606.74,217.4 L613.65,217.4 L613.65,218.02 L623.58,218.02 L623.58,219.26 L639.71,219.26 L639.71,215.29 L645.29,215.29 L645.29,219.88 L660.8,219.88 L660.8,219.51 L667.01,219.51 L667.01,219.51 L675.07,219.51 L675.07,220.5 Z" fill="rgba(255,0,0,0.5)" stroke="none"/>
<path d="M541.11,220.5 L541.11,212.56 L544.85,212.56 L544.85,199.13 L548.93,199.13 L548.93,196.21 L553.61,196.21 L553.61,157.9 L557.69,157.9 L557.69,150.89 L562.13,150.89 L562.13,132.21 L567.62,132.21 L567.62,162.34 L569.96,162.34 L569.96,167.01 L572.88,167.01 L572.88,183.36 L576.38,183.36 L576.38,193.29 L579.88,193.29 L579.88,202.05 L583.39,202.05 L583.39,207.89 L588.06,207.89 L588.06,209.64 L592.73,209.64 L592.73,210.81 L597.4,210.81 L597.4,213.73 L602.07,213.73 L602.07,214.3 L602.48,214.3 L602.48,216.65 L606.74,216.65 L606.74,217.4 L613.65,217.4 L613.65,218.02 L623.58,218.02 L623.58,219.26 L639.71,219.26 L639.71,215.29 L645.29,215.29 L645.29,219.88 L660.8,219.88 L660.8,219.51 L667.01,219.51 L667.01,219.51 L675.07,219.51 L675.07,220.5 Z" fill="none" stroke="rgba(255,0,0,0.75)" stroke-width="0.6" stroke-linejoin="miter"/>
<path d="M541.11,220.5 L541.11,213.73 L544.26,213.73 L544.26,199.13 L547.18,199.13 L547.18,200.88 L550.69,200.88 L550.69,178.69 L555.36,178.69 L555.36,161.17 L558.28,161.17 L558.28,149.49 L560.61,149.49 L560.61,143.07 L562.95,143.07 L562.95,149.49 L567.04,149.49 L567.04,162.34 L570.54,162.34 L570.54,181.02 L574.63,181.02 L574.63,200.88 L578.13,200.88 L578.13,213.73 L582.22,213.73 L582.22,216.65 L586.89,216.65 L586.89,218.4 L593.9,218.4 L593.9,219.57 L602.07,219.57 L602.07,219.51 L622.34,219.51 L622.34,220.5 Z" fill="rgba(0,0,255,0.5)" stroke="none"/>
<path d="M541.11,220.5 L541.11,213.73 L544.26,213.73 L544.26,199.13 L547.18,199.13 L547.18,200.88 L550.69,200.88 L550.69,178.69 L555.36,178.69 L555.36,161.17 L558.28,161.17 L558.28,149.49 L560.61,149.49 L560.61,143.07 L562.95,143.07 L562.95,149.49 L567.04,149.49 L567.04,162.34 L570.54,162.34 L570.54,181.02 L574.63,181.02 L574.63,200.88 L578.13,200.88 L578.13,213.73 L582.22,213.73 L582.22,216.65 L586.89,216.65 L586.89,218.4 L593.9,218.4 L593.9,219.57 L602.07,219.57 L602.07,219.51 L622.34,219.51 L622.34,220.5 Z" fill="none" stroke="rgba(0,0,255,0.75)" stroke-width="0.6" stroke-linejoin="miter"/>
<path d="M541.11,211.68 L542.24,209.69 L543.36,207.44 L544.49,204.93 L545.61,202.15 L546.74,199.11 L547.86,195.81 L548.99,192.27 L550.12,188.51 L551.24,184.57 L552.37,180.5 L553.49,176.39 L554.62,172.31 L555.74,168.35 L556.87,164.64 L558,161.28 L559.12,158.37 L560.25,156 L561.37,154.27 L562.5,153.24 L563.62,152.93 L564.75,153.36 L565.88,154.5 L567,156.3 L568.13,158.69 L569.25,161.57 L570.38,164.83 L571.5,168.35 L572.63,172.02 L573.76,175.73 L574.88,179.41 L576.01,182.96 L577.13,186.34 L578.26,189.51 L579.38,192.43 L580.51,195.09 L581.64,197.49 L582.76,199.64 L583.89,201.53 L585.01,203.19 L586.14,204.64 L587.26,205.89 L588.39,206.98 L589.52,207.92 L590.64,208.75 L591.77,209.49 L592.89,210.15 L594.02,210.77 L595.14,211.35 L596.27,211.91 L597.4,212.46 L598.52,212.98 L599.65,213.5 L600.77,214 L601.9,214.48 L603.02,214.93 L604.15,215.35 L605.28,215.74 L606.4,216.09 L607.53,216.41 L608.65,216.69 L609.78,216.93 L610.9,217.15 L612.03,217.33 L613.16,217.5 L614.28,217.64 L615.41,217.78 L616.53,217.9 L617.66,218.02 L618.78,218.13 L619.91,218.24 L621.04,218.35 L622.16,218.46 L623.29,218.56 L624.41,218.65 L625.54,218.73 L626.66,218.8 L627.79,218.85 L628.92,218.87 L630.04,218.87 L631.17,218.84 L632.29,218.78 L633.42,218.7 L634.55,218.6 L635.67,218.48 L636.8,218.36 L637.92,218.25 L639.05,218.16 L640.17,218.09 L641.3,218.06 L642.43,218.08 L643.55,218.14 L644.68,218.24 L645.8,218.38 L646.93,218.54 L648.05,218.72 L649.18,218.9 L650.31,219.08 L651.43,219.23 L652.56,219.37 L653.68,219.48 L654.81,219.56 L655.93,219.62 L657.06,219.66 L658.19,219.68 L659.31,219.68 L660.44,219.68 L661.56,219.67 L662.69,219.66 L663.81,219.65 L664.94,219.65 L666.07,219.65 L667.19,219.66 L668.32,219.69 L669.44,219.72 L670.57,219.76 L671.69,219.81 L672.82,219.87 L673.95,219.94 L675.07,220.01" fill="none" stroke="rgb(255,0,0)" stroke-width="0.9" stroke-linejoin="round" stroke-linecap="butt"/>
<path d="M541.11,214.61 L541.79,213.22 L542.47,211.7 L543.16,210.08 L543.84,208.39 L544.52,206.66 L545.2,204.9 L545.89,203.12 L546.57,201.3 L547.25,199.44 L547.94,197.49 L548.62,195.44 L549.3,193.25 L549.98,190.92 L550.67,188.46 L551.35,185.86 L552.03,183.15 L552.71,180.36 L553.4,177.5 L554.08,174.61 L554.76,171.71 L555.44,168.83 L556.13,166 L556.81,163.27 L557.49,160.68 L558.17,158.29 L558.86,156.14 L559.54,154.29 L560.22,152.78 L560.9,151.63 L561.59,150.89 L562.27,150.55 L562.95,150.61 L563.63,151.06 L564.32,151.89 L565,153.07 L565.68,154.57 L566.36,156.37 L567.05,158.44 L567.73,160.74 L568.41,163.25 L569.09,165.94 L569.78,168.77 L570.46,171.71 L571.14,174.75 L571.83,177.85 L572.51,180.98 L573.19,184.13 L573.87,187.26 L574.56,190.34 L575.24,193.35 L575.92,196.25 L576.6,199 L577.29,201.58 L577.97,203.97 L578.65,206.12 L579.33,208.05 L580.02,209.73 L580.7,211.19 L581.38,212.43 L582.06,213.47 L582.75,214.34 L583.43,215.06 L584.11,215.66 L584.79,216.15 L585.48,216.57 L586.16,216.93 L586.84,217.23 L587.52,217.49 L588.21,217.72 L588.89,217.92 L589.57,218.1 L590.25,218.26 L590.94,218.41 L591.62,218.54 L592.3,218.67 L592.98,218.79 L593.67,218.91 L594.35,219.02 L595.03,219.12 L595.72,219.21 L596.4,219.29 L597.08,219.36 L597.76,219.42 L598.45,219.46 L599.13,219.49 L599.81,219.51 L600.49,219.52 L601.18,219.53 L601.86,219.53 L602.54,219.53 L603.22,219.53 L603.91,219.52 L604.59,219.52 L605.27,219.52 L605.95,219.51 L606.64,219.51 L607.32,219.51 L608,219.51 L608.68,219.51 L609.37,219.51 L610.05,219.51 L610.73,219.51 L611.41,219.51 L612.1,219.51 L612.78,219.51 L613.46,219.51 L614.14,219.51 L614.83,219.52 L615.51,219.53 L616.19,219.54 L616.87,219.56 L617.56,219.58 L618.24,219.62 L618.92,219.66 L619.6,219.71 L620.29,219.78 L620.97,219.85 L621.65,219.92 L622.34,220" fill="none" stroke="rgb(0,0,255)" stroke-width="0.9" stroke-linejoin="round" stroke-linecap="butt"/>
</g>
<clipPath id="a13"><rect x="534.4" y="128.1" width="147.1" height="92.4"/></clipPath>
<rect x="547.6" y="135.1" width="48.8" height="14.6" rx="1" fill="rgba(255,255,255,0.55)" stroke="#999" stroke-width="0.62"/>
<text x="549.3" y="141.6" font-family="Liberation Sans" font-size="5.46" text-anchor="start" textLength="45.54" lengthAdjust="spacingAndGlyphs" fill="#202020" stroke="#202020" stroke-width="0.07">t-statistic: 5.7029</text>
<text x="549.3" y="147.5" font-family="Liberation Sans" font-size="5.46" text-anchor="start" textLength="40.45" lengthAdjust="spacingAndGlyphs" fill="#202020" stroke="#202020" stroke-width="0.07">p-value: 0.0000</text>
<rect x="644.6" y="131.2" width="34.1" height="17.1" rx="0.8" fill="rgba(255,255,255,0.8)" stroke="#dcdcdc" stroke-width="0.5"/>
<rect x="646.3" y="132.9" width="11.6" height="4.4" fill="rgba(255,0,0,0.5)" stroke="rgba(255,0,0,0.5)" stroke-width="0.5"/>
<text x="661.2" y="136.9" font-family="Liberation Sans" font-size="5.51" text-anchor="start" textLength="10.9" lengthAdjust="spacingAndGlyphs" fill="#202020" stroke="#202020" stroke-width="0.07">RAG</text>
<rect x="646.3" y="140.7" width="11.6" height="4.3" fill="rgba(0,0,255,0.5)" stroke="rgba(0,0,255,0.5)" stroke-width="0.5"/>
<text x="661.2" y="144.6" font-family="Liberation Sans" font-size="5.51" text-anchor="start" textLength="15.57" lengthAdjust="spacingAndGlyphs" fill="#202020" stroke="#202020" stroke-width="0.07">Direct</text>
<rect x="534.4" y="128.1" width="147.1" height="92.4" fill="none" stroke="#3a3a3a" stroke-width="0.65"/>
<line x1="556.3" y1="220.5" x2="556.3" y2="222.4" stroke="#3a3a3a" stroke-width="0.5"/>
<text x="556.3" y="228.4" font-family="Liberation Sans" font-size="5.51" text-anchor="middle" textLength="8.27" lengthAdjust="spacingAndGlyphs" fill="#262626" stroke="#262626" stroke-width="0.07">0.1</text>
<line x1="578.3" y1="220.5" x2="578.3" y2="222.4" stroke="#3a3a3a" stroke-width="0.5"/>
<text x="578.3" y="228.4" font-family="Liberation Sans" font-size="5.51" text-anchor="middle" textLength="8.27" lengthAdjust="spacingAndGlyphs" fill="#262626" stroke="#262626" stroke-width="0.07">0.2</text>
<line x1="600.3" y1="220.5" x2="600.3" y2="222.4" stroke="#3a3a3a" stroke-width="0.5"/>
<text x="600.3" y="228.4" font-family="Liberation Sans" font-size="5.51" text-anchor="middle" textLength="8.27" lengthAdjust="spacingAndGlyphs" fill="#262626" stroke="#262626" stroke-width="0.07">0.3</text>
<line x1="622.3" y1="220.5" x2="622.3" y2="222.4" stroke="#3a3a3a" stroke-width="0.5"/>
<text x="622.3" y="228.4" font-family="Liberation Sans" font-size="5.51" text-anchor="middle" textLength="8.27" lengthAdjust="spacingAndGlyphs" fill="#262626" stroke="#262626" stroke-width="0.07">0.4</text>
<line x1="644.3" y1="220.5" x2="644.3" y2="222.4" stroke="#3a3a3a" stroke-width="0.5"/>
<text x="644.3" y="228.4" font-family="Liberation Sans" font-size="5.51" text-anchor="middle" textLength="8.27" lengthAdjust="spacingAndGlyphs" fill="#262626" stroke="#262626" stroke-width="0.07">0.5</text>
<line x1="666.3" y1="220.5" x2="666.3" y2="222.4" stroke="#3a3a3a" stroke-width="0.5"/>
<text x="666.3" y="228.4" font-family="Liberation Sans" font-size="5.51" text-anchor="middle" textLength="8.27" lengthAdjust="spacingAndGlyphs" fill="#262626" stroke="#262626" stroke-width="0.07">0.6</text>
<line x1="532.5" y1="220.5" x2="534.4" y2="220.5" stroke="#3a3a3a" stroke-width="0.5"/>
<text x="530.6" y="222.37" font-family="Liberation Sans" font-size="5.51" text-anchor="end" textLength="3.31" lengthAdjust="spacingAndGlyphs" fill="#262626" stroke="#262626" stroke-width="0.07">0</text>
<line x1="532.5" y1="206.52" x2="534.4" y2="206.52" stroke="#3a3a3a" stroke-width="0.5"/>
<text x="530.6" y="208.39" font-family="Liberation Sans" font-size="5.51" text-anchor="end" textLength="6.62" lengthAdjust="spacingAndGlyphs" fill="#262626" stroke="#262626" stroke-width="0.07">10</text>
<line x1="532.5" y1="192.54" x2="534.4" y2="192.54" stroke="#3a3a3a" stroke-width="0.5"/>
<text x="530.6" y="194.41" font-family="Liberation Sans" font-size="5.51" text-anchor="end" textLength="6.62" lengthAdjust="spacingAndGlyphs" fill="#262626" stroke="#262626" stroke-width="0.07">20</text>
<line x1="532.5" y1="178.56" x2="534.4" y2="178.56" stroke="#3a3a3a" stroke-width="0.5"/>
<text x="530.6" y="180.43" font-family="Liberation Sans" font-size="5.51" text-anchor="end" textLength="6.62" lengthAdjust="spacingAndGlyphs" fill="#262626" stroke="#262626" stroke-width="0.07">30</text>
<line x1="532.5" y1="164.58" x2="534.4" y2="164.58" stroke="#3a3a3a" stroke-width="0.5"/>
<text x="530.6" y="166.45" font-family="Liberation Sans" font-size="5.51" text-anchor="end" textLength="6.62" lengthAdjust="spacingAndGlyphs" fill="#262626" stroke="#262626" stroke-width="0.07">40</text>
<line x1="532.5" y1="150.6" x2="534.4" y2="150.6" stroke="#3a3a3a" stroke-width="0.5"/>
<text x="530.6" y="152.47" font-family="Liberation Sans" font-size="5.51" text-anchor="end" textLength="6.62" lengthAdjust="spacingAndGlyphs" fill="#262626" stroke="#262626" stroke-width="0.07">50</text>
<line x1="532.5" y1="136.62" x2="534.4" y2="136.62" stroke="#3a3a3a" stroke-width="0.5"/>
<text x="530.6" y="138.49" font-family="Liberation Sans" font-size="5.51" text-anchor="end" textLength="6.62" lengthAdjust="spacingAndGlyphs" fill="#262626" stroke="#262626" stroke-width="0.07">60</text>
<text x="607.95" y="124.8" font-family="Liberation Sans" font-size="6.62" text-anchor="middle" textLength="102.96" lengthAdjust="spacingAndGlyphs" fill="#262626" stroke="#262626" stroke-width="0.05">Average Comparison of Precision</text>
<text x="607.95" y="235.7" font-family="Liberation Sans" font-size="5.51" text-anchor="middle" textLength="40.28" lengthAdjust="spacingAndGlyphs" fill="#262626" stroke="#262626" stroke-width="0.07">Average Scores</text>
<text transform="translate(521.3,174.3) rotate(-90)" x="0" y="0" font-family="Liberation Sans" font-size="5.51" text-anchor="middle" textLength="26.86" lengthAdjust="spacingAndGlyphs" fill="#262626" stroke="#262626" stroke-width="0.07">Frequency</text>
<g clip-path="url(#a20)">
<path d="M25.6,339.4 L25.6,334.37 L33.05,334.37 L33.05,306.72 L40.5,306.72 L40.5,291.63 L47.95,291.63 L47.95,251.41 L55.4,251.41 L55.4,260.21 L62.85,260.21 L62.85,261.47 L70.3,261.47 L70.3,294.15 L77.75,294.15 L77.75,323.06 L85.2,323.06 L85.2,329.34 L92.65,329.34 L92.65,329.34 L100.1,329.34 L100.1,331.86 L107.55,331.86 L107.55,336.89 L115,336.89 L115,336.89 L122.45,336.89 L122.45,334.37 L129.9,334.37 L129.9,338.14 L137.35,338.14 L137.35,338.14 L144.8,338.14 L144.8,338.14 L152.25,338.14 L152.25,338.14 L159.7,338.14 L159.7,339.4 Z" fill="rgba(144,238,144,0.5)" stroke="none"/>
<path d="M25.6,339.4 L25.6,334.37 L33.05,334.37 L33.05,306.72 L40.5,306.72 L40.5,291.63 L47.95,291.63 L47.95,251.41 L55.4,251.41 L55.4,260.21 L62.85,260.21 L62.85,261.47 L70.3,261.47 L70.3,294.15 L77.75,294.15 L77.75,323.06 L85.2,323.06 L85.2,329.34 L92.65,329.34 L92.65,329.34 L100.1,329.34 L100.1,331.86 L107.55,331.86 L107.55,336.89 L115,336.89 L115,336.89 L122.45,336.89 L122.45,334.37 L129.9,334.37 L129.9,338.14 L137.35,338.14 L137.35,338.14 L144.8,338.14 L144.8,338.14 L152.25,338.14 L152.25,338.14 L159.7,338.14 L159.7,339.4 Z" fill="none" stroke="rgba(144,238,144,0.75)" stroke-width="0.6" stroke-linejoin="miter"/>
<path d="M25.59,339.4 L25.59,337.3 L32.01,337.3 L32.01,332.62 L34.35,332.62 L34.35,329.12 L37.27,329.12 L37.27,324.45 L39.61,324.45 L39.61,326.78 L43.11,326.78 L43.11,323.04 L46.61,323.04 L46.61,320.94 L49.53,320.94 L49.53,317.44 L52.45,317.44 L52.45,304.59 L54.79,304.59 L54.79,315.1 L58.29,315.1 L58.29,296.99 L60.63,296.99 L60.63,315.1 L64.13,315.1 L64.13,314.87 L66.47,314.87 L66.47,316.27 L69.39,316.27 L69.39,326.2 L72.31,326.2 L72.31,326.78 L75.81,326.78 L75.81,330.29 L78.73,330.29 L78.73,336.13 L82.23,336.13 L82.23,337.88 L92.74,337.88 L92.74,335.54 L94.5,335.54 L94.5,339.4 Z" fill="rgba(0,100,0,0.5)" stroke="none"/>
<path d="M25.59,339.4 L25.59,337.3 L32.01,337.3 L32.01,332.62 L34.35,332.62 L34.35,329.12 L37.27,329.12 L37.27,324.45 L39.61,324.45 L39.61,326.78 L43.11,326.78 L43.11,323.04 L46.61,323.04 L46.61,320.94 L49.53,320.94 L49.53,317.44 L52.45,317.44 L52.45,304.59 L54.79,304.59 L54.79,315.1 L58.29,315.1 L58.29,296.99 L60.63,296.99 L60.63,315.1 L64.13,315.1 L64.13,314.87 L66.47,314.87 L66.47,316.27 L69.39,316.27 L69.39,326.2 L72.31,326.2 L72.31,326.78 L75.81,326.78 L75.81,330.29 L78.73,330.29 L78.73,336.13 L82.23,336.13 L82.23,337.88 L92.74,337.88 L92.74,335.54 L94.5,335.54 L94.5,339.4 Z" fill="none" stroke="rgba(0,100,0,0.75)" stroke-width="0.6" stroke-linejoin="miter"/>
<path d="M25.6,333.64 L26.73,332.11 L27.85,330.33 L28.98,328.3 L30.11,326.03 L31.23,323.53 L32.36,320.83 L33.49,317.97 L34.62,314.97 L35.74,311.86 L36.87,308.66 L38,305.39 L39.12,302.05 L40.25,298.63 L41.38,295.14 L42.5,291.58 L43.63,287.97 L44.76,284.34 L45.88,280.74 L47.01,277.24 L48.14,273.91 L49.26,270.83 L50.39,268.08 L51.52,265.71 L52.65,263.76 L53.77,262.27 L54.9,261.21 L56.03,260.57 L57.15,260.33 L58.28,260.44 L59.41,260.88 L60.53,261.62 L61.66,262.66 L62.79,263.99 L63.91,265.63 L65.04,267.59 L66.17,269.88 L67.29,272.49 L68.42,275.42 L69.55,278.64 L70.68,282.1 L71.8,285.75 L72.93,289.54 L74.06,293.39 L75.18,297.23 L76.31,301 L77.44,304.63 L78.56,308.07 L79.69,311.27 L80.82,314.19 L81.94,316.82 L83.07,319.14 L84.2,321.16 L85.33,322.88 L86.45,324.33 L87.58,325.53 L88.71,326.51 L89.83,327.31 L90.96,327.96 L92.09,328.5 L93.21,328.94 L94.34,329.33 L95.47,329.68 L96.59,330.01 L97.72,330.35 L98.85,330.7 L99.97,331.07 L101.1,331.47 L102.23,331.89 L103.36,332.34 L104.48,332.8 L105.61,333.27 L106.74,333.74 L107.86,334.19 L108.99,334.62 L110.12,335 L111.24,335.34 L112.37,335.62 L113.5,335.84 L114.62,336 L115.75,336.11 L116.88,336.16 L118.01,336.17 L119.13,336.14 L120.26,336.1 L121.39,336.05 L122.51,336.01 L123.64,336 L124.77,336.01 L125.89,336.06 L127.02,336.15 L128.15,336.28 L129.27,336.44 L130.4,336.63 L131.53,336.83 L132.65,337.03 L133.78,337.23 L134.91,337.41 L136.04,337.58 L137.16,337.72 L138.29,337.83 L139.42,337.92 L140.54,337.99 L141.67,338.04 L142.8,338.08 L143.92,338.11 L145.05,338.13 L146.18,338.15 L147.3,338.16 L148.43,338.18 L149.56,338.2 L150.68,338.23 L151.81,338.27 L152.94,338.31 L154.07,338.37 L155.19,338.43 L156.32,338.51 L157.45,338.59 L158.57,338.68 L159.7,338.77" fill="none" stroke="rgb(144,238,144)" stroke-width="0.9" stroke-linejoin="round" stroke-linecap="butt"/>
<path d="M25.59,338.05 L26.17,337.83 L26.75,337.57 L27.33,337.29 L27.91,336.97 L28.49,336.62 L29.07,336.24 L29.64,335.82 L30.22,335.36 L30.8,334.87 L31.38,334.34 L31.96,333.78 L32.54,333.2 L33.12,332.59 L33.7,331.98 L34.28,331.36 L34.86,330.75 L35.43,330.14 L36.01,329.56 L36.59,329 L37.17,328.47 L37.75,327.97 L38.33,327.5 L38.91,327.05 L39.49,326.63 L40.07,326.23 L40.65,325.84 L41.23,325.46 L41.8,325.08 L42.38,324.69 L42.96,324.29 L43.54,323.87 L44.12,323.42 L44.7,322.95 L45.28,322.44 L45.86,321.89 L46.44,321.32 L47.02,320.7 L47.59,320.05 L48.17,319.37 L48.75,318.66 L49.33,317.93 L49.91,317.19 L50.49,316.44 L51.07,315.7 L51.65,314.97 L52.23,314.26 L52.81,313.59 L53.38,312.96 L53.96,312.37 L54.54,311.84 L55.12,311.37 L55.7,310.96 L56.28,310.62 L56.86,310.36 L57.44,310.18 L58.02,310.08 L58.6,310.07 L59.18,310.16 L59.75,310.33 L60.33,310.6 L60.91,310.95 L61.49,311.38 L62.07,311.88 L62.65,312.44 L63.23,313.05 L63.81,313.71 L64.39,314.4 L64.97,315.11 L65.54,315.85 L66.12,316.61 L66.7,317.38 L67.28,318.17 L67.86,318.97 L68.44,319.78 L69.02,320.59 L69.6,321.4 L70.18,322.21 L70.76,323 L71.33,323.79 L71.91,324.55 L72.49,325.3 L73.07,326.04 L73.65,326.75 L74.23,327.46 L74.81,328.15 L75.39,328.84 L75.97,329.51 L76.55,330.18 L77.13,330.85 L77.7,331.5 L78.28,332.13 L78.86,332.75 L79.44,333.35 L80.02,333.91 L80.6,334.44 L81.18,334.93 L81.76,335.38 L82.34,335.79 L82.92,336.15 L83.49,336.46 L84.07,336.73 L84.65,336.95 L85.23,337.14 L85.81,337.29 L86.39,337.41 L86.97,337.51 L87.55,337.58 L88.13,337.63 L88.71,337.67 L89.29,337.71 L89.86,337.74 L90.44,337.77 L91.02,337.81 L91.6,337.85 L92.18,337.91 L92.76,337.97 L93.34,338.05 L93.92,338.14 L94.5,338.24" fill="none" stroke="rgb(0,100,0)" stroke-width="0.9" stroke-linejoin="round" stroke-linecap="butt"/>
</g>
<clipPath id="a20"><rect x="19" y="247.7" width="147.2" height="91.7"/></clipPath>
<rect x="32.2" y="254.7" width="48.8" height="14.6" rx="1" fill="rgba(255,255,255,0.55)" stroke="#999" stroke-width="0.62"/>
<text x="33.9" y="261.2" font-family="Liberation Sans" font-size="5.46" text-anchor="start" textLength="45.54" lengthAdjust="spacingAndGlyphs" fill="#202020" stroke="#202020" stroke-width="0.07">t-statistic: 4.4886</text>
<text x="33.9" y="267.1" font-family="Liberation Sans" font-size="5.46" text-anchor="start" textLength="40.45" lengthAdjust="spacingAndGlyphs" fill="#202020" stroke="#202020" stroke-width="0.07">p-value: 0.0000</text>
<rect x="129.3" y="250.8" width="34.1" height="17.1" rx="0.8" fill="rgba(255,255,255,0.8)" stroke="#dcdcdc" stroke-width="0.5"/>
<rect x="131" y="252.5" width="11.6" height="4.4" fill="rgba(144,238,144,0.5)" stroke="rgba(144,238,144,0.5)" stroke-width="0.5"/>
<text x="145.9" y="256.5" font-family="Liberation Sans" font-size="5.51" text-anchor="start" textLength="10.9" lengthAdjust="spacingAndGlyphs" fill="#202020" stroke="#202020" stroke-width="0.07">RAG</text>
<rect x="131" y="260.3" width="11.6" height="4.3" fill="rgba(0,100,0,0.5)" stroke="rgba(0,100,0,0.5)" stroke-width="0.5"/>
<text x="145.9" y="264.2" font-family="Liberation Sans" font-size="5.51" text-anchor="start" textLength="15.57" lengthAdjust="spacingAndGlyphs" fill="#202020" stroke="#202020" stroke-width="0.07">Direct</text>
<rect x="19" y="247.7" width="147.2" height="91.7" fill="none" stroke="#3a3a3a" stroke-width="0.65"/>
<line x1="37.3" y1="339.4" x2="37.3" y2="341.3" stroke="#3a3a3a" stroke-width="0.5"/>
<text x="37.3" y="347.3" font-family="Liberation Sans" font-size="5.51" text-anchor="middle" textLength="8.27" lengthAdjust="spacingAndGlyphs" fill="#262626" stroke="#262626" stroke-width="0.07">0.1</text>
<line x1="60.05" y1="339.4" x2="60.05" y2="341.3" stroke="#3a3a3a" stroke-width="0.5"/>
<text x="60.05" y="347.3" font-family="Liberation Sans" font-size="5.51" text-anchor="middle" textLength="8.27" lengthAdjust="spacingAndGlyphs" fill="#262626" stroke="#262626" stroke-width="0.07">0.2</text>
<line x1="82.8" y1="339.4" x2="82.8" y2="341.3" stroke="#3a3a3a" stroke-width="0.5"/>
<text x="82.8" y="347.3" font-family="Liberation Sans" font-size="5.51" text-anchor="middle" textLength="8.27" lengthAdjust="spacingAndGlyphs" fill="#262626" stroke="#262626" stroke-width="0.07">0.3</text>
<line x1="105.55" y1="339.4" x2="105.55" y2="341.3" stroke="#3a3a3a" stroke-width="0.5"/>
<text x="105.55" y="347.3" font-family="Liberation Sans" font-size="5.51" text-anchor="middle" textLength="8.27" lengthAdjust="spacingAndGlyphs" fill="#262626" stroke="#262626" stroke-width="0.07">0.4</text>
<line x1="128.3" y1="339.4" x2="128.3" y2="341.3" stroke="#3a3a3a" stroke-width="0.5"/>
<text x="128.3" y="347.3" font-family="Liberation Sans" font-size="5.51" text-anchor="middle" textLength="8.27" lengthAdjust="spacingAndGlyphs" fill="#262626" stroke="#262626" stroke-width="0.07">0.5</text>
<line x1="151.05" y1="339.4" x2="151.05" y2="341.3" stroke="#3a3a3a" stroke-width="0.5"/>
<text x="151.05" y="347.3" font-family="Liberation Sans" font-size="5.51" text-anchor="middle" textLength="8.27" lengthAdjust="spacingAndGlyphs" fill="#262626" stroke="#262626" stroke-width="0.07">0.6</text>
<line x1="17.1" y1="339.4" x2="19" y2="339.4" stroke="#3a3a3a" stroke-width="0.5"/>
<text x="15.2" y="341.27" font-family="Liberation Sans" font-size="5.51" text-anchor="end" textLength="3.31" lengthAdjust="spacingAndGlyphs" fill="#262626" stroke="#262626" stroke-width="0.07">0</text>
<line x1="17.1" y1="326.83" x2="19" y2="326.83" stroke="#3a3a3a" stroke-width="0.5"/>
<text x="15.2" y="328.7" font-family="Liberation Sans" font-size="5.51" text-anchor="end" textLength="6.62" lengthAdjust="spacingAndGlyphs" fill="#262626" stroke="#262626" stroke-width="0.07">10</text>
<line x1="17.1" y1="314.26" x2="19" y2="314.26" stroke="#3a3a3a" stroke-width="0.5"/>
<text x="15.2" y="316.13" font-family="Liberation Sans" font-size="5.51" text-anchor="end" textLength="6.62" lengthAdjust="spacingAndGlyphs" fill="#262626" stroke="#262626" stroke-width="0.07">20</text>
<line x1="17.1" y1="301.69" x2="19" y2="301.69" stroke="#3a3a3a" stroke-width="0.5"/>
<text x="15.2" y="303.56" font-family="Liberation Sans" font-size="5.51" text-anchor="end" textLength="6.62" lengthAdjust="spacingAndGlyphs" fill="#262626" stroke="#262626" stroke-width="0.07">30</text>
<line x1="17.1" y1="289.12" x2="19" y2="289.12" stroke="#3a3a3a" stroke-width="0.5"/>
<text x="15.2" y="290.99" font-family="Liberation Sans" font-size="5.51" text-anchor="end" textLength="6.62" lengthAdjust="spacingAndGlyphs" fill="#262626" stroke="#262626" stroke-width="0.07">40</text>
<line x1="17.1" y1="276.55" x2="19" y2="276.55" stroke="#3a3a3a" stroke-width="0.5"/>
<text x="15.2" y="278.42" font-family="Liberation Sans" font-size="5.51" text-anchor="end" textLength="6.62" lengthAdjust="spacingAndGlyphs" fill="#262626" stroke="#262626" stroke-width="0.07">50</text>
<line x1="17.1" y1="263.98" x2="19" y2="263.98" stroke="#3a3a3a" stroke-width="0.5"/>
<text x="15.2" y="265.85" font-family="Liberation Sans" font-size="5.51" text-anchor="end" textLength="6.62" lengthAdjust="spacingAndGlyphs" fill="#262626" stroke="#262626" stroke-width="0.07">60</text>
<line x1="17.1" y1="251.41" x2="19" y2="251.41" stroke="#3a3a3a" stroke-width="0.5"/>
<text x="15.2" y="253.28" font-family="Liberation Sans" font-size="5.51" text-anchor="end" textLength="6.62" lengthAdjust="spacingAndGlyphs" fill="#262626" stroke="#262626" stroke-width="0.07">70</text>
<text x="92.6" y="244.4" font-family="Liberation Sans" font-size="6.62" text-anchor="middle" textLength="69.75" lengthAdjust="spacingAndGlyphs" fill="#262626" stroke="#262626" stroke-width="0.05">Rouge-1-f Comparison</text>
<text x="92.6" y="354.6" font-family="Liberation Sans" font-size="5.51" text-anchor="middle" textLength="17.27" lengthAdjust="spacingAndGlyphs" fill="#262626" stroke="#262626" stroke-width="0.07">Scores</text>
<text transform="translate(5.9,293.55) rotate(-90)" x="0" y="0" font-family="Liberation Sans" font-size="5.51" text-anchor="middle" textLength="26.86" lengthAdjust="spacingAndGlyphs" fill="#262626" stroke="#262626" stroke-width="0.07">Frequency</text>
<g clip-path="url(#a21)">
<path d="M197.2,339.4 L197.2,251.63 L204.65,251.63 L204.65,282.16 L212.1,282.16 L212.1,303.15 L219.55,303.15 L219.55,327.95 L227,327.95 L227,331.77 L234.45,331.77 L234.45,335.58 L241.9,335.58 L241.9,336.86 L249.35,336.86 L249.35,335.58 L256.8,335.58 L256.8,335.58 L264.25,335.58 L264.25,338.13 L271.7,338.13 L271.7,338.13 L279.15,338.13 L279.15,338.76 L286.6,338.76 L286.6,338.13 L294.05,338.13 L294.05,338.13 L301.5,338.13 L301.5,338.76 L308.95,338.76 L308.95,339.4 L316.4,339.4 L316.4,339.4 L323.85,339.4 L323.85,338.76 L331.3,338.76 L331.3,339.4 Z" fill="rgba(144,238,144,0.5)" stroke="none"/>
<path d="M197.2,339.4 L197.2,251.63 L204.65,251.63 L204.65,282.16 L212.1,282.16 L212.1,303.15 L219.55,303.15 L219.55,327.95 L227,327.95 L227,331.77 L234.45,331.77 L234.45,335.58 L241.9,335.58 L241.9,336.86 L249.35,336.86 L249.35,335.58 L256.8,335.58 L256.8,335.58 L264.25,335.58 L264.25,338.13 L271.7,338.13 L271.7,338.13 L279.15,338.13 L279.15,338.76 L286.6,338.76 L286.6,338.13 L294.05,338.13 L294.05,338.13 L301.5,338.13 L301.5,338.76 L308.95,338.76 L308.95,339.4 L316.4,339.4 L316.4,339.4 L323.85,339.4 L323.85,338.76 L331.3,338.76 L331.3,339.4 Z" fill="none" stroke="rgba(144,238,144,0.75)" stroke-width="0.6" stroke-linejoin="miter"/>
<path d="M197.24,339.4 L197.24,291.79 L199.34,291.79 L199.34,334.97 L201.09,334.97 L201.09,305.56 L203.08,305.56 L203.08,323.3 L205.18,323.3 L205.18,321.55 L207.52,321.55 L207.52,320.38 L209.85,320.38 L209.85,326.8 L212.19,326.8 L212.19,330.88 L215.11,330.88 L215.11,332.05 L218.61,332.05 L218.61,335.55 L222.12,335.55 L222.12,336.13 L227.37,336.13 L227.37,334.97 L230.29,334.97 L230.29,337.3 L234.38,337.3 L234.38,338.47 L236.72,338.47 L236.72,339.4 Z" fill="rgba(0,100,0,0.5)" stroke="none"/>
<path d="M197.24,339.4 L197.24,291.79 L199.34,291.79 L199.34,334.97 L201.09,334.97 L201.09,305.56 L203.08,305.56 L203.08,323.3 L205.18,323.3 L205.18,321.55 L207.52,321.55 L207.52,320.38 L209.85,320.38 L209.85,326.8 L212.19,326.8 L212.19,330.88 L215.11,330.88 L215.11,332.05 L218.61,332.05 L218.61,335.55 L222.12,335.55 L222.12,336.13 L227.37,336.13 L227.37,334.97 L230.29,334.97 L230.29,337.3 L234.38,337.3 L234.38,338.47 L236.72,338.47 L236.72,339.4 Z" fill="none" stroke="rgba(0,100,0,0.75)" stroke-width="0.6" stroke-linejoin="miter"/>
<path d="M197.6,293.97 L198.44,291.08 L199.28,288.69 L200.12,286.79 L200.96,285.34 L201.8,284.32 L202.65,283.69 L203.49,283.43 L204.33,283.52 L205.17,283.91 L206.01,284.6 L206.85,285.54 L207.69,286.71 L208.53,288.09 L209.37,289.63 L210.21,291.33 L211.05,293.14 L211.89,295.04 L212.74,297.01 L213.58,299.01 L214.42,301.04 L215.26,303.07 L216.1,305.1 L216.94,307.11 L217.78,309.1 L218.62,311.04 L219.46,312.94 L220.3,314.76 L221.14,316.51 L221.99,318.18 L222.83,319.77 L223.67,321.28 L224.51,322.71 L225.35,324.06 L226.19,325.33 L227.03,326.53 L227.87,327.65 L228.71,328.69 L229.55,329.66 L230.39,330.56 L231.24,331.38 L232.08,332.13 L232.92,332.81 L233.76,333.42 L234.6,333.95 L235.44,334.42 L236.28,334.82 L237.12,335.14 L237.96,335.41 L238.8,335.62 L239.64,335.77 L240.48,335.88 L241.33,335.96 L242.17,336 L243.01,336.01 L243.85,336.01 L244.69,336 L245.53,335.98 L246.37,335.97 L247.21,335.96 L248.05,335.95 L248.89,335.95 L249.73,335.96 L250.58,335.97 L251.42,335.98 L252.26,336 L253.1,336.02 L253.94,336.05 L254.78,336.08 L255.62,336.11 L256.46,336.15 L257.3,336.19 L258.14,336.23 L258.98,336.27 L259.83,336.32 L260.67,336.37 L261.51,336.42 L262.35,336.48 L263.19,336.53 L264.03,336.59 L264.87,336.65 L265.71,336.71 L266.55,336.77 L267.39,336.83 L268.23,336.89 L269.07,336.95 L269.92,337.01 L270.76,337.07 L271.6,337.13 L272.44,337.19 L273.28,337.25 L274.12,337.31 L274.96,337.37 L275.8,337.43 L276.64,337.48 L277.48,337.54 L278.32,337.59 L279.17,337.64 L280.01,337.69 L280.85,337.73 L281.69,337.77 L282.53,337.81 L283.37,337.85 L284.21,337.89 L285.05,337.92 L285.89,337.95 L286.73,337.98 L287.57,338.01 L288.42,338.04 L289.26,338.06 L290.1,338.08 L290.94,338.1 L291.78,338.12 L292.62,338.14 L293.46,338.16 L294.3,338.17 L295.14,338.19 L295.98,338.2 L296.82,338.21 L297.66,338.22 L298.51,338.23 L299.35,338.24 L300.19,338.25 L301.03,338.26 L301.87,338.27 L302.71,338.28 L303.55,338.28 L304.39,338.29 L305.23,338.29 L306.07,338.3 L306.91,338.31 L307.76,338.31 L308.6,338.32 L309.44,338.32 L310.28,338.33 L311.12,338.34 L311.96,338.34 L312.8,338.35 L313.64,338.36 L314.48,338.37 L315.32,338.38 L316.16,338.39 L317.01,338.4 L317.85,338.41 L318.69,338.42 L319.53,338.43 L320.37,338.45 L321.21,338.47 L322.05,338.48 L322.89,338.5 L323.73,338.52 L324.57,338.54 L325.41,338.57 L326.25,338.59 L327.1,338.62 L327.94,338.65 L328.78,338.68 L329.62,338.71 L330.46,338.74 L331.3,338.78" fill="none" stroke="rgb(144,238,144)" stroke-width="0.9" stroke-linejoin="round" stroke-linecap="butt"/>
<path d="M197.6,324.48 L197.85,324.11 L198.09,323.76 L198.34,323.43 L198.58,323.12 L198.83,322.83 L199.08,322.56 L199.32,322.31 L199.57,322.08 L199.81,321.87 L200.06,321.67 L200.31,321.49 L200.55,321.33 L200.8,321.19 L201.04,321.06 L201.29,320.95 L201.53,320.85 L201.78,320.77 L202.03,320.71 L202.27,320.66 L202.52,320.62 L202.76,320.6 L203.01,320.59 L203.26,320.59 L203.5,320.61 L203.75,320.63 L203.99,320.67 L204.24,320.73 L204.49,320.79 L204.73,320.86 L204.98,320.95 L205.22,321.04 L205.47,321.15 L205.72,321.26 L205.96,321.38 L206.21,321.51 L206.45,321.65 L206.7,321.8 L206.94,321.95 L207.19,322.12 L207.44,322.28 L207.68,322.46 L207.93,322.64 L208.17,322.83 L208.42,323.02 L208.67,323.21 L208.91,323.41 L209.16,323.62 L209.4,323.83 L209.65,324.04 L209.9,324.25 L210.14,324.47 L210.39,324.69 L210.63,324.91 L210.88,325.13 L211.13,325.35 L211.37,325.58 L211.62,325.8 L211.86,326.03 L212.11,326.25 L212.35,326.48 L212.6,326.7 L212.85,326.92 L213.09,327.14 L213.34,327.35 L213.58,327.57 L213.83,327.78 L214.08,327.99 L214.32,328.2 L214.57,328.41 L214.81,328.61 L215.06,328.82 L215.31,329.02 L215.55,329.22 L215.8,329.41 L216.04,329.61 L216.29,329.8 L216.54,329.99 L216.78,330.18 L217.03,330.37 L217.27,330.55 L217.52,330.73 L217.76,330.91 L218.01,331.09 L218.26,331.27 L218.5,331.44 L218.75,331.61 L218.99,331.78 L219.24,331.95 L219.49,332.11 L219.73,332.28 L219.98,332.44 L220.22,332.6 L220.47,332.75 L220.72,332.9 L220.96,333.05 L221.21,333.2 L221.45,333.35 L221.7,333.49 L221.95,333.64 L222.19,333.77 L222.44,333.91 L222.68,334.04 L222.93,334.18 L223.17,334.31 L223.42,334.43 L223.67,334.56 L223.91,334.68 L224.16,334.8 L224.4,334.91 L224.65,335.03 L224.9,335.14 L225.14,335.25 L225.39,335.36 L225.63,335.46 L225.88,335.56 L226.13,335.66 L226.37,335.75 L226.62,335.85 L226.86,335.94 L227.11,336.03 L227.36,336.11 L227.6,336.19 L227.85,336.27 L228.09,336.35 L228.34,336.42 L228.58,336.49 L228.83,336.56 L229.08,336.63 L229.32,336.69 L229.57,336.75 L229.81,336.81 L230.06,336.87 L230.31,336.93 L230.55,336.98 L230.8,337.03 L231.04,337.08 L231.29,337.14 L231.54,337.19 L231.78,337.24 L232.03,337.28 L232.27,337.33 L232.52,337.38 L232.77,337.43 L233.01,337.48 L233.26,337.53 L233.5,337.58 L233.75,337.63 L233.99,337.68 L234.24,337.73 L234.49,337.79 L234.73,337.84 L234.98,337.9 L235.22,337.96 L235.47,338.02 L235.72,338.09 L235.96,338.15 L236.21,338.22 L236.45,338.29 L236.7,338.36" fill="none" stroke="rgb(0,100,0)" stroke-width="0.9" stroke-linejoin="round" stroke-linecap="butt"/>
</g>
<clipPath id="a21"><rect x="191.4" y="247.7" width="146.6" height="91.7"/></clipPath>
<rect x="204.6" y="254.7" width="48.8" height="14.6" rx="1" fill="rgba(255,255,255,0.55)" stroke="#999" stroke-width="0.62"/>
<text x="206.3" y="261.2" font-family="Liberation Sans" font-size="5.46" text-anchor="start" textLength="45.54" lengthAdjust="spacingAndGlyphs" fill="#202020" stroke="#202020" stroke-width="0.07">t-statistic: 4.4488</text>
<text x="206.3" y="267.1" font-family="Liberation Sans" font-size="5.46" text-anchor="start" textLength="40.45" lengthAdjust="spacingAndGlyphs" fill="#202020" stroke="#202020" stroke-width="0.07">p-value: 0.0000</text>
<rect x="301.1" y="250.8" width="34.1" height="17.1" rx="0.8" fill="rgba(255,255,255,0.8)" stroke="#dcdcdc" stroke-width="0.5"/>
<rect x="302.8" y="252.5" width="11.6" height="4.4" fill="rgba(144,238,144,0.5)" stroke="rgba(144,238,144,0.5)" stroke-width="0.5"/>
<text x="317.7" y="256.5" font-family="Liberation Sans" font-size="5.51" text-anchor="start" textLength="10.9" lengthAdjust="spacingAndGlyphs" fill="#202020" stroke="#202020" stroke-width="0.07">RAG</text>
<rect x="302.8" y="260.3" width="11.6" height="4.3" fill="rgba(0,100,0,0.5)" stroke="rgba(0,100,0,0.5)" stroke-width="0.5"/>
<text x="317.7" y="264.2" font-family="Liberation Sans" font-size="5.51" text-anchor="start" textLength="15.57" lengthAdjust="spacingAndGlyphs" fill="#202020" stroke="#202020" stroke-width="0.07">Direct</text>
<rect x="191.4" y="247.7" width="146.6" height="91.7" fill="none" stroke="#3a3a3a" stroke-width="0.65"/>
<line x1="197.2" y1="339.4" x2="197.2" y2="341.3" stroke="#3a3a3a" stroke-width="0.5"/>
<text x="197.2" y="347.3" font-family="Liberation Sans" font-size="5.51" text-anchor="middle" textLength="11.58" lengthAdjust="spacingAndGlyphs" fill="#262626" stroke="#262626" stroke-width="0.07">0.00</text>
<line x1="217.12" y1="339.4" x2="217.12" y2="341.3" stroke="#3a3a3a" stroke-width="0.5"/>
<text x="217.12" y="347.3" font-family="Liberation Sans" font-size="5.51" text-anchor="middle" textLength="11.58" lengthAdjust="spacingAndGlyphs" fill="#262626" stroke="#262626" stroke-width="0.07">0.05</text>
<line x1="237.05" y1="339.4" x2="237.05" y2="341.3" stroke="#3a3a3a" stroke-width="0.5"/>
<text x="237.05" y="347.3" font-family="Liberation Sans" font-size="5.51" text-anchor="middle" textLength="11.58" lengthAdjust="spacingAndGlyphs" fill="#262626" stroke="#262626" stroke-width="0.07">0.10</text>
<line x1="256.97" y1="339.4" x2="256.97" y2="341.3" stroke="#3a3a3a" stroke-width="0.5"/>
<text x="256.97" y="347.3" font-family="Liberation Sans" font-size="5.51" text-anchor="middle" textLength="11.58" lengthAdjust="spacingAndGlyphs" fill="#262626" stroke="#262626" stroke-width="0.07">0.15</text>
<line x1="276.9" y1="339.4" x2="276.9" y2="341.3" stroke="#3a3a3a" stroke-width="0.5"/>
<text x="276.9" y="347.3" font-family="Liberation Sans" font-size="5.51" text-anchor="middle" textLength="11.58" lengthAdjust="spacingAndGlyphs" fill="#262626" stroke="#262626" stroke-width="0.07">0.20</text>
<line x1="296.82" y1="339.4" x2="296.82" y2="341.3" stroke="#3a3a3a" stroke-width="0.5"/>
<text x="296.82" y="347.3" font-family="Liberation Sans" font-size="5.51" text-anchor="middle" textLength="11.58" lengthAdjust="spacingAndGlyphs" fill="#262626" stroke="#262626" stroke-width="0.07">0.25</text>
<line x1="316.75" y1="339.4" x2="316.75" y2="341.3" stroke="#3a3a3a" stroke-width="0.5"/>
<text x="316.75" y="347.3" font-family="Liberation Sans" font-size="5.51" text-anchor="middle" textLength="11.58" lengthAdjust="spacingAndGlyphs" fill="#262626" stroke="#262626" stroke-width="0.07">0.30</text>
<line x1="336.67" y1="339.4" x2="336.67" y2="341.3" stroke="#3a3a3a" stroke-width="0.5"/>
<text x="336.67" y="347.3" font-family="Liberation Sans" font-size="5.51" text-anchor="middle" textLength="11.58" lengthAdjust="spacingAndGlyphs" fill="#262626" stroke="#262626" stroke-width="0.07">0.35</text>
<line x1="189.5" y1="339.4" x2="191.4" y2="339.4" stroke="#3a3a3a" stroke-width="0.5"/>
<text x="187.6" y="341.27" font-family="Liberation Sans" font-size="5.51" text-anchor="end" textLength="3.31" lengthAdjust="spacingAndGlyphs" fill="#262626" stroke="#262626" stroke-width="0.07">0</text>
<line x1="189.5" y1="326.68" x2="191.4" y2="326.68" stroke="#3a3a3a" stroke-width="0.5"/>
<text x="187.6" y="328.55" font-family="Liberation Sans" font-size="5.51" text-anchor="end" textLength="6.62" lengthAdjust="spacingAndGlyphs" fill="#262626" stroke="#262626" stroke-width="0.07">20</text>
<line x1="189.5" y1="313.96" x2="191.4" y2="313.96" stroke="#3a3a3a" stroke-width="0.5"/>
<text x="187.6" y="315.83" font-family="Liberation Sans" font-size="5.51" text-anchor="end" textLength="6.62" lengthAdjust="spacingAndGlyphs" fill="#262626" stroke="#262626" stroke-width="0.07">40</text>
<line x1="189.5" y1="301.24" x2="191.4" y2="301.24" stroke="#3a3a3a" stroke-width="0.5"/>
<text x="187.6" y="303.11" font-family="Liberation Sans" font-size="5.51" text-anchor="end" textLength="6.62" lengthAdjust="spacingAndGlyphs" fill="#262626" stroke="#262626" stroke-width="0.07">60</text>
<line x1="189.5" y1="288.52" x2="191.4" y2="288.52" stroke="#3a3a3a" stroke-width="0.5"/>
<text x="187.6" y="290.39" font-family="Liberation Sans" font-size="5.51" text-anchor="end" textLength="6.62" lengthAdjust="spacingAndGlyphs" fill="#262626" stroke="#262626" stroke-width="0.07">80</text>
<line x1="189.5" y1="275.8" x2="191.4" y2="275.8" stroke="#3a3a3a" stroke-width="0.5"/>
<text x="187.6" y="277.67" font-family="Liberation Sans" font-size="5.51" text-anchor="end" textLength="9.93" lengthAdjust="spacingAndGlyphs" fill="#262626" stroke="#262626" stroke-width="0.07">100</text>
<line x1="189.5" y1="263.08" x2="191.4" y2="263.08" stroke="#3a3a3a" stroke-width="0.5"/>
<text x="187.6" y="264.95" font-family="Liberation Sans" font-size="5.51" text-anchor="end" textLength="9.93" lengthAdjust="spacingAndGlyphs" fill="#262626" stroke="#262626" stroke-width="0.07">120</text>
<line x1="189.5" y1="250.36" x2="191.4" y2="250.36" stroke="#3a3a3a" stroke-width="0.5"/>
<text x="187.6" y="252.23" font-family="Liberation Sans" font-size="5.51" text-anchor="end" textLength="9.93" lengthAdjust="spacingAndGlyphs" fill="#262626" stroke="#262626" stroke-width="0.07">140</text>
<text x="264.7" y="244.4" font-family="Liberation Sans" font-size="6.62" text-anchor="middle" textLength="69.75" lengthAdjust="spacingAndGlyphs" fill="#262626" stroke="#262626" stroke-width="0.05">Rouge-2-f Comparison</text>
<text x="264.7" y="354.6" font-family="Liberation Sans" font-size="5.51" text-anchor="middle" textLength="17.27" lengthAdjust="spacingAndGlyphs" fill="#262626" stroke="#262626" stroke-width="0.07">Scores</text>
<text transform="translate(174.5,293.55) rotate(-90)" x="0" y="0" font-family="Liberation Sans" font-size="5.51" text-anchor="middle" textLength="26.86" lengthAdjust="spacingAndGlyphs" fill="#262626" stroke="#262626" stroke-width="0.07">Frequency</text>
<g clip-path="url(#a22)">
<path d="M375.3,339.4 L375.3,318.41 L382.45,318.41 L382.45,281.21 L389.6,281.21 L389.6,251.63 L396.75,251.63 L396.75,279.3 L403.9,279.3 L403.9,290.75 L411.05,290.75 L411.05,322.23 L418.2,322.23 L418.2,333.68 L425.35,333.68 L425.35,328.91 L432.5,328.91 L432.5,334.63 L439.65,334.63 L439.65,335.58 L446.8,335.58 L446.8,335.58 L453.95,335.58 L453.95,335.58 L461.1,335.58 L461.1,338.45 L468.25,338.45 L468.25,338.45 L475.4,338.45 L475.4,338.45 L482.55,338.45 L482.55,339.4 L489.7,339.4 L489.7,339.4 L496.85,339.4 L496.85,337.49 L504,337.49 L504,339.4 Z" fill="rgba(144,238,144,0.5)" stroke="none"/>
<path d="M375.3,339.4 L375.3,318.41 L382.45,318.41 L382.45,281.21 L389.6,281.21 L389.6,251.63 L396.75,251.63 L396.75,279.3 L403.9,279.3 L403.9,290.75 L411.05,290.75 L411.05,322.23 L418.2,322.23 L418.2,333.68 L425.35,333.68 L425.35,328.91 L432.5,328.91 L432.5,334.63 L439.65,334.63 L439.65,335.58 L446.8,335.58 L446.8,335.58 L453.95,335.58 L453.95,335.58 L461.1,335.58 L461.1,338.45 L468.25,338.45 L468.25,338.45 L475.4,338.45 L475.4,338.45 L482.55,338.45 L482.55,339.4 L489.7,339.4 L489.7,339.4 L496.85,339.4 L496.85,337.49 L504,337.49 L504,339.4 Z" fill="none" stroke="rgba(144,238,144,0.75)" stroke-width="0.6" stroke-linejoin="miter"/>
<path d="M370.93,339.4 L370.93,338.51 L375.26,338.51 L375.26,334.43 L380.51,334.43 L380.51,329.75 L385.18,329.75 L385.18,322.75 L389.27,322.75 L389.27,316.91 L391.02,316.91 L391.02,306.17 L392.42,306.17 L392.42,318.08 L395.11,318.08 L395.11,311.07 L398.03,311.07 L398.03,318.08 L400.95,318.08 L400.95,321 L403.87,321 L403.87,327.42 L407.37,327.42 L407.37,329.75 L410.88,329.75 L410.88,333.84 L414.38,333.84 L414.38,336.18 L419.05,336.18 L419.05,337.93 L424.89,337.93 L424.89,338.86 L433.07,338.86 L433.07,337.34 L437.74,337.34 L437.74,339.4 Z" fill="rgba(0,100,0,0.5)" stroke="none"/>
<path d="M370.93,339.4 L370.93,338.51 L375.26,338.51 L375.26,334.43 L380.51,334.43 L380.51,329.75 L385.18,329.75 L385.18,322.75 L389.27,322.75 L389.27,316.91 L391.02,316.91 L391.02,306.17 L392.42,306.17 L392.42,318.08 L395.11,318.08 L395.11,311.07 L398.03,311.07 L398.03,318.08 L400.95,318.08 L400.95,321 L403.87,321 L403.87,327.42 L407.37,327.42 L407.37,329.75 L410.88,329.75 L410.88,333.84 L414.38,333.84 L414.38,336.18 L419.05,336.18 L419.05,337.93 L424.89,337.93 L424.89,338.86 L433.07,338.86 L433.07,337.34 L437.74,337.34 L437.74,339.4 Z" fill="none" stroke="rgba(0,100,0,0.75)" stroke-width="0.6" stroke-linejoin="miter"/>
<path d="M375.3,325.67 L376.38,322.49 L377.46,318.96 L378.54,315.09 L379.63,310.95 L380.71,306.56 L381.79,302 L382.87,297.35 L383.95,292.68 L385.03,288.09 L386.12,283.68 L387.2,279.56 L388.28,275.84 L389.36,272.63 L390.44,270.04 L391.52,268.13 L392.6,266.98 L393.69,266.58 L394.77,266.9 L395.85,267.89 L396.93,269.43 L398.01,271.4 L399.09,273.68 L400.17,276.16 L401.26,278.77 L402.34,281.47 L403.42,284.22 L404.5,287.05 L405.58,289.97 L406.66,293 L407.75,296.16 L408.83,299.44 L409.91,302.8 L410.99,306.2 L412.07,309.57 L413.15,312.83 L414.23,315.92 L415.32,318.77 L416.4,321.33 L417.48,323.56 L418.56,325.47 L419.64,327.03 L420.72,328.27 L421.81,329.2 L422.89,329.88 L423.97,330.35 L425.05,330.65 L426.13,330.86 L427.21,331.01 L428.29,331.17 L429.38,331.36 L430.46,331.6 L431.54,331.9 L432.62,332.26 L433.7,332.65 L434.78,333.06 L435.86,333.47 L436.95,333.85 L438.03,334.2 L439.11,334.5 L440.19,334.76 L441.27,334.97 L442.35,335.13 L443.44,335.26 L444.52,335.36 L445.6,335.43 L446.68,335.49 L447.76,335.53 L448.84,335.57 L449.92,335.6 L451.01,335.64 L452.09,335.69 L453.17,335.76 L454.25,335.85 L455.33,335.97 L456.41,336.11 L457.49,336.28 L458.58,336.48 L459.66,336.7 L460.74,336.94 L461.82,337.17 L462.9,337.4 L463.98,337.62 L465.07,337.81 L466.15,337.97 L467.23,338.11 L468.31,338.21 L469.39,338.29 L470.47,338.35 L471.55,338.4 L472.64,338.44 L473.72,338.47 L474.8,338.5 L475.88,338.53 L476.96,338.58 L478.04,338.63 L479.13,338.69 L480.21,338.76 L481.29,338.83 L482.37,338.9 L483.45,338.98 L484.53,339.05 L485.61,339.11 L486.7,339.15 L487.78,339.17 L488.86,339.18 L489.94,339.16 L491.02,339.11 L492.1,339.04 L493.18,338.96 L494.27,338.86 L495.35,338.75 L496.43,338.64 L497.51,338.55 L498.59,338.48 L499.67,338.44 L500.76,338.43 L501.84,338.46 L502.92,338.52 L504,338.61" fill="none" stroke="rgb(144,238,144)" stroke-width="0.9" stroke-linejoin="round" stroke-linecap="butt"/>
<path d="M370.93,338.51 L371.5,338.31 L372.06,338.08 L372.62,337.83 L373.18,337.54 L373.74,337.22 L374.3,336.88 L374.86,336.52 L375.43,336.13 L375.99,335.72 L376.55,335.29 L377.11,334.84 L377.67,334.37 L378.23,333.88 L378.79,333.38 L379.35,332.85 L379.92,332.3 L380.48,331.73 L381.04,331.13 L381.6,330.49 L382.16,329.83 L382.72,329.14 L383.28,328.41 L383.85,327.64 L384.41,326.84 L384.97,326.02 L385.53,325.16 L386.09,324.28 L386.65,323.38 L387.21,322.47 L387.78,321.57 L388.34,320.68 L388.9,319.82 L389.46,319.01 L390.02,318.24 L390.58,317.55 L391.14,316.93 L391.7,316.4 L392.27,315.96 L392.83,315.6 L393.39,315.34 L393.95,315.17 L394.51,315.09 L395.07,315.09 L395.63,315.18 L396.2,315.35 L396.76,315.61 L397.32,315.95 L397.88,316.37 L398.44,316.86 L399,317.42 L399.56,318.04 L400.13,318.71 L400.69,319.42 L401.25,320.17 L401.81,320.94 L402.37,321.72 L402.93,322.5 L403.49,323.28 L404.06,324.05 L404.62,324.8 L405.18,325.53 L405.74,326.24 L406.3,326.92 L406.86,327.58 L407.42,328.22 L407.98,328.83 L408.55,329.41 L409.11,329.98 L409.67,330.54 L410.23,331.07 L410.79,331.59 L411.35,332.1 L411.91,332.58 L412.48,333.05 L413.04,333.5 L413.6,333.92 L414.16,334.32 L414.72,334.7 L415.28,335.05 L415.84,335.38 L416.41,335.68 L416.97,335.97 L417.53,336.23 L418.09,336.47 L418.65,336.7 L419.21,336.91 L419.77,337.1 L420.33,337.28 L420.9,337.45 L421.46,337.6 L422.02,337.74 L422.58,337.87 L423.14,337.99 L423.7,338.1 L424.26,338.2 L424.83,338.29 L425.39,338.37 L425.95,338.44 L426.51,338.49 L427.07,338.54 L427.63,338.57 L428.19,338.58 L428.76,338.58 L429.32,338.57 L429.88,338.54 L430.44,338.51 L431,338.46 L431.56,338.41 L432.12,338.36 L432.68,338.31 L433.25,338.26 L433.81,338.23 L434.37,338.22 L434.93,338.22 L435.49,338.24 L436.05,338.28 L436.61,338.34 L437.18,338.42 L437.74,338.51" fill="none" stroke="rgb(0,100,0)" stroke-width="0.9" stroke-linejoin="round" stroke-linecap="butt"/>
</g>
<clipPath id="a22"><rect x="362.7" y="247.7" width="146.7" height="91.7"/></clipPath>
<rect x="375.9" y="254.7" width="48.8" height="14.6" rx="1" fill="rgba(255,255,255,0.55)" stroke="#999" stroke-width="0.62"/>
<text x="377.6" y="261.2" font-family="Liberation Sans" font-size="5.46" text-anchor="start" textLength="45.54" lengthAdjust="spacingAndGlyphs" fill="#202020" stroke="#202020" stroke-width="0.07">t-statistic: 4.6827</text>
<text x="377.6" y="267.1" font-family="Liberation Sans" font-size="5.46" text-anchor="start" textLength="40.45" lengthAdjust="spacingAndGlyphs" fill="#202020" stroke="#202020" stroke-width="0.07">p-value: 0.0000</text>
<rect x="472.5" y="250.8" width="34.1" height="17.1" rx="0.8" fill="rgba(255,255,255,0.8)" stroke="#dcdcdc" stroke-width="0.5"/>
<rect x="474.2" y="252.5" width="11.6" height="4.4" fill="rgba(144,238,144,0.5)" stroke="rgba(144,238,144,0.5)" stroke-width="0.5"/>
<text x="489.1" y="256.5" font-family="Liberation Sans" font-size="5.51" text-anchor="start" textLength="10.9" lengthAdjust="spacingAndGlyphs" fill="#202020" stroke="#202020" stroke-width="0.07">RAG</text>
<rect x="474.2" y="260.3" width="11.6" height="4.3" fill="rgba(0,100,0,0.5)" stroke="rgba(0,100,0,0.5)" stroke-width="0.5"/>
<text x="489.1" y="264.2" font-family="Liberation Sans" font-size="5.51" text-anchor="start" textLength="15.57" lengthAdjust="spacingAndGlyphs" fill="#202020" stroke="#202020" stroke-width="0.07">Direct</text>
<rect x="362.7" y="247.7" width="146.7" height="91.7" fill="none" stroke="#3a3a3a" stroke-width="0.65"/>
<line x1="388.9" y1="339.4" x2="388.9" y2="341.3" stroke="#3a3a3a" stroke-width="0.5"/>
<text x="388.9" y="347.3" font-family="Liberation Sans" font-size="5.51" text-anchor="middle" textLength="8.27" lengthAdjust="spacingAndGlyphs" fill="#262626" stroke="#262626" stroke-width="0.07">0.1</text>
<line x1="414.8" y1="339.4" x2="414.8" y2="341.3" stroke="#3a3a3a" stroke-width="0.5"/>
<text x="414.8" y="347.3" font-family="Liberation Sans" font-size="5.51" text-anchor="middle" textLength="8.27" lengthAdjust="spacingAndGlyphs" fill="#262626" stroke="#262626" stroke-width="0.07">0.2</text>
<line x1="440.7" y1="339.4" x2="440.7" y2="341.3" stroke="#3a3a3a" stroke-width="0.5"/>
<text x="440.7" y="347.3" font-family="Liberation Sans" font-size="5.51" text-anchor="middle" textLength="8.27" lengthAdjust="spacingAndGlyphs" fill="#262626" stroke="#262626" stroke-width="0.07">0.3</text>
<line x1="466.6" y1="339.4" x2="466.6" y2="341.3" stroke="#3a3a3a" stroke-width="0.5"/>
<text x="466.6" y="347.3" font-family="Liberation Sans" font-size="5.51" text-anchor="middle" textLength="8.27" lengthAdjust="spacingAndGlyphs" fill="#262626" stroke="#262626" stroke-width="0.07">0.4</text>
<line x1="492.5" y1="339.4" x2="492.5" y2="341.3" stroke="#3a3a3a" stroke-width="0.5"/>
<text x="492.5" y="347.3" font-family="Liberation Sans" font-size="5.51" text-anchor="middle" textLength="8.27" lengthAdjust="spacingAndGlyphs" fill="#262626" stroke="#262626" stroke-width="0.07">0.5</text>
<line x1="360.8" y1="339.4" x2="362.7" y2="339.4" stroke="#3a3a3a" stroke-width="0.5"/>
<text x="358.9" y="341.27" font-family="Liberation Sans" font-size="5.51" text-anchor="end" textLength="3.31" lengthAdjust="spacingAndGlyphs" fill="#262626" stroke="#262626" stroke-width="0.07">0</text>
<line x1="360.8" y1="320.32" x2="362.7" y2="320.32" stroke="#3a3a3a" stroke-width="0.5"/>
<text x="358.9" y="322.19" font-family="Liberation Sans" font-size="5.51" text-anchor="end" textLength="6.62" lengthAdjust="spacingAndGlyphs" fill="#262626" stroke="#262626" stroke-width="0.07">20</text>
<line x1="360.8" y1="301.24" x2="362.7" y2="301.24" stroke="#3a3a3a" stroke-width="0.5"/>
<text x="358.9" y="303.11" font-family="Liberation Sans" font-size="5.51" text-anchor="end" textLength="6.62" lengthAdjust="spacingAndGlyphs" fill="#262626" stroke="#262626" stroke-width="0.07">40</text>
<line x1="360.8" y1="282.16" x2="362.7" y2="282.16" stroke="#3a3a3a" stroke-width="0.5"/>
<text x="358.9" y="284.03" font-family="Liberation Sans" font-size="5.51" text-anchor="end" textLength="6.62" lengthAdjust="spacingAndGlyphs" fill="#262626" stroke="#262626" stroke-width="0.07">60</text>
<line x1="360.8" y1="263.08" x2="362.7" y2="263.08" stroke="#3a3a3a" stroke-width="0.5"/>
<text x="358.9" y="264.95" font-family="Liberation Sans" font-size="5.51" text-anchor="end" textLength="6.62" lengthAdjust="spacingAndGlyphs" fill="#262626" stroke="#262626" stroke-width="0.07">80</text>
<text x="436.05" y="244.4" font-family="Liberation Sans" font-size="6.62" text-anchor="middle" textLength="69.15" lengthAdjust="spacingAndGlyphs" fill="#262626" stroke="#262626" stroke-width="0.05">Rouge-L-f Comparison</text>
<text x="436.05" y="354.6" font-family="Liberation Sans" font-size="5.51" text-anchor="middle" textLength="17.27" lengthAdjust="spacingAndGlyphs" fill="#262626" stroke="#262626" stroke-width="0.07">Scores</text>
<text transform="translate(349.6,293.55) rotate(-90)" x="0" y="0" font-family="Liberation Sans" font-size="5.51" text-anchor="middle" textLength="26.86" lengthAdjust="spacingAndGlyphs" fill="#262626" stroke="#262626" stroke-width="0.07">Frequency</text>
<g clip-path="url(#a23)">
<path d="M541.11,339.4 L541.11,330.05 L544.85,330.05 L544.85,315.1 L550.69,315.1 L550.69,289.4 L554.19,289.4 L554.19,266.62 L558.28,266.62 L558.28,251.44 L562.95,251.44 L562.95,256.69 L567.62,256.69 L567.62,261.36 L572.29,261.36 L572.29,276.55 L576.96,276.55 L576.96,305.76 L581.64,305.76 L581.64,324.45 L585.72,324.45 L585.72,331.46 L590.39,331.46 L590.39,329.12 L595.07,329.12 L595.07,331.46 L599.74,331.46 L599.74,334.96 L606.74,334.96 L606.74,334.96 L612,334.96 L612,334.75 L620,334.75 L620,332.76 L627,332.76 L627,337.74 L634,337.74 L634,334.42 L641,334.42 L641,334.42 L648,334.42 L648,338.57 L655,338.57 L655,337.74 L662,337.74 L662,337.74 L674,337.74 L674,339.4 Z" fill="rgba(255,0,0,0.5)" stroke="none"/>
<path d="M541.11,339.4 L541.11,330.05 L544.85,330.05 L544.85,315.1 L550.69,315.1 L550.69,289.4 L554.19,289.4 L554.19,266.62 L558.28,266.62 L558.28,251.44 L562.95,251.44 L562.95,256.69 L567.62,256.69 L567.62,261.36 L572.29,261.36 L572.29,276.55 L576.96,276.55 L576.96,305.76 L581.64,305.76 L581.64,324.45 L585.72,324.45 L585.72,331.46 L590.39,331.46 L590.39,329.12 L595.07,329.12 L595.07,331.46 L599.74,331.46 L599.74,334.96 L606.74,334.96 L606.74,334.96 L612,334.96 L612,334.75 L620,334.75 L620,332.76 L627,332.76 L627,337.74 L634,337.74 L634,334.42 L641,334.42 L641,334.42 L648,334.42 L648,338.57 L655,338.57 L655,337.74 L662,337.74 L662,337.74 L674,337.74 L674,339.4 Z" fill="none" stroke="rgba(255,0,0,0.75)" stroke-width="0.6" stroke-linejoin="miter"/>
<path d="M541.11,339.4 L541.11,331.46 L544.85,331.46 L544.85,317.44 L549.52,317.44 L549.52,304.59 L553.61,304.59 L553.61,289.99 L558.28,289.99 L558.28,251.44 L561.2,251.44 L561.2,259.03 L567.04,259.03 L567.04,269.54 L572.29,269.54 L572.29,308.09 L576.96,308.09 L576.96,313.93 L579.88,313.93 L579.88,324.45 L583.39,324.45 L583.39,334.96 L588.06,334.96 L588.06,331.46 L590.39,331.46 L590.39,337.88 L606.74,337.88 L606.74,339.4 Z" fill="rgba(0,0,255,0.5)" stroke="none"/>
<path d="M541.11,339.4 L541.11,331.46 L544.85,331.46 L544.85,317.44 L549.52,317.44 L549.52,304.59 L553.61,304.59 L553.61,289.99 L558.28,289.99 L558.28,251.44 L561.2,251.44 L561.2,259.03 L567.04,259.03 L567.04,269.54 L572.29,269.54 L572.29,308.09 L576.96,308.09 L576.96,313.93 L579.88,313.93 L579.88,324.45 L583.39,324.45 L583.39,334.96 L588.06,334.96 L588.06,331.46 L590.39,331.46 L590.39,337.88 L606.74,337.88 L606.74,339.4 Z" fill="none" stroke="rgba(0,0,255,0.75)" stroke-width="0.6" stroke-linejoin="miter"/>
<path d="M541.11,327.38 L542.23,324.87 L543.34,322.05 L544.46,318.93 L545.58,315.53 L546.69,311.86 L547.81,307.96 L548.93,303.88 L550.04,299.67 L551.16,295.39 L552.28,291.12 L553.39,286.94 L554.51,282.91 L555.63,279.13 L556.74,275.66 L557.86,272.57 L558.98,269.91 L560.09,267.74 L561.21,266.07 L562.33,264.93 L563.44,264.33 L564.56,264.27 L565.68,264.72 L566.79,265.69 L567.91,267.14 L569.03,269.05 L570.14,271.39 L571.26,274.12 L572.38,277.19 L573.49,280.55 L574.61,284.16 L575.73,287.94 L576.84,291.83 L577.96,295.76 L579.08,299.65 L580.19,303.45 L581.31,307.08 L582.43,310.51 L583.55,313.67 L584.66,316.55 L585.78,319.12 L586.9,321.39 L588.01,323.36 L589.13,325.04 L590.25,326.47 L591.36,327.68 L592.48,328.69 L593.6,329.55 L594.71,330.28 L595.83,330.9 L596.95,331.45 L598.06,331.94 L599.18,332.37 L600.3,332.75 L601.41,333.1 L602.53,333.41 L603.65,333.68 L604.76,333.91 L605.88,334.1 L607,334.25 L608.11,334.37 L609.23,334.45 L610.35,334.5 L611.46,334.53 L612.58,334.53 L613.7,334.52 L614.81,334.5 L615.93,334.48 L617.05,334.46 L618.16,334.46 L619.28,334.47 L620.4,334.5 L621.51,334.55 L622.63,334.62 L623.75,334.72 L624.86,334.83 L625.98,334.94 L627.1,335.06 L628.21,335.17 L629.33,335.27 L630.45,335.34 L631.56,335.4 L632.68,335.43 L633.8,335.43 L634.91,335.43 L636.03,335.41 L637.15,335.4 L638.26,335.39 L639.38,335.4 L640.5,335.44 L641.61,335.51 L642.73,335.61 L643.85,335.74 L644.97,335.9 L646.08,336.08 L647.2,336.28 L648.32,336.49 L649.43,336.7 L650.55,336.9 L651.67,337.09 L652.78,337.25 L653.9,337.4 L655.02,337.52 L656.13,337.61 L657.25,337.68 L658.37,337.74 L659.48,337.78 L660.6,337.81 L661.72,337.84 L662.83,337.87 L663.95,337.9 L665.07,337.94 L666.18,337.98 L667.3,338.04 L668.42,338.11 L669.53,338.18 L670.65,338.27 L671.77,338.37 L672.88,338.47 L674,338.57" fill="none" stroke="rgb(255,0,0)" stroke-width="0.9" stroke-linejoin="round" stroke-linecap="butt"/>
<path d="M541.11,333.72 L541.66,332.6 L542.21,331.37 L542.76,330.06 L543.32,328.65 L543.87,327.19 L544.42,325.66 L544.97,324.1 L545.52,322.51 L546.07,320.89 L546.63,319.26 L547.18,317.63 L547.73,315.97 L548.28,314.31 L548.83,312.62 L549.38,310.91 L549.93,309.16 L550.49,307.38 L551.04,305.54 L551.59,303.64 L552.14,301.67 L552.69,299.61 L553.24,297.44 L553.8,295.17 L554.35,292.76 L554.9,290.23 L555.45,287.58 L556,284.82 L556.55,281.98 L557.1,279.1 L557.66,276.25 L558.21,273.48 L558.76,270.86 L559.31,268.46 L559.86,266.34 L560.41,264.53 L560.97,263.06 L561.52,261.95 L562.07,261.18 L562.62,260.74 L563.17,260.6 L563.72,260.74 L564.27,261.11 L564.83,261.71 L565.38,262.5 L565.93,263.48 L566.48,264.65 L567.03,266 L567.58,267.54 L568.14,269.29 L568.69,271.25 L569.24,273.44 L569.79,275.84 L570.34,278.45 L570.89,281.23 L571.45,284.16 L572,287.17 L572.55,290.22 L573.1,293.24 L573.65,296.17 L574.2,298.97 L574.75,301.61 L575.31,304.07 L575.86,306.35 L576.41,308.45 L576.96,310.4 L577.51,312.22 L578.06,313.95 L578.62,315.6 L579.17,317.21 L579.72,318.77 L580.27,320.3 L580.82,321.8 L581.37,323.25 L581.92,324.65 L582.48,325.99 L583.03,327.24 L583.58,328.4 L584.13,329.45 L584.68,330.38 L585.23,331.2 L585.79,331.91 L586.34,332.51 L586.89,333.02 L587.44,333.47 L587.99,333.86 L588.54,334.22 L589.09,334.55 L589.65,334.89 L590.2,335.21 L590.75,335.54 L591.3,335.86 L591.85,336.17 L592.4,336.47 L592.96,336.74 L593.51,336.98 L594.06,337.19 L594.61,337.36 L595.16,337.5 L595.71,337.61 L596.26,337.7 L596.82,337.76 L597.37,337.8 L597.92,337.83 L598.47,337.86 L599.02,337.87 L599.57,337.89 L600.13,337.9 L600.68,337.92 L601.23,337.94 L601.78,337.97 L602.33,338 L602.88,338.05 L603.44,338.11 L603.99,338.17 L604.54,338.25 L605.09,338.34 L605.64,338.43 L606.19,338.54 L606.74,338.64" fill="none" stroke="rgb(0,0,255)" stroke-width="0.9" stroke-linejoin="round" stroke-linecap="butt"/>
</g>
<clipPath id="a23"><rect x="534.4" y="247.7" width="147.1" height="91.7"/></clipPath>
<rect x="547.6" y="254.7" width="48.8" height="14.6" rx="1" fill="rgba(255,255,255,0.55)" stroke="#999" stroke-width="0.62"/>
<text x="549.3" y="261.2" font-family="Liberation Sans" font-size="5.46" text-anchor="start" textLength="45.54" lengthAdjust="spacingAndGlyphs" fill="#202020" stroke="#202020" stroke-width="0.07">t-statistic: 4.8661</text>
<text x="549.3" y="267.1" font-family="Liberation Sans" font-size="5.46" text-anchor="start" textLength="40.45" lengthAdjust="spacingAndGlyphs" fill="#202020" stroke="#202020" stroke-width="0.07">p-value: 0.0000</text>
<rect x="644.6" y="250.8" width="34.1" height="17.1" rx="0.8" fill="rgba(255,255,255,0.8)" stroke="#dcdcdc" stroke-width="0.5"/>
<rect x="646.3" y="252.5" width="11.6" height="4.4" fill="rgba(255,0,0,0.5)" stroke="rgba(255,0,0,0.5)" stroke-width="0.5"/>
<text x="661.2" y="256.5" font-family="Liberation Sans" font-size="5.51" text-anchor="start" textLength="10.9" lengthAdjust="spacingAndGlyphs" fill="#202020" stroke="#202020" stroke-width="0.07">RAG</text>
<rect x="646.3" y="260.3" width="11.6" height="4.3" fill="rgba(0,0,255,0.5)" stroke="rgba(0,0,255,0.5)" stroke-width="0.5"/>
<text x="661.2" y="264.2" font-family="Liberation Sans" font-size="5.51" text-anchor="start" textLength="15.57" lengthAdjust="spacingAndGlyphs" fill="#202020" stroke="#202020" stroke-width="0.07">Direct</text>
<rect x="534.4" y="247.7" width="147.1" height="91.7" fill="none" stroke="#3a3a3a" stroke-width="0.65"/>
<line x1="560" y1="339.4" x2="560" y2="341.3" stroke="#3a3a3a" stroke-width="0.5"/>
<text x="560" y="347.3" font-family="Liberation Sans" font-size="5.51" text-anchor="middle" textLength="8.27" lengthAdjust="spacingAndGlyphs" fill="#262626" stroke="#262626" stroke-width="0.07">0.1</text>
<line x1="588.6" y1="339.4" x2="588.6" y2="341.3" stroke="#3a3a3a" stroke-width="0.5"/>
<text x="588.6" y="347.3" font-family="Liberation Sans" font-size="5.51" text-anchor="middle" textLength="8.27" lengthAdjust="spacingAndGlyphs" fill="#262626" stroke="#262626" stroke-width="0.07">0.2</text>
<line x1="617.2" y1="339.4" x2="617.2" y2="341.3" stroke="#3a3a3a" stroke-width="0.5"/>
<text x="617.2" y="347.3" font-family="Liberation Sans" font-size="5.51" text-anchor="middle" textLength="8.27" lengthAdjust="spacingAndGlyphs" fill="#262626" stroke="#262626" stroke-width="0.07">0.3</text>
<line x1="645.8" y1="339.4" x2="645.8" y2="341.3" stroke="#3a3a3a" stroke-width="0.5"/>
<text x="645.8" y="347.3" font-family="Liberation Sans" font-size="5.51" text-anchor="middle" textLength="8.27" lengthAdjust="spacingAndGlyphs" fill="#262626" stroke="#262626" stroke-width="0.07">0.4</text>
<line x1="674.4" y1="339.4" x2="674.4" y2="341.3" stroke="#3a3a3a" stroke-width="0.5"/>
<text x="674.4" y="347.3" font-family="Liberation Sans" font-size="5.51" text-anchor="middle" textLength="8.27" lengthAdjust="spacingAndGlyphs" fill="#262626" stroke="#262626" stroke-width="0.07">0.5</text>
<line x1="532.5" y1="339.4" x2="534.4" y2="339.4" stroke="#3a3a3a" stroke-width="0.5"/>
<text x="530.6" y="341.27" font-family="Liberation Sans" font-size="5.51" text-anchor="end" textLength="3.31" lengthAdjust="spacingAndGlyphs" fill="#262626" stroke="#262626" stroke-width="0.07">0</text>
<line x1="532.5" y1="322.8" x2="534.4" y2="322.8" stroke="#3a3a3a" stroke-width="0.5"/>
<text x="530.6" y="324.67" font-family="Liberation Sans" font-size="5.51" text-anchor="end" textLength="6.62" lengthAdjust="spacingAndGlyphs" fill="#262626" stroke="#262626" stroke-width="0.07">10</text>
<line x1="532.5" y1="306.2" x2="534.4" y2="306.2" stroke="#3a3a3a" stroke-width="0.5"/>
<text x="530.6" y="308.07" font-family="Liberation Sans" font-size="5.51" text-anchor="end" textLength="6.62" lengthAdjust="spacingAndGlyphs" fill="#262626" stroke="#262626" stroke-width="0.07">20</text>
<line x1="532.5" y1="289.6" x2="534.4" y2="289.6" stroke="#3a3a3a" stroke-width="0.5"/>
<text x="530.6" y="291.47" font-family="Liberation Sans" font-size="5.51" text-anchor="end" textLength="6.62" lengthAdjust="spacingAndGlyphs" fill="#262626" stroke="#262626" stroke-width="0.07">30</text>
<line x1="532.5" y1="273" x2="534.4" y2="273" stroke="#3a3a3a" stroke-width="0.5"/>
<text x="530.6" y="274.87" font-family="Liberation Sans" font-size="5.51" text-anchor="end" textLength="6.62" lengthAdjust="spacingAndGlyphs" fill="#262626" stroke="#262626" stroke-width="0.07">40</text>
<line x1="532.5" y1="256.4" x2="534.4" y2="256.4" stroke="#3a3a3a" stroke-width="0.5"/>
<text x="530.6" y="258.27" font-family="Liberation Sans" font-size="5.51" text-anchor="end" textLength="6.62" lengthAdjust="spacingAndGlyphs" fill="#262626" stroke="#262626" stroke-width="0.07">50</text>
<text x="607.95" y="244.4" font-family="Liberation Sans" font-size="6.62" text-anchor="middle" textLength="97.71" lengthAdjust="spacingAndGlyphs" fill="#262626" stroke="#262626" stroke-width="0.05">Average Comparison of F-score</text>
<text x="607.95" y="354.6" font-family="Liberation Sans" font-size="5.51" text-anchor="middle" textLength="40.28" lengthAdjust="spacingAndGlyphs" fill="#262626" stroke="#262626" stroke-width="0.07">Average Scores</text>
<text transform="translate(521.3,293.55) rotate(-90)" x="0" y="0" font-family="Liberation Sans" font-size="5.51" text-anchor="middle" textLength="26.86" lengthAdjust="spacingAndGlyphs" fill="#262626" stroke="#262626" stroke-width="0.07">Frequency</text>
<text x="323" y="394" font-family="Liberation Serif" font-size="28" text-anchor="middle" textLength="31.08" lengthAdjust="spacingAndGlyphs" fill="#000">(a)</text>
<text x="345.2" y="884.8" font-family="Liberation Serif" font-size="28" text-anchor="middle" textLength="32.65" lengthAdjust="spacingAndGlyphs" fill="#000">(b)</text>
<text x="348" y="1347.4" font-family="Liberation Serif" font-size="28" text-anchor="middle" textLength="31.08" lengthAdjust="spacingAndGlyphs" fill="#000">(c)</text></g></svg></body></html>
